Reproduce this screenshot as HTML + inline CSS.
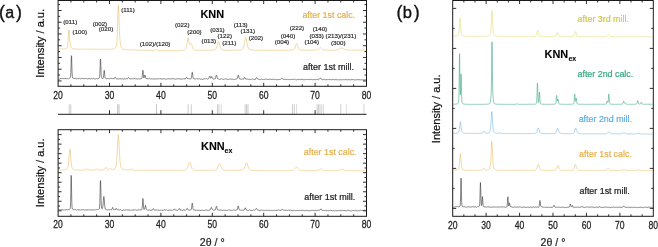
<!DOCTYPE html>
<html><head><meta charset="utf-8"><style>
html,body{margin:0;padding:0;background:#fff;}
body{width:658px;height:247px;overflow:hidden;font-family:"Liberation Sans",sans-serif;}
svg{display:block;will-change:transform;}
text{font-family:"Liberation Sans",sans-serif;}
</style></head><body>
<svg width="658" height="247" viewBox="0 0 658 247" font-family="Liberation Sans, sans-serif"><path d="M58.60,49.01 L58.95,49.03 L59.30,49.02 L59.65,49.04 L60.00,49.05 L60.35,48.98 L60.70,48.94 L61.05,49.02 L61.40,48.98 L61.75,48.95 L62.10,49.03 L62.45,49.00 L62.80,49.03 L63.15,48.98 L63.50,48.97 L63.85,48.89 L64.20,48.89 L64.55,48.90 L64.90,48.83 L65.25,48.79 L65.60,48.72 L65.95,48.53 L66.30,48.43 L66.65,48.22 L67.00,47.81 L67.35,46.97 L67.70,45.23 L68.05,41.44 L68.40,35.50 L68.75,29.94 L69.10,30.21 L69.45,35.41 L69.80,40.03 L70.15,42.85 L70.50,44.78 L70.85,46.38 L71.20,47.47 L71.55,48.02 L71.90,48.33 L72.25,48.51 L72.60,48.72 L72.95,48.78 L73.30,48.86 L73.65,48.88 L74.00,48.92 L74.35,48.94 L74.70,48.96 L75.05,49.01 L75.40,49.04 L75.75,49.10 L76.10,49.11 L76.45,49.16 L76.80,49.18 L77.15,49.21 L77.50,49.19 L77.85,49.11 L78.20,49.16 L78.55,49.21 L78.90,49.23 L79.25,49.20 L79.60,49.20 L79.95,49.14 L80.30,49.19 L80.65,49.18 L81.00,49.15 L81.35,49.10 L81.70,49.17 L82.05,49.24 L82.40,49.15 L82.75,49.20 L83.10,49.18 L83.45,49.14 L83.80,49.13 L84.15,49.19 L84.50,49.24 L84.85,49.16 L85.20,49.19 L85.55,49.13 L85.90,49.19 L86.25,49.17 L86.60,49.24 L86.95,49.28 L87.30,49.25 L87.65,49.29 L88.00,49.23 L88.35,49.17 L88.70,49.20 L89.05,49.15 L89.40,49.14 L89.75,49.16 L90.10,49.20 L90.45,49.17 L90.80,49.13 L91.15,49.22 L91.50,49.20 L91.85,49.27 L92.20,49.30 L92.55,49.25 L92.90,49.24 L93.25,49.24 L93.60,49.25 L93.95,49.26 L94.30,49.25 L94.65,49.26 L95.00,49.31 L95.35,49.28 L95.70,49.25 L96.05,49.27 L96.40,49.22 L96.75,49.21 L97.10,49.28 L97.45,49.27 L97.80,49.26 L98.15,49.19 L98.50,49.20 L98.85,49.23 L99.20,49.17 L99.55,49.22 L99.90,49.25 L100.25,49.19 L100.60,49.24 L100.95,49.25 L101.30,49.28 L101.65,49.26 L102.00,49.30 L102.35,49.33 L102.70,49.25 L103.05,49.22 L103.40,49.28 L103.75,49.35 L104.10,49.30 L104.45,49.31 L104.80,49.33 L105.15,49.30 L105.50,49.30 L105.85,49.29 L106.20,49.29 L106.55,49.32 L106.90,49.30 L107.25,49.30 L107.60,49.35 L107.95,49.28 L108.30,49.31 L108.65,49.35 L109.00,49.31 L109.35,49.28 L109.70,49.33 L110.05,49.28 L110.40,49.24 L110.75,49.24 L111.10,49.26 L111.45,49.19 L111.80,49.16 L112.15,49.13 L112.50,49.16 L112.85,49.09 L113.20,49.08 L113.55,48.94 L113.90,48.84 L114.25,48.75 L114.60,48.65 L114.95,48.42 L115.30,48.11 L115.65,47.70 L116.00,47.16 L116.35,46.13 L116.70,44.14 L117.05,39.91 L117.40,31.98 L117.75,20.34 L118.10,8.63 L118.45,5.26 L118.80,12.92 L119.15,23.42 L119.50,31.81 L119.85,37.81 L120.20,41.98 L120.55,44.64 L120.90,46.33 L121.25,47.38 L121.60,48.00 L121.95,48.39 L122.30,48.72 L122.65,48.86 L123.00,48.95 L123.35,49.16 L123.70,49.30 L124.05,49.42 L124.40,49.44 L124.75,49.54 L125.10,49.61 L125.45,49.57 L125.80,49.63 L126.15,49.69 L126.50,49.72 L126.85,49.72 L127.20,49.70 L127.55,49.71 L127.90,49.71 L128.25,49.70 L128.60,49.77 L128.95,49.77 L129.30,49.85 L129.65,49.80 L130.00,49.89 L130.35,49.92 L130.70,49.97 L131.05,50.00 L131.40,50.03 L131.75,50.00 L132.10,49.92 L132.45,49.97 L132.80,49.93 L133.15,49.93 L133.50,49.99 L133.85,50.00 L134.20,50.00 L134.55,50.07 L134.90,50.07 L135.25,50.04 L135.60,50.02 L135.95,50.09 L136.30,50.08 L136.65,50.12 L137.00,50.09 L137.35,50.05 L137.70,50.08 L138.05,50.14 L138.40,50.09 L138.75,50.15 L139.10,50.20 L139.45,50.22 L139.80,50.23 L140.15,50.14 L140.50,50.17 L140.85,50.22 L141.20,50.15 L141.55,50.14 L141.90,50.14 L142.25,50.18 L142.60,50.19 L142.95,50.20 L143.30,50.25 L143.65,50.18 L144.00,50.16 L144.35,50.15 L144.70,50.15 L145.05,50.15 L145.40,50.27 L145.75,50.32 L146.10,50.26 L146.45,50.28 L146.80,50.27 L147.15,50.26 L147.50,50.27 L147.85,50.31 L148.20,50.33 L148.55,50.32 L148.90,50.29 L149.25,50.30 L149.60,50.28 L149.95,50.32 L150.30,50.37 L150.65,50.36 L151.00,50.31 L151.35,50.30 L151.70,50.32 L152.05,50.37 L152.40,50.41 L152.75,50.39 L153.10,50.43 L153.45,50.42 L153.80,50.38 L154.15,50.33 L154.50,50.28 L154.85,50.20 L155.20,50.02 L155.55,49.83 L155.90,49.60 L156.25,49.46 L156.60,49.57 L156.95,49.81 L157.30,49.98 L157.65,50.17 L158.00,50.30 L158.35,50.43 L158.70,50.52 L159.05,50.50 L159.40,50.55 L159.75,50.58 L160.10,50.52 L160.45,50.52 L160.80,50.48 L161.15,50.55 L161.50,50.58 L161.85,50.62 L162.20,50.64 L162.55,50.63 L162.90,50.64 L163.25,50.62 L163.60,50.56 L163.95,50.59 L164.30,50.53 L164.65,50.52 L165.00,50.60 L165.35,50.55 L165.70,50.53 L166.05,50.52 L166.40,50.62 L166.75,50.59 L167.10,50.55 L167.45,50.64 L167.80,50.59 L168.15,50.67 L168.50,50.69 L168.85,50.72 L169.20,50.75 L169.55,50.73 L169.90,50.74 L170.25,50.65 L170.60,50.70 L170.95,50.70 L171.30,50.72 L171.65,50.66 L172.00,50.71 L172.35,50.76 L172.70,50.68 L173.05,50.67 L173.40,50.70 L173.75,50.75 L174.10,50.70 L174.45,50.66 L174.80,50.66 L175.15,50.70 L175.50,50.73 L175.85,50.69 L176.20,50.67 L176.55,50.65 L176.90,50.63 L177.25,50.62 L177.60,50.57 L177.95,50.59 L178.30,50.65 L178.65,50.61 L179.00,50.62 L179.35,50.55 L179.70,50.57 L180.05,50.57 L180.40,50.56 L180.75,50.52 L181.10,50.48 L181.45,50.47 L181.80,50.48 L182.15,50.37 L182.50,50.28 L182.85,50.29 L183.20,50.29 L183.55,50.21 L183.90,50.11 L184.25,50.04 L184.60,49.85 L184.95,49.66 L185.30,49.36 L185.65,48.96 L186.00,48.24 L186.35,47.11 L186.70,45.54 L187.05,43.48 L187.40,41.00 L187.75,38.83 L188.10,37.68 L188.45,38.23 L188.80,39.95 L189.15,41.92 L189.50,43.50 L189.85,44.36 L190.20,44.55 L190.55,44.18 L190.90,43.66 L191.25,43.60 L191.60,44.23 L191.95,45.41 L192.30,46.59 L192.65,47.74 L193.00,48.55 L193.35,49.12 L193.70,49.48 L194.05,49.75 L194.40,49.91 L194.75,49.98 L195.10,50.03 L195.45,50.10 L195.80,50.17 L196.15,50.15 L196.50,50.20 L196.85,50.26 L197.20,50.23 L197.55,50.19 L197.90,50.17 L198.25,50.23 L198.60,50.26 L198.95,50.31 L199.30,50.33 L199.65,50.26 L200.00,50.21 L200.35,50.20 L200.70,50.19 L201.05,50.25 L201.40,50.31 L201.75,50.34 L202.10,50.28 L202.45,50.33 L202.80,50.28 L203.15,50.27 L203.50,50.30 L203.85,50.24 L204.20,50.20 L204.55,50.28 L204.90,50.25 L205.25,50.24 L205.60,50.27 L205.95,50.29 L206.30,50.22 L206.65,50.22 L207.00,50.23 L207.35,50.24 L207.70,50.21 L208.05,50.24 L208.40,50.30 L208.75,50.26 L209.10,50.25 L209.45,50.19 L209.80,50.17 L210.15,50.21 L210.50,50.15 L210.85,50.21 L211.20,50.24 L211.55,50.15 L211.90,50.19 L212.25,50.13 L212.60,50.14 L212.95,50.12 L213.30,50.03 L213.65,50.01 L214.00,49.96 L214.35,49.91 L214.70,49.75 L215.05,49.63 L215.40,49.44 L215.75,49.08 L216.10,48.53 L216.45,47.73 L216.80,46.76 L217.15,45.53 L217.50,44.22 L217.85,42.94 L218.20,42.01 L218.55,41.74 L218.90,42.35 L219.25,43.51 L219.60,44.82 L219.95,46.18 L220.30,47.30 L220.65,48.10 L221.00,48.79 L221.35,49.16 L221.70,49.44 L222.05,49.67 L222.40,49.81 L222.75,49.90 L223.10,49.97 L223.45,50.00 L223.80,50.01 L224.15,50.01 L224.50,50.01 L224.85,50.09 L225.20,50.15 L225.55,50.17 L225.90,50.20 L226.25,50.18 L226.60,50.16 L226.95,50.16 L227.30,50.23 L227.65,50.16 L228.00,50.19 L228.35,50.17 L228.70,50.23 L229.05,50.21 L229.40,50.20 L229.75,50.20 L230.10,50.22 L230.45,50.26 L230.80,50.23 L231.15,50.27 L231.50,50.20 L231.85,50.18 L232.20,50.15 L232.55,50.13 L232.90,50.21 L233.25,50.24 L233.60,50.19 L233.95,50.16 L234.30,50.17 L234.65,50.21 L235.00,50.24 L235.35,50.25 L235.70,50.22 L236.05,50.15 L236.40,50.14 L236.75,50.10 L237.10,50.11 L237.45,50.12 L237.80,50.06 L238.15,50.03 L238.50,50.07 L238.85,49.98 L239.20,50.02 L239.55,50.03 L239.90,50.02 L240.25,49.92 L240.60,49.85 L240.95,49.78 L241.30,49.69 L241.65,49.62 L242.00,49.44 L242.35,49.13 L242.70,48.79 L243.05,48.18 L243.40,47.33 L243.75,46.14 L244.10,44.48 L244.45,42.61 L244.80,40.52 L245.15,38.55 L245.50,37.27 L245.85,37.13 L246.20,38.17 L246.55,40.06 L246.90,42.11 L247.25,44.12 L247.60,45.81 L247.95,47.08 L248.30,48.01 L248.65,48.70 L249.00,49.14 L249.35,49.33 L249.70,49.55 L250.05,49.68 L250.40,49.70 L250.75,49.77 L251.10,49.82 L251.45,49.84 L251.80,49.92 L252.15,50.03 L252.50,50.03 L252.85,50.10 L253.20,50.13 L253.55,50.08 L253.90,50.15 L254.25,50.16 L254.60,50.22 L254.95,50.23 L255.30,50.24 L255.65,50.20 L256.00,50.24 L256.35,50.28 L256.70,50.30 L257.05,50.25 L257.40,50.27 L257.75,50.25 L258.10,50.19 L258.45,50.15 L258.80,50.14 L259.15,50.14 L259.50,50.15 L259.85,50.19 L260.20,50.24 L260.55,50.25 L260.90,50.24 L261.25,50.27 L261.60,50.24 L261.95,50.24 L262.30,50.29 L262.65,50.26 L263.00,50.22 L263.35,50.29 L263.70,50.31 L264.05,50.27 L264.40,50.25 L264.75,50.27 L265.10,50.28 L265.45,50.24 L265.80,50.19 L266.15,50.19 L266.50,50.26 L266.85,50.22 L267.20,50.24 L267.55,50.22 L267.90,50.20 L268.25,50.19 L268.60,50.22 L268.95,50.20 L269.30,50.17 L269.65,50.17 L270.00,50.17 L270.35,50.22 L270.70,50.19 L271.05,50.16 L271.40,50.21 L271.75,50.23 L272.10,50.27 L272.45,50.22 L272.80,50.23 L273.15,50.24 L273.50,50.19 L273.85,50.29 L274.20,50.25 L274.55,50.21 L274.90,50.23 L275.25,50.21 L275.60,50.25 L275.95,50.24 L276.30,50.21 L276.65,50.18 L277.00,50.25 L277.35,50.23 L277.70,50.28 L278.05,50.27 L278.40,50.33 L278.75,50.27 L279.10,50.24 L279.45,50.22 L279.80,50.28 L280.15,50.29 L280.50,50.25 L280.85,50.20 L281.20,50.25 L281.55,50.31 L281.90,50.30 L282.25,50.21 L282.60,50.17 L282.95,50.15 L283.30,50.15 L283.65,50.13 L284.00,50.12 L284.35,50.20 L284.70,50.27 L285.05,50.21 L285.40,50.28 L285.75,50.25 L286.10,50.28 L286.45,50.31 L286.80,50.32 L287.15,50.21 L287.50,50.18 L287.85,50.20 L288.20,50.25 L288.55,50.17 L288.90,50.14 L289.25,50.20 L289.60,50.13 L289.95,50.12 L290.30,50.10 L290.65,50.12 L291.00,50.16 L291.35,50.07 L291.70,50.07 L292.05,50.06 L292.40,50.04 L292.75,49.96 L293.10,49.91 L293.45,49.74 L293.80,49.53 L294.15,49.20 L294.50,48.78 L294.85,48.09 L295.20,47.13 L295.55,45.98 L295.90,44.83 L296.25,43.87 L296.60,43.50 L296.95,43.88 L297.30,44.86 L297.65,46.01 L298.00,47.18 L298.35,48.04 L298.70,48.73 L299.05,49.24 L299.40,49.56 L299.75,49.67 L300.10,49.77 L300.45,49.92 L300.80,49.99 L301.15,50.07 L301.50,50.12 L301.85,50.10 L302.20,50.16 L302.55,50.17 L302.90,50.13 L303.25,50.12 L303.60,50.08 L303.95,50.10 L304.30,50.19 L304.65,50.13 L305.00,50.16 L305.35,50.12 L305.70,50.09 L306.05,50.16 L306.40,50.14 L306.75,50.10 L307.10,50.10 L307.45,50.16 L307.80,50.19 L308.15,50.13 L308.50,50.12 L308.85,50.22 L309.20,50.17 L309.55,50.19 L309.90,50.18 L310.25,50.22 L310.60,50.22 L310.95,50.24 L311.30,50.22 L311.65,50.17 L312.00,50.13 L312.35,50.10 L312.70,50.17 L313.05,50.12 L313.40,50.08 L313.75,50.17 L314.10,50.12 L314.45,50.18 L314.80,50.10 L315.15,50.09 L315.50,50.05 L315.85,50.10 L316.20,50.08 L316.55,50.04 L316.90,50.00 L317.25,49.94 L317.60,49.75 L317.95,49.56 L318.30,49.27 L318.65,48.88 L319.00,48.54 L319.35,48.12 L319.70,47.76 L320.05,47.46 L320.40,47.45 L320.75,47.68 L321.10,48.09 L321.45,48.45 L321.80,48.85 L322.15,49.21 L322.50,49.44 L322.85,49.67 L323.20,49.86 L323.55,49.93 L323.90,50.01 L324.25,50.06 L324.60,50.04 L324.95,50.05 L325.30,50.15 L325.65,50.12 L326.00,50.12 L326.35,50.08 L326.70,50.07 L327.05,50.06 L327.40,50.16 L327.75,50.19 L328.10,50.22 L328.45,50.26 L328.80,50.23 L329.15,50.26 L329.50,50.22 L329.85,50.18 L330.20,50.23 L330.55,50.25 L330.90,50.27 L331.25,50.22 L331.60,50.22 L331.95,50.18 L332.30,50.23 L332.65,50.24 L333.00,50.17 L333.35,50.21 L333.70,50.13 L334.05,50.07 L334.40,50.12 L334.75,50.08 L335.10,50.09 L335.45,50.10 L335.80,50.01 L336.15,50.05 L336.50,49.99 L336.85,49.96 L337.20,49.90 L337.55,49.89 L337.90,49.83 L338.25,49.69 L338.60,49.51 L338.95,49.35 L339.30,49.19 L339.65,48.94 L340.00,48.71 L340.35,48.55 L340.70,48.35 L341.05,48.20 L341.40,48.09 L341.75,48.02 L342.10,47.99 L342.45,48.04 L342.80,48.20 L343.15,48.43 L343.50,48.68 L343.85,48.92 L344.20,49.12 L344.55,49.37 L344.90,49.49 L345.25,49.63 L345.60,49.79 L345.95,49.90 L346.30,49.92 L346.65,49.93 L347.00,50.03 L347.35,49.98 L347.70,49.98 L348.05,50.04 L348.40,50.07 L348.75,50.05 L349.10,50.02 L349.45,50.03 L349.80,50.11 L350.15,50.12 L350.50,50.19 L350.85,50.21 L351.20,50.25 L351.55,50.15 L351.90,50.11 L352.25,50.07 L352.60,50.10 L352.95,50.11 L353.30,50.08 L353.65,50.13 L354.00,50.09 L354.35,50.11 L354.70,50.10 L355.05,50.18 L355.40,50.17 L355.75,50.14 L356.10,50.10 L356.45,50.13 L356.80,50.17 L357.15,50.20 L357.50,50.24 L357.85,50.26 L358.20,50.19 L358.55,50.14 L358.90,50.19 L359.25,50.23 L359.60,50.21 L359.95,50.24 L360.30,50.22 L360.65,50.18 L361.00,50.14 L361.35,50.10 L361.70,50.16 L362.05,50.22 L362.40,50.26 L362.75,50.22 L363.10,50.23 L363.45,50.26 L363.80,50.27 L364.15,50.24 L364.50,50.21 L364.85,50.20 L365.20,50.15 L365.55,50.13 L365.90,50.18" fill="none" stroke="#ebbd66" stroke-width="0.60" stroke-linejoin="round"/>
<path d="M58.60,79.77 L58.85,79.66 L59.10,79.54 L59.35,79.45 L59.60,79.21 L59.85,79.08 L60.10,78.57 L60.35,78.56 L60.60,78.79 L60.85,78.77 L61.10,78.89 L61.35,78.57 L61.60,78.56 L61.85,78.45 L62.10,78.54 L62.35,78.60 L62.60,78.36 L62.85,78.33 L63.10,78.34 L63.35,78.66 L63.60,78.76 L63.85,78.52 L64.10,78.69 L64.35,78.47 L64.60,78.58 L64.85,78.40 L65.10,78.24 L65.35,78.58 L65.60,78.44 L65.85,78.36 L66.10,78.69 L66.35,78.82 L66.60,78.60 L66.85,78.81 L67.10,78.71 L67.35,78.72 L67.60,78.49 L67.85,78.72 L68.10,78.72 L68.35,78.84 L68.60,78.86 L68.85,78.56 L69.10,78.41 L69.35,78.20 L69.60,78.03 L69.85,77.83 L70.10,77.73 L70.35,77.54 L70.60,76.18 L70.85,72.65 L71.10,64.56 L71.35,55.67 L71.60,56.45 L71.85,65.57 L72.10,73.16 L72.35,76.61 L72.60,77.78 L72.85,77.87 L73.10,78.35 L73.35,78.16 L73.60,78.42 L73.85,78.63 L74.10,78.34 L74.35,78.57 L74.60,78.50 L74.85,78.57 L75.10,78.34 L75.35,78.23 L75.60,78.24 L75.85,78.62 L76.10,78.47 L76.35,78.66 L76.60,78.85 L76.85,78.96 L77.10,78.74 L77.35,78.62 L77.60,78.64 L77.85,78.77 L78.10,78.52 L78.35,78.70 L78.60,78.82 L78.85,78.92 L79.10,78.57 L79.35,78.82 L79.60,78.55 L79.85,78.52 L80.10,78.63 L80.35,78.85 L80.60,78.69 L80.85,78.88 L81.10,78.80 L81.35,78.65 L81.60,78.57 L81.85,78.46 L82.10,78.35 L82.35,78.32 L82.60,78.57 L82.85,78.86 L83.10,78.61 L83.35,78.42 L83.60,78.77 L83.85,78.74 L84.10,78.67 L84.35,78.55 L84.60,78.65 L84.85,78.82 L85.10,78.74 L85.35,78.67 L85.60,78.46 L85.85,78.76 L86.10,78.50 L86.35,78.58 L86.60,78.79 L86.85,78.57 L87.10,78.73 L87.35,78.93 L87.60,78.89 L87.85,78.94 L88.10,78.64 L88.35,78.63 L88.60,78.49 L88.85,78.75 L89.10,78.62 L89.35,78.63 L89.60,78.90 L89.85,78.98 L90.10,79.08 L90.35,78.89 L90.60,78.79 L90.85,78.86 L91.10,78.78 L91.35,78.64 L91.60,78.62 L91.85,78.48 L92.10,78.52 L92.35,78.83 L92.60,78.99 L92.85,78.92 L93.10,78.82 L93.35,78.68 L93.60,78.49 L93.85,78.47 L94.10,78.70 L94.35,78.87 L94.60,78.72 L94.85,78.84 L95.10,78.90 L95.35,78.89 L95.60,78.87 L95.85,78.90 L96.10,78.72 L96.35,78.79 L96.60,78.61 L96.85,78.61 L97.10,78.74 L97.35,78.76 L97.60,78.57 L97.85,78.76 L98.10,78.71 L98.35,78.61 L98.60,78.24 L98.85,78.23 L99.10,77.98 L99.35,77.76 L99.60,76.61 L99.85,73.58 L100.10,67.28 L100.35,60.22 L100.60,58.96 L100.85,65.38 L101.10,72.36 L101.35,76.34 L101.60,77.62 L101.85,78.21 L102.10,78.47 L102.35,78.51 L102.60,78.66 L102.85,78.68 L103.10,78.34 L103.35,77.66 L103.60,75.80 L103.85,73.03 L104.10,70.32 L104.35,70.51 L104.60,73.63 L104.85,76.49 L105.10,77.98 L105.35,78.24 L105.60,78.57 L105.85,78.64 L106.10,78.72 L106.35,78.66 L106.60,78.73 L106.85,78.84 L107.10,78.84 L107.35,78.89 L107.60,78.58 L107.85,78.48 L108.10,78.56 L108.35,78.71 L108.60,78.59 L108.85,78.75 L109.10,78.81 L109.35,78.56 L109.60,78.63 L109.85,78.55 L110.10,78.43 L110.35,78.40 L110.60,78.47 L110.85,78.45 L111.10,78.44 L111.35,78.36 L111.60,78.52 L111.85,78.57 L112.10,78.71 L112.35,78.78 L112.60,78.64 L112.85,78.89 L113.10,78.58 L113.35,78.61 L113.60,78.55 L113.85,78.56 L114.10,78.35 L114.35,78.45 L114.60,78.07 L114.85,77.49 L115.10,77.42 L115.35,77.37 L115.60,77.86 L115.85,78.19 L116.10,78.53 L116.35,78.89 L116.60,79.01 L116.85,78.87 L117.10,78.98 L117.35,78.97 L117.60,78.82 L117.85,78.64 L118.10,78.76 L118.35,78.81 L118.60,79.03 L118.85,79.15 L119.10,79.05 L119.35,78.87 L119.60,79.03 L119.85,78.69 L120.10,78.56 L120.35,78.70 L120.60,78.81 L120.85,78.64 L121.10,78.78 L121.35,78.99 L121.60,78.85 L121.85,78.80 L122.10,78.68 L122.35,78.64 L122.60,78.95 L122.85,78.84 L123.10,79.06 L123.35,79.15 L123.60,79.05 L123.85,78.83 L124.10,79.06 L124.35,78.96 L124.60,78.86 L124.85,78.75 L125.10,79.02 L125.35,78.93 L125.60,78.78 L125.85,78.79 L126.10,78.62 L126.35,78.76 L126.60,78.75 L126.85,78.67 L127.10,78.84 L127.35,78.92 L127.60,78.47 L127.85,78.29 L128.10,77.84 L128.35,77.77 L128.60,77.78 L128.85,77.84 L129.10,78.11 L129.35,78.30 L129.60,78.81 L129.85,78.74 L130.10,78.84 L130.35,78.83 L130.60,78.90 L130.85,78.93 L131.10,79.01 L131.35,78.75 L131.60,78.92 L131.85,78.79 L132.10,78.84 L132.35,78.77 L132.60,78.71 L132.85,78.79 L133.10,78.80 L133.35,78.76 L133.60,78.93 L133.85,78.94 L134.10,78.68 L134.35,78.64 L134.60,78.72 L134.85,78.99 L135.10,79.12 L135.35,79.03 L135.60,78.72 L135.85,78.92 L136.10,78.86 L136.35,78.90 L136.60,78.98 L136.85,78.99 L137.10,78.93 L137.35,79.10 L137.60,78.94 L137.85,78.85 L138.10,79.02 L138.35,78.80 L138.60,78.72 L138.85,78.94 L139.10,78.69 L139.35,78.92 L139.60,78.97 L139.85,78.87 L140.10,78.74 L140.35,78.90 L140.60,79.04 L140.85,78.73 L141.10,78.70 L141.35,78.68 L141.60,78.59 L141.85,78.26 L142.10,77.40 L142.35,75.71 L142.60,72.87 L142.85,70.20 L143.10,71.09 L143.35,74.40 L143.60,76.93 L143.85,77.95 L144.10,77.62 L144.35,77.04 L144.60,76.04 L144.85,75.12 L145.10,75.12 L145.35,75.93 L145.60,77.40 L145.85,78.05 L146.10,78.56 L146.35,78.93 L146.60,78.99 L146.85,78.74 L147.10,78.69 L147.35,78.97 L147.60,78.75 L147.85,78.86 L148.10,78.82 L148.35,78.69 L148.60,78.84 L148.85,78.64 L149.10,78.56 L149.35,78.65 L149.60,78.56 L149.85,78.50 L150.10,78.72 L150.35,78.92 L150.60,79.10 L150.85,78.84 L151.10,78.84 L151.35,78.78 L151.60,78.89 L151.85,78.90 L152.10,79.12 L152.35,78.97 L152.60,78.73 L152.85,78.91 L153.10,78.75 L153.35,78.89 L153.60,78.91 L153.85,79.12 L154.10,79.06 L154.35,79.06 L154.60,78.89 L154.85,78.93 L155.10,78.81 L155.35,78.99 L155.60,78.97 L155.85,78.78 L156.10,78.72 L156.35,78.76 L156.60,78.95 L156.85,78.79 L157.10,78.96 L157.35,79.03 L157.60,78.79 L157.85,78.94 L158.10,78.74 L158.35,78.65 L158.60,78.83 L158.85,78.75 L159.10,79.02 L159.35,78.98 L159.60,78.88 L159.85,79.05 L160.10,78.78 L160.35,78.96 L160.60,78.74 L160.85,78.67 L161.10,79.01 L161.35,79.07 L161.60,78.89 L161.85,78.73 L162.10,79.06 L162.35,79.09 L162.60,79.19 L162.85,78.91 L163.10,78.99 L163.35,78.91 L163.60,78.80 L163.85,78.79 L164.10,78.92 L164.35,78.87 L164.60,78.85 L164.85,78.73 L165.10,78.99 L165.35,79.05 L165.60,79.16 L165.85,79.04 L166.10,79.18 L166.35,79.09 L166.60,79.08 L166.85,79.07 L167.10,79.14 L167.35,79.01 L167.60,78.80 L167.85,78.65 L168.10,78.65 L168.35,78.57 L168.60,78.94 L168.85,78.95 L169.10,79.09 L169.35,78.79 L169.60,78.86 L169.85,79.10 L170.10,79.10 L170.35,79.01 L170.60,78.98 L170.85,78.78 L171.10,78.70 L171.35,78.66 L171.60,78.74 L171.85,78.80 L172.10,79.06 L172.35,78.86 L172.60,78.79 L172.85,78.77 L173.10,78.70 L173.35,78.73 L173.60,78.71 L173.85,78.83 L174.10,78.67 L174.35,79.02 L174.60,78.94 L174.85,79.18 L175.10,79.18 L175.35,79.18 L175.60,79.08 L175.85,79.26 L176.10,78.95 L176.35,79.05 L176.60,78.92 L176.85,79.04 L177.10,79.13 L177.35,78.90 L177.60,78.80 L177.85,78.66 L178.10,78.68 L178.35,78.62 L178.60,78.74 L178.85,79.08 L179.10,78.98 L179.35,78.90 L179.60,78.93 L179.85,78.85 L180.10,79.03 L180.35,79.12 L180.60,78.90 L180.85,78.82 L181.10,78.98 L181.35,79.20 L181.60,79.18 L181.85,79.07 L182.10,79.27 L182.35,78.90 L182.60,78.73 L182.85,78.99 L183.10,78.95 L183.35,78.74 L183.60,78.88 L183.85,79.16 L184.10,79.09 L184.35,78.97 L184.60,78.77 L184.85,78.64 L185.10,78.96 L185.35,78.90 L185.60,78.99 L185.85,78.44 L186.10,77.97 L186.35,77.40 L186.60,77.28 L186.85,77.37 L187.10,77.84 L187.35,78.32 L187.60,78.56 L187.85,78.55 L188.10,78.52 L188.35,78.95 L188.60,78.80 L188.85,78.87 L189.10,78.86 L189.35,78.91 L189.60,78.71 L189.85,78.71 L190.10,78.59 L190.35,78.72 L190.60,78.95 L190.85,78.85 L191.10,78.73 L191.35,77.86 L191.60,76.30 L191.85,74.35 L192.10,72.41 L192.35,72.21 L192.60,73.88 L192.85,76.14 L193.10,77.77 L193.35,78.67 L193.60,78.76 L193.85,78.83 L194.10,79.04 L194.35,78.87 L194.60,78.73 L194.85,78.75 L195.10,78.66 L195.35,78.94 L195.60,79.12 L195.85,78.98 L196.10,78.81 L196.35,78.70 L196.60,78.72 L196.85,78.65 L197.10,78.79 L197.35,78.93 L197.60,78.85 L197.85,78.72 L198.10,78.96 L198.35,78.77 L198.60,78.75 L198.85,78.77 L199.10,78.83 L199.35,78.73 L199.60,78.83 L199.85,78.84 L200.10,79.05 L200.35,79.08 L200.60,79.25 L200.85,79.24 L201.10,79.28 L201.35,79.21 L201.60,79.11 L201.85,79.24 L202.10,79.23 L202.35,79.37 L202.60,79.33 L202.85,79.30 L203.10,79.08 L203.35,79.22 L203.60,79.08 L203.85,78.89 L204.10,78.75 L204.35,78.72 L204.60,78.75 L204.85,78.97 L205.10,78.90 L205.35,78.75 L205.60,79.01 L205.85,79.05 L206.10,78.81 L206.35,78.69 L206.60,78.66 L206.85,78.75 L207.10,79.04 L207.35,79.24 L207.60,79.17 L207.85,78.94 L208.10,78.88 L208.35,78.76 L208.60,78.54 L208.85,77.98 L209.10,77.51 L209.35,76.89 L209.60,76.29 L209.85,76.00 L210.10,76.69 L210.35,77.34 L210.60,78.08 L210.85,78.22 L211.10,78.18 L211.35,77.64 L211.60,76.73 L211.85,76.51 L212.10,77.25 L212.35,77.88 L212.60,78.40 L212.85,78.70 L213.10,78.99 L213.35,79.21 L213.60,79.12 L213.85,79.28 L214.10,79.18 L214.35,78.88 L214.60,79.04 L214.85,78.90 L215.10,78.54 L215.35,78.55 L215.60,77.64 L215.85,76.76 L216.10,75.62 L216.35,75.09 L216.60,75.23 L216.85,76.12 L217.10,77.20 L217.35,77.95 L217.60,78.55 L217.85,78.73 L218.10,79.00 L218.35,78.90 L218.60,78.89 L218.85,78.85 L219.10,79.18 L219.35,79.30 L219.60,79.37 L219.85,79.30 L220.10,79.16 L220.35,78.96 L220.60,79.18 L220.85,79.14 L221.10,78.90 L221.35,78.84 L221.60,78.77 L221.85,79.03 L222.10,79.26 L222.35,79.05 L222.60,79.23 L222.85,79.10 L223.10,79.20 L223.35,79.35 L223.60,79.31 L223.85,79.38 L224.10,79.21 L224.35,78.94 L224.60,79.03 L224.85,79.12 L225.10,78.98 L225.35,79.00 L225.60,78.98 L225.85,78.82 L226.10,78.88 L226.35,78.94 L226.60,79.03 L226.85,79.18 L227.10,79.12 L227.35,79.37 L227.60,79.43 L227.85,79.51 L228.10,79.45 L228.35,79.40 L228.60,79.31 L228.85,79.39 L229.10,79.22 L229.35,79.24 L229.60,79.30 L229.85,79.25 L230.10,79.11 L230.35,78.93 L230.60,78.84 L230.85,78.92 L231.10,79.07 L231.35,79.24 L231.60,79.32 L231.85,79.16 L232.10,79.37 L232.35,79.17 L232.60,79.28 L232.85,79.02 L233.10,79.21 L233.35,79.28 L233.60,79.45 L233.85,79.52 L234.10,79.45 L234.35,79.49 L234.60,79.46 L234.85,79.37 L235.10,79.13 L235.35,79.14 L235.60,79.33 L235.85,79.10 L236.10,79.33 L236.35,79.22 L236.60,79.06 L236.85,78.71 L237.10,78.51 L237.35,77.90 L237.60,77.16 L237.85,76.16 L238.10,75.23 L238.35,75.01 L238.60,75.75 L238.85,76.78 L239.10,77.97 L239.35,78.62 L239.60,79.02 L239.85,79.03 L240.10,79.28 L240.35,79.08 L240.60,79.02 L240.85,78.98 L241.10,79.13 L241.35,79.34 L241.60,79.11 L241.85,79.21 L242.10,79.32 L242.35,79.12 L242.60,78.93 L242.85,79.06 L243.10,79.24 L243.35,79.32 L243.60,79.19 L243.85,78.75 L244.10,78.21 L244.35,77.67 L244.60,77.48 L244.85,77.38 L245.10,77.75 L245.35,78.39 L245.60,79.02 L245.85,79.00 L246.10,78.89 L246.35,78.86 L246.60,79.06 L246.85,79.19 L247.10,79.06 L247.35,78.99 L247.60,79.15 L247.85,79.27 L248.10,79.35 L248.35,79.42 L248.60,79.14 L248.85,79.19 L249.10,79.38 L249.35,79.55 L249.60,79.34 L249.85,79.48 L250.10,79.46 L250.35,79.58 L250.60,79.31 L250.85,79.39 L251.10,79.51 L251.35,79.39 L251.60,79.15 L251.85,79.06 L252.10,78.99 L252.35,78.92 L252.60,78.92 L252.85,79.14 L253.10,79.01 L253.35,79.25 L253.60,79.38 L253.85,79.48 L254.10,79.53 L254.35,79.51 L254.60,79.59 L254.85,79.64 L255.10,79.46 L255.35,79.44 L255.60,78.87 L255.85,78.35 L256.10,77.85 L256.35,77.56 L256.60,77.61 L256.85,77.94 L257.10,78.46 L257.35,78.91 L257.60,78.90 L257.85,79.05 L258.10,79.19 L258.35,79.18 L258.60,79.05 L258.85,79.21 L259.10,79.20 L259.35,79.34 L259.60,79.33 L259.85,79.55 L260.10,79.67 L260.35,79.31 L260.60,79.44 L260.85,79.50 L261.10,79.33 L261.35,79.15 L261.60,79.22 L261.85,79.21 L262.10,79.38 L262.35,79.57 L262.60,79.41 L262.85,79.28 L263.10,79.31 L263.35,79.43 L263.60,79.53 L263.85,79.49 L264.10,79.33 L264.35,79.26 L264.60,79.48 L264.85,79.43 L265.10,79.18 L265.35,79.23 L265.60,79.16 L265.85,79.34 L266.10,79.14 L266.35,79.13 L266.60,79.05 L266.85,79.18 L267.10,79.50 L267.35,79.47 L267.60,79.37 L267.85,79.59 L268.10,79.30 L268.35,79.26 L268.60,79.47 L268.85,79.19 L269.10,79.41 L269.35,79.33 L269.60,79.12 L269.85,79.12 L270.10,79.22 L270.35,79.24 L270.60,79.32 L270.85,79.14 L271.10,79.12 L271.35,79.47 L271.60,79.41 L271.85,79.39 L272.10,79.20 L272.35,79.18 L272.60,79.50 L272.85,79.55 L273.10,79.49 L273.35,79.24 L273.60,79.26 L273.85,79.46 L274.10,79.41 L274.35,79.46 L274.60,79.63 L274.85,79.61 L275.10,79.59 L275.35,79.28 L275.60,79.11 L275.85,79.38 L276.10,79.36 L276.35,79.57 L276.60,79.66 L276.85,79.75 L277.10,79.55 L277.35,79.73 L277.60,79.72 L277.85,79.78 L278.10,79.45 L278.35,79.57 L278.60,79.47 L278.85,79.68 L279.10,79.80 L279.35,79.49 L279.60,79.42 L279.85,79.30 L280.10,79.33 L280.35,79.24 L280.60,79.35 L280.85,79.10 L281.10,78.89 L281.35,78.79 L281.60,78.40 L281.85,78.22 L282.10,78.35 L282.35,78.52 L282.60,78.46 L282.85,78.51 L283.10,79.03 L283.35,79.43 L283.60,79.49 L283.85,79.30 L284.10,79.24 L284.35,79.54 L284.60,79.71 L284.85,79.37 L285.10,79.25 L285.35,79.31 L285.60,79.27 L285.85,79.48 L286.10,79.41 L286.35,79.57 L286.60,79.36 L286.85,79.42 L287.10,79.68 L287.35,79.69 L287.60,79.40 L287.85,79.25 L288.10,79.42 L288.35,79.39 L288.60,79.37 L288.85,79.41 L289.10,79.49 L289.35,79.72 L289.60,79.49 L289.85,79.53 L290.10,79.40 L290.35,79.47 L290.60,79.59 L290.85,79.37 L291.10,79.42 L291.35,79.56 L291.60,79.30 L291.85,79.52 L292.10,79.48 L292.35,79.49 L292.60,79.55 L292.85,79.68 L293.10,79.39 L293.35,79.44 L293.60,79.25 L293.85,79.31 L294.10,79.33 L294.35,79.18 L294.60,79.23 L294.85,79.34 L295.10,79.49 L295.35,79.71 L295.60,79.56 L295.85,79.56 L296.10,79.65 L296.35,79.80 L296.60,79.90 L296.85,79.97 L297.10,79.67 L297.35,79.45 L297.60,79.69 L297.85,79.41 L298.10,79.44 L298.35,79.60 L298.60,79.58 L298.85,79.51 L299.10,79.73 L299.35,79.54 L299.60,79.57 L299.85,79.71 L300.10,79.46 L300.35,79.42 L300.60,79.47 L300.85,79.54 L301.10,79.40 L301.35,79.44 L301.60,79.27 L301.85,79.20 L302.10,79.28 L302.35,79.23 L302.60,79.60 L302.85,79.46 L303.10,79.39 L303.35,79.60 L303.60,79.70 L303.85,79.52 L304.10,79.69 L304.35,79.69 L304.60,79.58 L304.85,79.63 L305.10,79.48 L305.35,79.40 L305.60,79.65 L305.85,79.58 L306.10,79.77 L306.35,79.52 L306.60,79.36 L306.85,79.24 L307.10,79.50 L307.35,79.56 L307.60,79.33 L307.85,79.21 L308.10,79.53 L308.35,79.55 L308.60,79.74 L308.85,79.44 L309.10,79.54 L309.35,79.37 L309.60,79.57 L309.85,79.63 L310.10,79.66 L310.35,79.49 L310.60,79.75 L310.85,79.48 L311.10,79.31 L311.35,79.52 L311.60,79.35 L311.85,79.25 L312.10,79.38 L312.35,79.54 L312.60,79.75 L312.85,79.78 L313.10,79.49 L313.35,79.60 L313.60,79.76 L313.85,79.50 L314.10,79.66 L314.35,79.51 L314.60,79.45 L314.85,79.27 L315.10,79.54 L315.35,79.57 L315.60,79.77 L315.85,79.67 L316.10,79.47 L316.35,79.38 L316.60,79.36 L316.85,79.68 L317.10,79.49 L317.35,79.33 L317.60,79.37 L317.85,79.25 L318.10,79.35 L318.35,79.50 L318.60,79.58 L318.85,79.36 L319.10,79.16 L319.35,79.11 L319.60,79.02 L319.85,78.65 L320.10,78.35 L320.35,78.28 L320.60,77.99 L320.85,78.12 L321.10,78.53 L321.35,78.93 L321.60,79.40 L321.85,79.52 L322.10,79.64 L322.35,79.59 L322.60,79.73 L322.85,79.84 L323.10,79.63 L323.35,79.43 L323.60,79.40 L323.85,79.43 L324.10,79.70 L324.35,79.55 L324.60,79.65 L324.85,79.71 L325.10,79.89 L325.35,79.59 L325.60,79.74 L325.85,79.61 L326.10,79.43 L326.35,79.59 L326.60,79.78 L326.85,79.76 L327.10,79.49 L327.35,79.79 L327.60,79.67 L327.85,79.72 L328.10,79.80 L328.35,79.61 L328.60,79.59 L328.85,79.53 L329.10,79.39 L329.35,79.30 L329.60,79.56 L329.85,79.56 L330.10,79.78 L330.35,79.51 L330.60,79.48 L330.85,79.41 L331.10,79.74 L331.35,79.84 L331.60,79.96 L331.85,79.83 L332.10,79.56 L332.35,79.57 L332.60,79.48 L332.85,79.33 L333.10,79.52 L333.35,79.48 L333.60,79.38 L333.85,79.52 L334.10,79.80 L334.35,79.96 L334.60,79.81 L334.85,79.56 L335.10,79.74 L335.35,79.53 L335.60,79.61 L335.85,79.44 L336.10,79.79 L336.35,79.76 L336.60,79.70 L336.85,79.58 L337.10,79.65 L337.35,79.90 L337.60,79.77 L337.85,79.59 L338.10,79.64 L338.35,79.87 L338.60,79.73 L338.85,79.78 L339.10,79.94 L339.35,79.75 L339.60,79.88 L339.85,79.81 L340.10,79.58 L340.35,79.42 L340.60,79.76 L340.85,79.72 L341.10,79.68 L341.35,79.89 L341.60,79.84 L341.85,79.78 L342.10,79.64 L342.35,79.79 L342.60,79.63 L342.85,79.65 L343.10,79.80 L343.35,79.81 L343.60,79.59 L343.85,79.50 L344.10,79.69 L344.35,79.81 L344.60,79.58 L344.85,79.88 L345.10,79.63 L345.35,79.51 L345.60,79.40 L345.85,79.52 L346.10,79.67 L346.35,79.87 L346.60,79.64 L346.85,79.77 L347.10,79.56 L347.35,79.67 L347.60,79.58 L347.85,79.58 L348.10,79.43 L348.35,79.67 L348.60,79.52 L348.85,79.74 L349.10,79.66 L349.35,79.74 L349.60,79.80 L349.85,79.77 L350.10,79.94 L350.35,80.05 L350.60,79.81 L350.85,79.70 L351.10,79.90 L351.35,79.65 L351.60,79.65 L351.85,79.65 L352.10,79.93 L352.35,79.66 L352.60,79.78 L352.85,79.89 L353.10,79.94 L353.35,79.61 L353.60,79.89 L353.85,79.74 L354.10,79.92 L354.35,79.92 L354.60,79.81 L354.85,79.95 L355.10,79.95 L355.35,79.79 L355.60,79.89 L355.85,79.83 L356.10,79.90 L356.35,79.90 L356.60,79.98 L356.85,79.72 L357.10,79.74 L357.35,79.51 L357.60,79.77 L357.85,79.90 L358.10,80.00 L358.35,79.68 L358.60,79.74 L358.85,79.74 L359.10,79.57 L359.35,79.52 L359.60,79.86 L359.85,80.00 L360.10,79.77 L360.35,79.93 L360.60,79.94 L360.85,79.81 L361.10,79.87 L361.35,79.70 L361.60,79.63 L361.85,79.46 L362.10,79.68 L362.35,79.77 L362.60,79.90 L362.85,79.85 L363.10,79.79 L363.35,79.70 L363.60,79.85 L363.85,79.76 L364.10,79.82 L364.35,79.94 L364.60,79.85 L364.85,79.91 L365.10,79.65 L365.35,79.60 L365.60,79.85 L365.85,79.66" fill="none" stroke="#333333" stroke-width="0.60" stroke-linejoin="round"/>
<rect x="58.10" y="0.50" width="308.40" height="85.80" fill="none" stroke="#1a1a1a" stroke-width="1"/>
<line x1="109.50" y1="86.30" x2="109.50" y2="82.80" stroke="#1a1a1a" stroke-width="0.90"/>
<line x1="109.50" y1="0.50" x2="109.50" y2="4.00" stroke="#1a1a1a" stroke-width="0.90"/>
<line x1="160.90" y1="86.30" x2="160.90" y2="82.80" stroke="#1a1a1a" stroke-width="0.90"/>
<line x1="160.90" y1="0.50" x2="160.90" y2="4.00" stroke="#1a1a1a" stroke-width="0.90"/>
<line x1="212.30" y1="86.30" x2="212.30" y2="82.80" stroke="#1a1a1a" stroke-width="0.90"/>
<line x1="212.30" y1="0.50" x2="212.30" y2="4.00" stroke="#1a1a1a" stroke-width="0.90"/>
<line x1="263.70" y1="86.30" x2="263.70" y2="82.80" stroke="#1a1a1a" stroke-width="0.90"/>
<line x1="263.70" y1="0.50" x2="263.70" y2="4.00" stroke="#1a1a1a" stroke-width="0.90"/>
<line x1="315.10" y1="86.30" x2="315.10" y2="82.80" stroke="#1a1a1a" stroke-width="0.90"/>
<line x1="315.10" y1="0.50" x2="315.10" y2="4.00" stroke="#1a1a1a" stroke-width="0.90"/>
<line x1="70.95" y1="86.30" x2="70.95" y2="84.30" stroke="#1a1a1a" stroke-width="0.90"/>
<line x1="70.95" y1="0.50" x2="70.95" y2="2.50" stroke="#1a1a1a" stroke-width="0.90"/>
<line x1="83.80" y1="86.30" x2="83.80" y2="84.30" stroke="#1a1a1a" stroke-width="0.90"/>
<line x1="83.80" y1="0.50" x2="83.80" y2="2.50" stroke="#1a1a1a" stroke-width="0.90"/>
<line x1="96.65" y1="86.30" x2="96.65" y2="84.30" stroke="#1a1a1a" stroke-width="0.90"/>
<line x1="96.65" y1="0.50" x2="96.65" y2="2.50" stroke="#1a1a1a" stroke-width="0.90"/>
<line x1="122.35" y1="86.30" x2="122.35" y2="84.30" stroke="#1a1a1a" stroke-width="0.90"/>
<line x1="122.35" y1="0.50" x2="122.35" y2="2.50" stroke="#1a1a1a" stroke-width="0.90"/>
<line x1="135.20" y1="86.30" x2="135.20" y2="84.30" stroke="#1a1a1a" stroke-width="0.90"/>
<line x1="135.20" y1="0.50" x2="135.20" y2="2.50" stroke="#1a1a1a" stroke-width="0.90"/>
<line x1="148.05" y1="86.30" x2="148.05" y2="84.30" stroke="#1a1a1a" stroke-width="0.90"/>
<line x1="148.05" y1="0.50" x2="148.05" y2="2.50" stroke="#1a1a1a" stroke-width="0.90"/>
<line x1="173.75" y1="86.30" x2="173.75" y2="84.30" stroke="#1a1a1a" stroke-width="0.90"/>
<line x1="173.75" y1="0.50" x2="173.75" y2="2.50" stroke="#1a1a1a" stroke-width="0.90"/>
<line x1="186.60" y1="86.30" x2="186.60" y2="84.30" stroke="#1a1a1a" stroke-width="0.90"/>
<line x1="186.60" y1="0.50" x2="186.60" y2="2.50" stroke="#1a1a1a" stroke-width="0.90"/>
<line x1="199.45" y1="86.30" x2="199.45" y2="84.30" stroke="#1a1a1a" stroke-width="0.90"/>
<line x1="199.45" y1="0.50" x2="199.45" y2="2.50" stroke="#1a1a1a" stroke-width="0.90"/>
<line x1="225.15" y1="86.30" x2="225.15" y2="84.30" stroke="#1a1a1a" stroke-width="0.90"/>
<line x1="225.15" y1="0.50" x2="225.15" y2="2.50" stroke="#1a1a1a" stroke-width="0.90"/>
<line x1="238.00" y1="86.30" x2="238.00" y2="84.30" stroke="#1a1a1a" stroke-width="0.90"/>
<line x1="238.00" y1="0.50" x2="238.00" y2="2.50" stroke="#1a1a1a" stroke-width="0.90"/>
<line x1="250.85" y1="86.30" x2="250.85" y2="84.30" stroke="#1a1a1a" stroke-width="0.90"/>
<line x1="250.85" y1="0.50" x2="250.85" y2="2.50" stroke="#1a1a1a" stroke-width="0.90"/>
<line x1="276.55" y1="86.30" x2="276.55" y2="84.30" stroke="#1a1a1a" stroke-width="0.90"/>
<line x1="276.55" y1="0.50" x2="276.55" y2="2.50" stroke="#1a1a1a" stroke-width="0.90"/>
<line x1="289.40" y1="86.30" x2="289.40" y2="84.30" stroke="#1a1a1a" stroke-width="0.90"/>
<line x1="289.40" y1="0.50" x2="289.40" y2="2.50" stroke="#1a1a1a" stroke-width="0.90"/>
<line x1="302.25" y1="86.30" x2="302.25" y2="84.30" stroke="#1a1a1a" stroke-width="0.90"/>
<line x1="302.25" y1="0.50" x2="302.25" y2="2.50" stroke="#1a1a1a" stroke-width="0.90"/>
<line x1="327.95" y1="86.30" x2="327.95" y2="84.30" stroke="#1a1a1a" stroke-width="0.90"/>
<line x1="327.95" y1="0.50" x2="327.95" y2="2.50" stroke="#1a1a1a" stroke-width="0.90"/>
<line x1="340.80" y1="86.30" x2="340.80" y2="84.30" stroke="#1a1a1a" stroke-width="0.90"/>
<line x1="340.80" y1="0.50" x2="340.80" y2="2.50" stroke="#1a1a1a" stroke-width="0.90"/>
<line x1="353.65" y1="86.30" x2="353.65" y2="84.30" stroke="#1a1a1a" stroke-width="0.90"/>
<line x1="353.65" y1="0.50" x2="353.65" y2="2.50" stroke="#1a1a1a" stroke-width="0.90"/>
<line x1="58.10" y1="10.50" x2="61.60" y2="10.50" stroke="#1a1a1a" stroke-width="0.90"/>
<line x1="366.50" y1="10.50" x2="363.00" y2="10.50" stroke="#1a1a1a" stroke-width="0.90"/>
<line x1="58.10" y1="22.24" x2="61.60" y2="22.24" stroke="#1a1a1a" stroke-width="0.90"/>
<line x1="366.50" y1="22.24" x2="363.00" y2="22.24" stroke="#1a1a1a" stroke-width="0.90"/>
<line x1="58.10" y1="33.98" x2="61.60" y2="33.98" stroke="#1a1a1a" stroke-width="0.90"/>
<line x1="366.50" y1="33.98" x2="363.00" y2="33.98" stroke="#1a1a1a" stroke-width="0.90"/>
<line x1="58.10" y1="45.72" x2="61.60" y2="45.72" stroke="#1a1a1a" stroke-width="0.90"/>
<line x1="366.50" y1="45.72" x2="363.00" y2="45.72" stroke="#1a1a1a" stroke-width="0.90"/>
<line x1="58.10" y1="57.46" x2="61.60" y2="57.46" stroke="#1a1a1a" stroke-width="0.90"/>
<line x1="366.50" y1="57.46" x2="363.00" y2="57.46" stroke="#1a1a1a" stroke-width="0.90"/>
<line x1="58.10" y1="69.20" x2="61.60" y2="69.20" stroke="#1a1a1a" stroke-width="0.90"/>
<line x1="366.50" y1="69.20" x2="363.00" y2="69.20" stroke="#1a1a1a" stroke-width="0.90"/>
<line x1="58.10" y1="80.94" x2="61.60" y2="80.94" stroke="#1a1a1a" stroke-width="0.90"/>
<line x1="366.50" y1="80.94" x2="363.00" y2="80.94" stroke="#1a1a1a" stroke-width="0.90"/>
<line x1="58.10" y1="4.60" x2="60.10" y2="4.60" stroke="#1a1a1a" stroke-width="0.90"/>
<line x1="366.50" y1="4.60" x2="364.50" y2="4.60" stroke="#1a1a1a" stroke-width="0.90"/>
<line x1="58.10" y1="16.34" x2="60.10" y2="16.34" stroke="#1a1a1a" stroke-width="0.90"/>
<line x1="366.50" y1="16.34" x2="364.50" y2="16.34" stroke="#1a1a1a" stroke-width="0.90"/>
<line x1="58.10" y1="28.08" x2="60.10" y2="28.08" stroke="#1a1a1a" stroke-width="0.90"/>
<line x1="366.50" y1="28.08" x2="364.50" y2="28.08" stroke="#1a1a1a" stroke-width="0.90"/>
<line x1="58.10" y1="39.82" x2="60.10" y2="39.82" stroke="#1a1a1a" stroke-width="0.90"/>
<line x1="366.50" y1="39.82" x2="364.50" y2="39.82" stroke="#1a1a1a" stroke-width="0.90"/>
<line x1="58.10" y1="51.56" x2="60.10" y2="51.56" stroke="#1a1a1a" stroke-width="0.90"/>
<line x1="366.50" y1="51.56" x2="364.50" y2="51.56" stroke="#1a1a1a" stroke-width="0.90"/>
<line x1="58.10" y1="63.30" x2="60.10" y2="63.30" stroke="#1a1a1a" stroke-width="0.90"/>
<line x1="366.50" y1="63.30" x2="364.50" y2="63.30" stroke="#1a1a1a" stroke-width="0.90"/>
<line x1="58.10" y1="75.04" x2="60.10" y2="75.04" stroke="#1a1a1a" stroke-width="0.90"/>
<line x1="366.50" y1="75.04" x2="364.50" y2="75.04" stroke="#1a1a1a" stroke-width="0.90"/>
<text x="63.30" y="23.50" font-size="6.20" fill="#333" stroke="#333" stroke-width="0.22" text-anchor="start" font-weight="normal" >(011)</text>
<text x="72.60" y="33.50" font-size="6.20" fill="#333" stroke="#333" stroke-width="0.22" text-anchor="start" font-weight="normal" >(100)</text>
<text x="92.70" y="26.00" font-size="6.20" fill="#333" stroke="#333" stroke-width="0.22" text-anchor="start" font-weight="normal" >(002)</text>
<text x="98.80" y="31.20" font-size="6.20" fill="#333" stroke="#333" stroke-width="0.22" text-anchor="start" font-weight="normal" >(020)</text>
<text x="121.20" y="11.60" font-size="6.20" fill="#333" stroke="#333" stroke-width="0.22" text-anchor="start" font-weight="normal" >(111)</text>
<text x="139.80" y="45.80" font-size="6.20" fill="#333" stroke="#333" stroke-width="0.22" text-anchor="start" font-weight="normal" >(102)/(120)</text>
<text x="175.00" y="26.70" font-size="6.20" fill="#333" stroke="#333" stroke-width="0.22" text-anchor="start" font-weight="normal" >(022)</text>
<text x="187.20" y="33.60" font-size="6.20" fill="#333" stroke="#333" stroke-width="0.22" text-anchor="start" font-weight="normal" >(200)</text>
<text x="201.60" y="43.30" font-size="6.20" fill="#333" stroke="#333" stroke-width="0.22" text-anchor="start" font-weight="normal" >(013)</text>
<text x="210.20" y="32.00" font-size="6.20" fill="#333" stroke="#333" stroke-width="0.22" text-anchor="start" font-weight="normal" >(031)</text>
<text x="217.50" y="38.10" font-size="6.20" fill="#333" stroke="#333" stroke-width="0.22" text-anchor="start" font-weight="normal" >(122)</text>
<text x="222.30" y="45.10" font-size="6.20" fill="#333" stroke="#333" stroke-width="0.22" text-anchor="start" font-weight="normal" >(211)</text>
<text x="233.70" y="26.50" font-size="6.20" fill="#333" stroke="#333" stroke-width="0.22" text-anchor="start" font-weight="normal" >(113)</text>
<text x="240.60" y="33.00" font-size="6.20" fill="#333" stroke="#333" stroke-width="0.22" text-anchor="start" font-weight="normal" >(131)</text>
<text x="248.70" y="40.00" font-size="6.20" fill="#333" stroke="#333" stroke-width="0.22" text-anchor="start" font-weight="normal" >(202)</text>
<text x="274.70" y="44.00" font-size="6.20" fill="#333" stroke="#333" stroke-width="0.22" text-anchor="start" font-weight="normal" >(004)</text>
<text x="280.80" y="37.80" font-size="6.20" fill="#333" stroke="#333" stroke-width="0.22" text-anchor="start" font-weight="normal" >(040)</text>
<text x="289.70" y="30.40" font-size="6.20" fill="#333" stroke="#333" stroke-width="0.22" text-anchor="start" font-weight="normal" >(222)</text>
<text x="304.60" y="44.00" font-size="6.20" fill="#333" stroke="#333" stroke-width="0.22" text-anchor="start" font-weight="normal" >(104)</text>
<text x="309.40" y="38.10" font-size="6.20" fill="#333" stroke="#333" stroke-width="0.22" text-anchor="start" font-weight="normal" >(033)</text>
<text x="312.70" y="31.30" font-size="6.20" fill="#333" stroke="#333" stroke-width="0.22" text-anchor="start" font-weight="normal" >(140)</text>
<text x="325.60" y="38.10" font-size="6.20" fill="#333" stroke="#333" stroke-width="0.22" text-anchor="start" font-weight="normal" >(213)/(231)</text>
<text x="331.00" y="45.40" font-size="6.20" fill="#333" stroke="#333" stroke-width="0.22" text-anchor="start" font-weight="normal" >(300)</text>
<text x="200.50" y="17.60" font-size="10.90" fill="#000" stroke="#000" stroke-width="0.10" text-anchor="start" font-weight="bold" >KNN</text>
<text x="302.40" y="17.80" font-size="8.90" fill="#e5b04c" stroke="#e5b04c" stroke-width="0.22" text-anchor="start" font-weight="normal" >after 1st calc.</text>
<text x="303.00" y="69.70" font-size="9.00" fill="#222" stroke="#222" stroke-width="0.22" text-anchor="start" font-weight="normal" >after 1st mill.</text>
<text x="0.00" y="0.00" font-size="8.60" fill="#222" stroke="#222" stroke-width="0.22" text-anchor="middle" font-weight="normal" transform="translate(58.10,98.5) scale(1,1.17)">20</text>
<text x="0.00" y="0.00" font-size="8.60" fill="#222" stroke="#222" stroke-width="0.22" text-anchor="middle" font-weight="normal" transform="translate(109.50,98.5) scale(1,1.17)">30</text>
<text x="0.00" y="0.00" font-size="8.60" fill="#222" stroke="#222" stroke-width="0.22" text-anchor="middle" font-weight="normal" transform="translate(160.90,98.5) scale(1,1.17)">40</text>
<text x="0.00" y="0.00" font-size="8.60" fill="#222" stroke="#222" stroke-width="0.22" text-anchor="middle" font-weight="normal" transform="translate(212.30,98.5) scale(1,1.17)">50</text>
<text x="0.00" y="0.00" font-size="8.60" fill="#222" stroke="#222" stroke-width="0.22" text-anchor="middle" font-weight="normal" transform="translate(263.70,98.5) scale(1,1.17)">60</text>
<text x="0.00" y="0.00" font-size="8.60" fill="#222" stroke="#222" stroke-width="0.22" text-anchor="middle" font-weight="normal" transform="translate(315.10,98.5) scale(1,1.17)">70</text>
<text x="0.00" y="0.00" font-size="8.60" fill="#222" stroke="#222" stroke-width="0.22" text-anchor="middle" font-weight="normal" transform="translate(366.50,98.5) scale(1,1.17)">80</text>
<line x1="69.31" y1="104.20" x2="69.31" y2="114.30" stroke="#c8c8c8" stroke-width="0.90"/>
<line x1="70.80" y1="104.20" x2="70.80" y2="114.30" stroke="#c8c8c8" stroke-width="0.90"/>
<line x1="117.62" y1="104.20" x2="117.62" y2="114.30" stroke="#bbbbbb" stroke-width="0.90"/>
<line x1="119.01" y1="104.20" x2="119.01" y2="114.30" stroke="#bbbbbb" stroke-width="0.90"/>
<line x1="156.48" y1="104.20" x2="156.48" y2="114.30" stroke="#bdbdbd" stroke-width="0.90"/>
<line x1="188.09" y1="104.20" x2="188.09" y2="114.30" stroke="#c8c8c8" stroke-width="0.90"/>
<line x1="191.28" y1="104.20" x2="191.28" y2="114.30" stroke="#c8c8c8" stroke-width="0.90"/>
<line x1="217.44" y1="104.20" x2="217.44" y2="114.30" stroke="#c8c8c8" stroke-width="0.90"/>
<line x1="218.98" y1="104.20" x2="218.98" y2="114.30" stroke="#c8c8c8" stroke-width="0.90"/>
<line x1="221.29" y1="104.20" x2="221.29" y2="114.30" stroke="#d8d8d8" stroke-width="0.90"/>
<line x1="245.20" y1="104.20" x2="245.20" y2="114.30" stroke="#c8c8c8" stroke-width="0.90"/>
<line x1="246.74" y1="104.20" x2="246.74" y2="114.30" stroke="#bbbbbb" stroke-width="0.90"/>
<line x1="248.02" y1="104.20" x2="248.02" y2="114.30" stroke="#c8c8c8" stroke-width="0.90"/>
<line x1="292.48" y1="104.20" x2="292.48" y2="114.30" stroke="#c8c8c8" stroke-width="0.90"/>
<line x1="294.28" y1="104.20" x2="294.28" y2="114.30" stroke="#c8c8c8" stroke-width="0.90"/>
<line x1="296.60" y1="104.20" x2="296.60" y2="114.30" stroke="#d8d8d8" stroke-width="0.90"/>
<line x1="317.16" y1="104.20" x2="317.16" y2="114.30" stroke="#c8c8c8" stroke-width="0.90"/>
<line x1="318.44" y1="104.20" x2="318.44" y2="114.30" stroke="#c8c8c8" stroke-width="0.90"/>
<line x1="319.98" y1="104.20" x2="319.98" y2="114.30" stroke="#c8c8c8" stroke-width="0.90"/>
<line x1="321.78" y1="104.20" x2="321.78" y2="114.30" stroke="#d0d0d0" stroke-width="0.90"/>
<line x1="323.58" y1="104.20" x2="323.58" y2="114.30" stroke="#d8d8d8" stroke-width="0.90"/>
<line x1="340.80" y1="104.20" x2="340.80" y2="114.30" stroke="#c8c8c8" stroke-width="0.90"/>
<line x1="346.45" y1="104.20" x2="346.45" y2="114.30" stroke="#dddddd" stroke-width="0.90"/>
<line x1="363.93" y1="104.20" x2="363.93" y2="114.30" stroke="#d0d0d0" stroke-width="0.90"/>
<line x1="58.10" y1="114.30" x2="366.50" y2="114.30" stroke="#1a1a1a" stroke-width="1.00"/>
<line x1="109.50" y1="114.30" x2="109.50" y2="110.20" stroke="#1a1a1a" stroke-width="0.90"/>
<line x1="160.90" y1="114.30" x2="160.90" y2="110.20" stroke="#1a1a1a" stroke-width="0.90"/>
<line x1="212.30" y1="114.30" x2="212.30" y2="110.20" stroke="#1a1a1a" stroke-width="0.90"/>
<line x1="263.70" y1="114.30" x2="263.70" y2="110.20" stroke="#1a1a1a" stroke-width="0.90"/>
<line x1="315.10" y1="114.30" x2="315.10" y2="110.20" stroke="#1a1a1a" stroke-width="0.90"/>
<path d="M58.60,170.08 L58.95,170.04 L59.30,170.08 L59.65,170.03 L60.00,170.05 L60.35,170.04 L60.70,169.99 L61.05,170.02 L61.40,169.97 L61.75,169.98 L62.10,169.94 L62.45,169.91 L62.80,169.92 L63.15,169.97 L63.50,169.90 L63.85,169.85 L64.20,169.86 L64.55,169.89 L64.90,169.83 L65.25,169.74 L65.60,169.72 L65.95,169.54 L66.30,169.47 L66.65,169.27 L67.00,169.00 L67.35,168.60 L67.70,167.97 L68.05,166.87 L68.40,164.77 L68.75,161.52 L69.10,157.07 L69.45,152.19 L69.80,148.97 L70.15,149.56 L70.50,153.53 L70.85,158.43 L71.20,162.64 L71.55,165.53 L71.90,167.27 L72.25,168.27 L72.60,168.81 L72.95,169.10 L73.30,169.36 L73.65,169.52 L74.00,169.59 L74.35,169.69 L74.70,169.76 L75.05,169.87 L75.40,169.92 L75.75,169.91 L76.10,170.00 L76.45,169.95 L76.80,169.97 L77.15,170.03 L77.50,169.99 L77.85,170.02 L78.20,169.98 L78.55,170.05 L78.90,170.10 L79.25,170.11 L79.60,170.15 L79.95,170.11 L80.30,170.14 L80.65,170.14 L81.00,170.14 L81.35,170.13 L81.70,170.17 L82.05,170.20 L82.40,170.16 L82.75,170.16 L83.10,170.08 L83.45,170.11 L83.80,170.11 L84.15,170.14 L84.50,170.11 L84.85,169.96 L85.20,169.80 L85.55,169.60 L85.90,169.25 L86.25,168.99 L86.60,168.82 L86.95,168.91 L87.30,169.16 L87.65,169.53 L88.00,169.72 L88.35,169.87 L88.70,169.98 L89.05,170.10 L89.40,170.06 L89.75,170.09 L90.10,170.12 L90.45,170.18 L90.80,170.21 L91.15,170.23 L91.50,170.17 L91.85,170.15 L92.20,170.13 L92.55,170.19 L92.90,170.22 L93.25,170.13 L93.60,170.08 L93.95,170.05 L94.30,170.01 L94.65,169.98 L95.00,169.91 L95.35,169.71 L95.70,169.41 L96.05,169.15 L96.40,168.90 L96.75,168.88 L97.10,169.13 L97.45,169.42 L97.80,169.67 L98.15,169.87 L98.50,170.01 L98.85,170.00 L99.20,170.10 L99.55,170.14 L99.90,170.18 L100.25,170.18 L100.60,170.13 L100.95,170.10 L101.30,170.04 L101.65,170.07 L102.00,170.01 L102.35,169.96 L102.70,169.94 L103.05,169.90 L103.40,169.87 L103.75,169.74 L104.10,169.55 L104.45,169.25 L104.80,168.78 L105.15,168.20 L105.50,167.55 L105.85,167.30 L106.20,167.50 L106.55,168.01 L106.90,168.61 L107.25,169.11 L107.60,169.43 L107.95,169.58 L108.30,169.72 L108.65,169.76 L109.00,169.64 L109.35,169.44 L109.70,169.13 L110.05,168.82 L110.40,168.64 L110.75,168.64 L111.10,168.91 L111.45,169.10 L111.80,169.25 L112.15,169.46 L112.50,169.49 L112.85,169.42 L113.20,169.39 L113.55,169.24 L113.90,169.15 L114.25,169.07 L114.60,168.88 L114.95,168.58 L115.30,168.10 L115.65,167.40 L116.00,166.20 L116.35,164.24 L116.70,160.90 L117.05,155.89 L117.40,149.16 L117.75,141.70 L118.10,135.91 L118.45,134.85 L118.80,139.27 L119.15,146.46 L119.50,153.61 L119.85,159.31 L120.20,163.19 L120.55,165.65 L120.90,167.07 L121.25,167.85 L121.60,168.33 L121.95,168.68 L122.30,168.93 L122.65,169.18 L123.00,169.40 L123.35,169.49 L123.70,169.64 L124.05,169.76 L124.40,169.84 L124.75,169.83 L125.10,169.82 L125.45,169.83 L125.80,169.85 L126.15,169.87 L126.50,169.94 L126.85,170.03 L127.20,170.07 L127.55,170.05 L127.90,170.07 L128.25,170.09 L128.60,170.00 L128.95,170.00 L129.30,169.98 L129.65,169.86 L130.00,169.65 L130.35,169.35 L130.70,169.01 L131.05,168.92 L131.40,169.00 L131.75,169.31 L132.10,169.66 L132.45,169.85 L132.80,169.98 L133.15,170.14 L133.50,170.20 L133.85,170.16 L134.20,170.14 L134.55,170.13 L134.90,170.23 L135.25,170.27 L135.60,170.22 L135.95,170.27 L136.30,170.33 L136.65,170.32 L137.00,170.28 L137.35,170.28 L137.70,170.23 L138.05,170.19 L138.40,170.29 L138.75,170.31 L139.10,170.30 L139.45,170.35 L139.80,170.32 L140.15,170.36 L140.50,170.37 L140.85,170.30 L141.20,170.27 L141.55,170.26 L141.90,170.25 L142.25,170.29 L142.60,170.27 L142.95,170.28 L143.30,170.25 L143.65,170.33 L144.00,170.31 L144.35,170.31 L144.70,170.33 L145.05,170.38 L145.40,170.34 L145.75,170.39 L146.10,170.36 L146.45,170.35 L146.80,170.35 L147.15,170.28 L147.50,170.30 L147.85,170.27 L148.20,170.24 L148.55,170.32 L148.90,170.29 L149.25,170.31 L149.60,170.35 L149.95,170.36 L150.30,170.33 L150.65,170.34 L151.00,170.35 L151.35,170.38 L151.70,170.32 L152.05,170.34 L152.40,170.31 L152.75,170.30 L153.10,170.36 L153.45,170.36 L153.80,170.36 L154.15,170.39 L154.50,170.43 L154.85,170.39 L155.20,170.39 L155.55,170.38 L155.90,170.37 L156.25,170.39 L156.60,170.37 L156.95,170.37 L157.30,170.36 L157.65,170.42 L158.00,170.42 L158.35,170.44 L158.70,170.47 L159.05,170.39 L159.40,170.39 L159.75,170.43 L160.10,170.45 L160.45,170.36 L160.80,170.32 L161.15,170.33 L161.50,170.29 L161.85,170.29 L162.20,170.27 L162.55,170.34 L162.90,170.39 L163.25,170.43 L163.60,170.36 L163.95,170.39 L164.30,170.41 L164.65,170.34 L165.00,170.41 L165.35,170.45 L165.70,170.38 L166.05,170.44 L166.40,170.40 L166.75,170.38 L167.10,170.44 L167.45,170.46 L167.80,170.38 L168.15,170.37 L168.50,170.37 L168.85,170.35 L169.20,170.32 L169.55,170.32 L169.90,170.37 L170.25,170.31 L170.60,170.35 L170.95,170.35 L171.30,170.30 L171.65,170.31 L172.00,170.35 L172.35,170.36 L172.70,170.31 L173.05,170.40 L173.40,170.42 L173.75,170.46 L174.10,170.36 L174.45,170.33 L174.80,170.29 L175.15,170.36 L175.50,170.33 L175.85,170.29 L176.20,170.31 L176.55,170.38 L176.90,170.41 L177.25,170.35 L177.60,170.30 L177.95,170.37 L178.30,170.36 L178.65,170.37 L179.00,170.30 L179.35,170.25 L179.70,170.30 L180.05,170.29 L180.40,170.24 L180.75,170.31 L181.10,170.31 L181.45,170.33 L181.80,170.24 L182.15,170.28 L182.50,170.19 L182.85,170.24 L183.20,170.20 L183.55,170.15 L183.90,170.13 L184.25,170.15 L184.60,170.05 L184.95,169.95 L185.30,169.90 L185.65,169.77 L186.00,169.59 L186.35,169.36 L186.70,169.03 L187.05,168.58 L187.40,167.98 L187.75,167.17 L188.10,166.23 L188.45,165.06 L188.80,163.88 L189.15,162.81 L189.50,162.18 L189.85,162.12 L190.20,162.74 L190.55,163.73 L190.90,165.00 L191.25,166.17 L191.60,167.15 L191.95,168.00 L192.30,168.70 L192.65,169.09 L193.00,169.47 L193.35,169.67 L193.70,169.82 L194.05,169.97 L194.40,170.01 L194.75,170.07 L195.10,170.14 L195.45,170.22 L195.80,170.20 L196.15,170.26 L196.50,170.28 L196.85,170.29 L197.20,170.28 L197.55,170.27 L197.90,170.23 L198.25,170.22 L198.60,170.21 L198.95,170.30 L199.30,170.29 L199.65,170.27 L200.00,170.25 L200.35,170.34 L200.70,170.40 L201.05,170.41 L201.40,170.36 L201.75,170.33 L202.10,170.33 L202.45,170.35 L202.80,170.32 L203.15,170.34 L203.50,170.33 L203.85,170.42 L204.20,170.46 L204.55,170.44 L204.90,170.38 L205.25,170.45 L205.60,170.40 L205.95,170.37 L206.30,170.32 L206.65,170.33 L207.00,170.35 L207.35,170.37 L207.70,170.34 L208.05,170.36 L208.40,170.30 L208.75,170.30 L209.10,170.28 L209.45,170.30 L209.80,170.27 L210.15,170.24 L210.50,170.26 L210.85,170.26 L211.20,170.30 L211.55,170.31 L211.90,170.34 L212.25,170.34 L212.60,170.33 L212.95,170.35 L213.30,170.28 L213.65,170.22 L214.00,170.26 L214.35,170.15 L214.70,170.14 L215.05,170.09 L215.40,169.93 L215.75,169.88 L216.10,169.75 L216.45,169.49 L216.80,169.14 L217.15,168.65 L217.50,167.91 L217.85,167.10 L218.20,166.15 L218.55,165.19 L218.90,164.29 L219.25,163.70 L219.60,163.56 L219.95,164.02 L220.30,164.82 L220.65,165.81 L221.00,166.73 L221.35,167.55 L221.70,168.26 L222.05,168.84 L222.40,169.23 L222.75,169.60 L223.10,169.81 L223.45,169.97 L223.80,170.07 L224.15,170.15 L224.50,170.18 L224.85,170.15 L225.20,170.24 L225.55,170.30 L225.90,170.31 L226.25,170.32 L226.60,170.35 L226.95,170.30 L227.30,170.36 L227.65,170.33 L228.00,170.30 L228.35,170.31 L228.70,170.38 L229.05,170.35 L229.40,170.41 L229.75,170.47 L230.10,170.44 L230.45,170.42 L230.80,170.42 L231.15,170.44 L231.50,170.47 L231.85,170.46 L232.20,170.47 L232.55,170.39 L232.90,170.36 L233.25,170.36 L233.60,170.42 L233.95,170.40 L234.30,170.42 L234.65,170.36 L235.00,170.33 L235.35,170.34 L235.70,170.39 L236.05,170.43 L236.40,170.44 L236.75,170.39 L237.10,170.39 L237.45,170.38 L237.80,170.37 L238.15,170.32 L238.50,170.38 L238.85,170.32 L239.20,170.38 L239.55,170.40 L239.90,170.28 L240.25,170.26 L240.60,170.28 L240.95,170.30 L241.30,170.22 L241.65,170.12 L242.00,170.02 L242.35,170.01 L242.70,169.82 L243.05,169.66 L243.40,169.33 L243.75,168.96 L244.10,168.48 L244.45,167.68 L244.80,166.81 L245.15,165.72 L245.50,164.61 L245.85,163.55 L246.20,162.75 L246.55,162.61 L246.90,163.02 L247.25,163.84 L247.60,164.92 L247.95,166.10 L248.30,167.14 L248.65,167.98 L249.00,168.61 L249.35,169.12 L249.70,169.46 L250.05,169.77 L250.40,169.87 L250.75,170.04 L251.10,170.16 L251.45,170.15 L251.80,170.27 L252.15,170.32 L252.50,170.38 L252.85,170.34 L253.20,170.34 L253.55,170.35 L253.90,170.44 L254.25,170.45 L254.60,170.42 L254.95,170.42 L255.30,170.41 L255.65,170.37 L256.00,170.37 L256.35,170.46 L256.70,170.44 L257.05,170.52 L257.40,170.48 L257.75,170.46 L258.10,170.48 L258.45,170.45 L258.80,170.47 L259.15,170.55 L259.50,170.59 L259.85,170.60 L260.20,170.59 L260.55,170.62 L260.90,170.64 L261.25,170.60 L261.60,170.60 L261.95,170.52 L262.30,170.56 L262.65,170.55 L263.00,170.58 L263.35,170.59 L263.70,170.54 L264.05,170.49 L264.40,170.58 L264.75,170.52 L265.10,170.54 L265.45,170.53 L265.80,170.52 L266.15,170.57 L266.50,170.63 L266.85,170.57 L267.20,170.59 L267.55,170.56 L267.90,170.57 L268.25,170.56 L268.60,170.52 L268.95,170.50 L269.30,170.50 L269.65,170.59 L270.00,170.58 L270.35,170.55 L270.70,170.61 L271.05,170.66 L271.40,170.62 L271.75,170.56 L272.10,170.53 L272.45,170.50 L272.80,170.52 L273.15,170.50 L273.50,170.50 L273.85,170.51 L274.20,170.56 L274.55,170.62 L274.90,170.64 L275.25,170.61 L275.60,170.59 L275.95,170.59 L276.30,170.58 L276.65,170.56 L277.00,170.52 L277.35,170.53 L277.70,170.62 L278.05,170.56 L278.40,170.58 L278.75,170.60 L279.10,170.65 L279.45,170.59 L279.80,170.56 L280.15,170.54 L280.50,170.56 L280.85,170.57 L281.20,170.64 L281.55,170.66 L281.90,170.68 L282.25,170.58 L282.60,170.53 L282.95,170.58 L283.30,170.64 L283.65,170.61 L284.00,170.62 L284.35,170.54 L284.70,170.55 L285.05,170.62 L285.40,170.65 L285.75,170.66 L286.10,170.69 L286.45,170.61 L286.80,170.54 L287.15,170.51 L287.50,170.54 L287.85,170.57 L288.20,170.62 L288.55,170.62 L288.90,170.60 L289.25,170.61 L289.60,170.56 L289.95,170.55 L290.30,170.47 L290.65,170.51 L291.00,170.45 L291.35,170.50 L291.70,170.48 L292.05,170.40 L292.40,170.31 L292.75,170.23 L293.10,170.18 L293.45,170.07 L293.80,169.82 L294.15,169.53 L294.50,169.23 L294.85,168.85 L295.20,168.36 L295.55,167.84 L295.90,167.41 L296.25,167.01 L296.60,166.89 L296.95,167.04 L297.30,167.47 L297.65,167.94 L298.00,168.47 L298.35,168.91 L298.70,169.27 L299.05,169.58 L299.40,169.92 L299.75,170.12 L300.10,170.21 L300.45,170.24 L300.80,170.34 L301.15,170.42 L301.50,170.45 L301.85,170.45 L302.20,170.50 L302.55,170.58 L302.90,170.53 L303.25,170.48 L303.60,170.50 L303.95,170.53 L304.30,170.58 L304.65,170.54 L305.00,170.61 L305.35,170.64 L305.70,170.62 L306.05,170.58 L306.40,170.66 L306.75,170.61 L307.10,170.66 L307.45,170.61 L307.80,170.58 L308.15,170.63 L308.50,170.60 L308.85,170.67 L309.20,170.65 L309.55,170.60 L309.90,170.58 L310.25,170.59 L310.60,170.63 L310.95,170.69 L311.30,170.62 L311.65,170.61 L312.00,170.58 L312.35,170.66 L312.70,170.60 L313.05,170.55 L313.40,170.53 L313.75,170.55 L314.10,170.63 L314.45,170.67 L314.80,170.67 L315.15,170.70 L315.50,170.70 L315.85,170.62 L316.20,170.54 L316.55,170.59 L316.90,170.57 L317.25,170.43 L317.60,170.40 L317.95,170.29 L318.30,170.16 L318.65,169.99 L319.00,169.76 L319.35,169.49 L319.70,169.27 L320.05,169.06 L320.40,168.98 L320.75,168.86 L321.10,168.99 L321.45,169.11 L321.80,169.32 L322.15,169.62 L322.50,169.88 L322.85,170.05 L323.20,170.14 L323.55,170.29 L323.90,170.38 L324.25,170.51 L324.60,170.51 L324.95,170.53 L325.30,170.62 L325.65,170.56 L326.00,170.58 L326.35,170.65 L326.70,170.68 L327.05,170.61 L327.40,170.57 L327.75,170.55 L328.10,170.66 L328.45,170.63 L328.80,170.68 L329.15,170.73 L329.50,170.68 L329.85,170.65 L330.20,170.72 L330.55,170.71 L330.90,170.67 L331.25,170.70 L331.60,170.67 L331.95,170.64 L332.30,170.59 L332.65,170.66 L333.00,170.72 L333.35,170.72 L333.70,170.76 L334.05,170.66 L334.40,170.63 L334.75,170.64 L335.10,170.71 L335.45,170.74 L335.80,170.69 L336.15,170.63 L336.50,170.62 L336.85,170.62 L337.20,170.66 L337.55,170.58 L337.90,170.60 L338.25,170.58 L338.60,170.55 L338.95,170.49 L339.30,170.39 L339.65,170.23 L340.00,170.07 L340.35,169.91 L340.70,169.78 L341.05,169.53 L341.40,169.34 L341.75,169.25 L342.10,169.13 L342.45,169.07 L342.80,169.11 L343.15,169.29 L343.50,169.46 L343.85,169.73 L344.20,169.95 L344.55,170.15 L344.90,170.21 L345.25,170.27 L345.60,170.33 L345.95,170.44 L346.30,170.54 L346.65,170.58 L347.00,170.57 L347.35,170.60 L347.70,170.65 L348.05,170.69 L348.40,170.72 L348.75,170.76 L349.10,170.75 L349.45,170.68 L349.80,170.74 L350.15,170.71 L350.50,170.72 L350.85,170.71 L351.20,170.75 L351.55,170.70 L351.90,170.68 L352.25,170.68 L352.60,170.66 L352.95,170.75 L353.30,170.76 L353.65,170.73 L354.00,170.73 L354.35,170.80 L354.70,170.78 L355.05,170.73 L355.40,170.78 L355.75,170.79 L356.10,170.84 L356.45,170.75 L356.80,170.75 L357.15,170.80 L357.50,170.83 L357.85,170.85 L358.20,170.76 L358.55,170.74 L358.90,170.70 L359.25,170.69 L359.60,170.79 L359.95,170.79 L360.30,170.84 L360.65,170.80 L361.00,170.83 L361.35,170.80 L361.70,170.76 L362.05,170.81 L362.40,170.85 L362.75,170.77 L363.10,170.79 L363.45,170.80 L363.80,170.76 L364.15,170.75 L364.50,170.72 L364.85,170.71 L365.20,170.72 L365.55,170.76 L365.90,170.79" fill="none" stroke="#ebbd66" stroke-width="0.60" stroke-linejoin="round"/>
<path d="M58.60,209.87 L58.85,209.82 L59.10,209.67 L59.35,209.95 L59.60,209.68 L59.85,209.78 L60.10,210.02 L60.35,209.76 L60.60,209.84 L60.85,209.92 L61.10,209.68 L61.35,209.72 L61.60,209.89 L61.85,209.87 L62.10,209.98 L62.35,209.77 L62.60,209.70 L62.85,209.59 L63.10,209.73 L63.35,210.00 L63.60,209.99 L63.85,210.07 L64.10,209.93 L64.35,210.02 L64.60,209.76 L64.85,209.71 L65.10,209.87 L65.35,209.97 L65.60,209.88 L65.85,209.67 L66.10,209.64 L66.35,209.59 L66.60,209.59 L66.85,209.85 L67.10,209.69 L67.35,209.93 L67.60,210.05 L67.85,209.70 L68.10,209.66 L68.35,209.67 L68.60,209.43 L68.85,209.47 L69.10,209.68 L69.35,209.36 L69.60,209.33 L69.85,208.94 L70.10,208.67 L70.35,207.64 L70.60,202.70 L70.85,190.33 L71.10,175.39 L71.35,177.18 L71.60,192.49 L71.85,203.45 L72.10,207.58 L72.35,208.91 L72.60,209.20 L72.85,209.34 L73.10,209.56 L73.35,209.43 L73.60,209.61 L73.85,209.52 L74.10,209.70 L74.35,209.97 L74.60,209.69 L74.85,209.78 L75.10,209.86 L75.35,209.69 L75.60,209.66 L75.85,209.99 L76.10,210.18 L76.35,209.87 L76.60,209.98 L76.85,210.16 L77.10,209.91 L77.35,209.96 L77.60,209.71 L77.85,209.73 L78.10,209.90 L78.35,209.95 L78.60,210.07 L78.85,209.80 L79.10,209.78 L79.35,210.02 L79.60,210.01 L79.85,209.95 L80.10,209.89 L80.35,210.14 L80.60,210.08 L80.85,209.78 L81.10,209.99 L81.35,209.88 L81.60,209.87 L81.85,209.76 L82.10,209.81 L82.35,209.78 L82.60,209.65 L82.85,209.84 L83.10,209.69 L83.35,209.94 L83.60,209.71 L83.85,209.95 L84.10,210.09 L84.35,210.02 L84.60,210.09 L84.85,209.90 L85.10,210.03 L85.35,209.95 L85.60,209.82 L85.85,210.10 L86.10,209.98 L86.35,209.90 L86.60,210.09 L86.85,209.96 L87.10,210.03 L87.35,209.83 L87.60,210.05 L87.85,209.88 L88.10,209.69 L88.35,210.03 L88.60,209.83 L88.85,210.10 L89.10,210.26 L89.35,210.17 L89.60,209.83 L89.85,209.67 L90.10,209.65 L90.35,209.72 L90.60,209.87 L90.85,210.13 L91.10,209.97 L91.35,209.78 L91.60,209.88 L91.85,209.73 L92.10,209.62 L92.35,209.78 L92.60,209.94 L92.85,209.72 L93.10,209.79 L93.35,209.95 L93.60,210.06 L93.85,209.94 L94.10,210.11 L94.35,209.86 L94.60,209.98 L94.85,210.07 L95.10,210.17 L95.35,210.04 L95.60,209.77 L95.85,209.59 L96.10,209.72 L96.35,209.61 L96.60,209.76 L96.85,209.57 L97.10,209.79 L97.35,209.63 L97.60,209.41 L97.85,209.35 L98.10,209.42 L98.35,209.46 L98.60,209.34 L98.85,209.07 L99.10,208.90 L99.35,208.61 L99.60,206.87 L99.85,202.27 L100.10,192.49 L100.35,182.11 L100.60,180.56 L100.85,189.95 L101.10,200.16 L101.35,205.91 L101.60,208.22 L101.85,208.51 L102.10,208.73 L102.35,208.52 L102.60,207.72 L102.85,206.40 L103.10,204.04 L103.35,200.60 L103.60,197.74 L103.85,196.43 L104.10,197.82 L104.35,200.98 L104.60,203.97 L104.85,206.57 L105.10,208.06 L105.35,209.08 L105.60,209.27 L105.85,209.63 L106.10,209.79 L106.35,209.83 L106.60,209.99 L106.85,209.68 L107.10,209.80 L107.35,209.87 L107.60,209.95 L107.85,209.87 L108.10,209.67 L108.35,209.62 L108.60,209.80 L108.85,209.69 L109.10,209.58 L109.35,209.66 L109.60,209.76 L109.85,209.85 L110.10,209.64 L110.35,209.90 L110.60,209.81 L110.85,209.98 L111.10,209.68 L111.35,209.92 L111.60,209.74 L111.85,209.53 L112.10,208.94 L112.35,208.11 L112.60,207.39 L112.85,207.77 L113.10,208.48 L113.35,209.35 L113.60,209.55 L113.85,209.62 L114.10,209.57 L114.35,209.54 L114.60,209.91 L114.85,210.12 L115.10,209.87 L115.35,209.76 L115.60,209.27 L115.85,208.70 L116.10,208.19 L116.35,208.38 L116.60,208.75 L116.85,209.21 L117.10,209.63 L117.35,209.68 L117.60,209.80 L117.85,210.10 L118.10,209.82 L118.35,209.70 L118.60,209.98 L118.85,209.78 L119.10,209.76 L119.35,210.04 L119.60,210.08 L119.85,209.91 L120.10,209.74 L120.35,209.76 L120.60,209.78 L120.85,210.03 L121.10,210.26 L121.35,210.29 L121.60,210.37 L121.85,210.42 L122.10,210.43 L122.35,210.45 L122.60,210.49 L122.85,210.09 L123.10,209.97 L123.35,209.88 L123.60,210.00 L123.85,210.01 L124.10,209.95 L124.35,210.15 L124.60,210.05 L124.85,209.90 L125.10,209.85 L125.35,209.92 L125.60,210.03 L125.85,210.07 L126.10,210.03 L126.35,209.88 L126.60,209.91 L126.85,209.88 L127.10,209.79 L127.35,209.93 L127.60,209.83 L127.85,210.03 L128.10,210.11 L128.35,209.91 L128.60,210.03 L128.85,209.96 L129.10,209.97 L129.35,210.06 L129.60,210.18 L129.85,210.31 L130.10,210.31 L130.35,210.05 L130.60,210.07 L130.85,209.98 L131.10,209.78 L131.35,209.93 L131.60,209.97 L131.85,210.19 L132.10,210.04 L132.35,210.21 L132.60,210.15 L132.85,209.91 L133.10,210.08 L133.35,209.96 L133.60,210.02 L133.85,209.83 L134.10,209.69 L134.35,210.06 L134.60,209.83 L134.85,209.76 L135.10,209.73 L135.35,209.68 L135.60,210.00 L135.85,210.27 L136.10,210.24 L136.35,210.11 L136.60,210.27 L136.85,210.17 L137.10,209.94 L137.35,210.08 L137.60,209.99 L137.85,209.90 L138.10,209.88 L138.35,209.89 L138.60,209.80 L138.85,209.95 L139.10,210.16 L139.35,210.13 L139.60,209.83 L139.85,209.99 L140.10,209.74 L140.35,209.82 L140.60,210.04 L140.85,210.05 L141.10,210.14 L141.35,210.07 L141.60,209.71 L141.85,209.20 L142.10,208.27 L142.35,205.94 L142.60,201.73 L142.85,198.46 L143.10,199.94 L143.35,204.00 L143.60,207.39 L143.85,208.96 L144.10,209.65 L144.35,209.37 L144.60,208.99 L144.85,208.40 L145.10,207.07 L145.35,205.48 L145.60,205.35 L145.85,206.69 L146.10,208.31 L146.35,209.47 L146.60,209.67 L146.85,209.70 L147.10,209.93 L147.35,209.93 L147.60,210.14 L147.85,210.33 L148.10,210.41 L148.35,210.35 L148.60,210.21 L148.85,209.93 L149.10,210.13 L149.35,210.05 L149.60,210.04 L149.85,210.11 L150.10,210.31 L150.35,210.23 L150.60,210.35 L150.85,210.44 L151.10,210.06 L151.35,209.98 L151.60,210.18 L151.85,210.19 L152.10,210.21 L152.35,209.68 L152.60,209.32 L152.85,209.07 L153.10,208.67 L153.35,208.75 L153.60,209.28 L153.85,209.42 L154.10,209.53 L154.35,209.98 L154.60,210.08 L154.85,209.94 L155.10,210.17 L155.35,210.03 L155.60,209.88 L155.85,209.88 L156.10,209.75 L156.35,209.86 L156.60,210.11 L156.85,210.08 L157.10,210.32 L157.35,210.00 L157.60,209.89 L157.85,209.82 L158.10,209.99 L158.35,209.90 L158.60,210.08 L158.85,210.11 L159.10,210.15 L159.35,210.30 L159.60,210.36 L159.85,210.46 L160.10,210.14 L160.35,210.07 L160.60,210.32 L160.85,210.18 L161.10,210.05 L161.35,210.08 L161.60,209.94 L161.85,210.19 L162.10,210.23 L162.35,209.99 L162.60,210.28 L162.85,210.22 L163.10,210.06 L163.35,210.15 L163.60,210.36 L163.85,210.18 L164.10,209.92 L164.35,209.87 L164.60,209.77 L164.85,209.95 L165.10,209.94 L165.35,210.20 L165.60,210.03 L165.85,209.84 L166.10,209.96 L166.35,209.85 L166.60,209.89 L166.85,209.87 L167.10,209.83 L167.35,210.04 L167.60,210.29 L167.85,210.16 L168.10,210.22 L168.35,210.10 L168.60,210.32 L168.85,210.26 L169.10,209.98 L169.35,210.17 L169.60,210.01 L169.85,209.85 L170.10,209.75 L170.35,210.09 L170.60,210.21 L170.85,210.11 L171.10,210.15 L171.35,210.24 L171.60,209.98 L171.85,210.15 L172.10,210.24 L172.35,210.39 L172.60,210.04 L172.85,210.08 L173.10,210.02 L173.35,210.04 L173.60,209.66 L173.85,209.40 L174.10,209.26 L174.35,209.03 L174.60,209.24 L174.85,209.75 L175.10,209.70 L175.35,210.15 L175.60,210.06 L175.85,210.08 L176.10,210.00 L176.35,210.20 L176.60,210.18 L176.85,210.27 L177.10,210.01 L177.35,210.24 L177.60,210.33 L177.85,210.29 L178.10,210.01 L178.35,209.78 L178.60,209.57 L178.85,209.02 L179.10,208.92 L179.35,208.57 L179.60,208.91 L179.85,209.05 L180.10,209.57 L180.35,210.00 L180.60,210.16 L180.85,210.13 L181.10,209.90 L181.35,209.98 L181.60,210.00 L181.85,210.28 L182.10,210.45 L182.35,210.53 L182.60,210.59 L182.85,210.23 L183.10,209.97 L183.35,209.95 L183.60,209.80 L183.85,209.77 L184.10,209.97 L184.35,209.90 L184.60,210.06 L184.85,210.03 L185.10,209.95 L185.35,210.24 L185.60,209.99 L185.85,210.14 L186.10,209.91 L186.35,209.61 L186.60,208.88 L186.85,208.50 L187.10,208.39 L187.35,208.36 L187.60,208.88 L187.85,209.48 L188.10,209.80 L188.35,210.10 L188.60,210.19 L188.85,210.06 L189.10,210.16 L189.35,210.26 L189.60,210.16 L189.85,210.15 L190.10,210.16 L190.35,210.07 L190.60,209.80 L190.85,209.74 L191.10,209.69 L191.35,209.12 L191.60,207.46 L191.85,205.34 L192.10,203.36 L192.35,203.09 L192.60,204.72 L192.85,207.13 L193.10,208.83 L193.35,209.60 L193.60,210.10 L193.85,210.15 L194.10,209.89 L194.35,209.89 L194.60,210.09 L194.85,209.91 L195.10,210.24 L195.35,210.30 L195.60,210.37 L195.85,210.12 L196.10,209.90 L196.35,210.21 L196.60,210.20 L196.85,210.17 L197.10,210.18 L197.35,210.32 L197.60,210.20 L197.85,210.33 L198.10,210.10 L198.35,210.38 L198.60,210.39 L198.85,210.22 L199.10,210.20 L199.35,210.39 L199.60,210.22 L199.85,210.31 L200.10,210.46 L200.35,210.57 L200.60,210.29 L200.85,210.40 L201.10,210.36 L201.35,210.45 L201.60,210.13 L201.85,210.12 L202.10,210.14 L202.35,210.33 L202.60,210.25 L202.85,210.01 L203.10,209.96 L203.35,210.24 L203.60,210.41 L203.85,210.36 L204.10,210.09 L204.35,210.28 L204.60,210.43 L204.85,210.23 L205.10,210.21 L205.35,210.11 L205.60,209.94 L205.85,210.18 L206.10,210.03 L206.35,209.91 L206.60,210.24 L206.85,210.03 L207.10,210.24 L207.35,210.37 L207.60,210.18 L207.85,210.12 L208.10,210.02 L208.35,210.19 L208.60,210.42 L208.85,210.42 L209.10,210.29 L209.35,210.23 L209.60,210.12 L209.85,210.15 L210.10,209.82 L210.35,209.36 L210.60,208.88 L210.85,207.88 L211.10,207.40 L211.35,207.28 L211.60,207.63 L211.85,208.29 L212.10,209.20 L212.35,209.53 L212.60,209.85 L212.85,210.05 L213.10,210.25 L213.35,210.15 L213.60,210.17 L213.85,210.31 L214.10,210.05 L214.35,210.00 L214.60,210.18 L214.85,210.02 L215.10,210.12 L215.35,209.53 L215.60,208.77 L215.85,207.87 L216.10,206.84 L216.35,206.14 L216.60,206.32 L216.85,207.39 L217.10,208.72 L217.35,209.66 L217.60,210.03 L217.85,210.02 L218.10,210.15 L218.35,210.00 L218.60,209.88 L218.85,210.17 L219.10,210.08 L219.35,209.98 L219.60,210.24 L219.85,210.05 L220.10,210.01 L220.35,209.94 L220.60,210.27 L220.85,210.35 L221.10,210.15 L221.35,209.98 L221.60,210.30 L221.85,210.10 L222.10,210.27 L222.35,210.36 L222.60,210.36 L222.85,210.30 L223.10,210.24 L223.35,210.14 L223.60,210.27 L223.85,210.10 L224.10,210.16 L224.35,210.09 L224.60,210.11 L224.85,210.37 L225.10,210.36 L225.35,210.39 L225.60,210.41 L225.85,210.10 L226.10,210.32 L226.35,210.48 L226.60,210.50 L226.85,210.41 L227.10,210.52 L227.35,210.62 L227.60,210.36 L227.85,210.16 L228.10,210.13 L228.35,209.96 L228.60,209.97 L228.85,209.91 L229.10,209.83 L229.35,209.98 L229.60,209.88 L229.85,210.05 L230.10,210.32 L230.35,210.40 L230.60,210.13 L230.85,210.31 L231.10,210.14 L231.35,210.35 L231.60,210.39 L231.85,210.36 L232.10,210.29 L232.35,210.52 L232.60,210.27 L232.85,210.46 L233.10,210.23 L233.35,210.05 L233.60,210.01 L233.85,209.90 L234.10,210.22 L234.35,210.08 L234.60,210.19 L234.85,210.11 L235.10,210.09 L235.35,210.29 L235.60,210.28 L235.85,210.12 L236.10,210.26 L236.35,210.02 L236.60,209.78 L236.85,209.85 L237.10,209.69 L237.35,209.02 L237.60,207.87 L237.85,206.67 L238.10,205.92 L238.35,206.12 L238.60,207.06 L238.85,208.39 L239.10,209.27 L239.35,209.89 L239.60,210.00 L239.85,209.91 L240.10,209.90 L240.35,209.88 L240.60,210.15 L240.85,210.29 L241.10,210.29 L241.35,210.18 L241.60,210.33 L241.85,210.27 L242.10,210.26 L242.35,210.11 L242.60,210.41 L242.85,210.31 L243.10,210.26 L243.35,210.09 L243.60,210.10 L243.85,210.06 L244.10,209.88 L244.35,209.69 L244.60,209.01 L244.85,208.40 L245.10,207.96 L245.35,207.82 L245.60,208.61 L245.85,209.04 L246.10,209.52 L246.35,210.07 L246.60,210.00 L246.85,210.03 L247.10,210.10 L247.35,210.40 L247.60,210.58 L247.85,210.31 L248.10,210.37 L248.35,210.50 L248.60,210.42 L248.85,210.28 L249.10,210.12 L249.35,210.00 L249.60,209.92 L249.85,209.88 L250.10,210.18 L250.35,210.29 L250.60,210.09 L250.85,210.41 L251.10,210.60 L251.35,210.43 L251.60,210.31 L251.85,210.50 L252.10,210.50 L252.35,210.54 L252.60,210.28 L252.85,210.41 L253.10,210.34 L253.35,210.11 L253.60,209.97 L253.85,210.00 L254.10,210.00 L254.35,210.00 L254.60,210.30 L254.85,210.16 L255.10,209.90 L255.35,209.53 L255.60,209.08 L255.85,208.78 L256.10,208.53 L256.35,208.37 L256.60,208.80 L256.85,209.22 L257.10,209.43 L257.35,209.83 L257.60,209.90 L257.85,209.94 L258.10,210.24 L258.35,210.24 L258.60,210.21 L258.85,210.29 L259.10,210.42 L259.35,210.45 L259.60,210.62 L259.85,210.60 L260.10,210.41 L260.35,210.60 L260.60,210.25 L260.85,210.14 L261.10,210.05 L261.35,210.13 L261.60,210.16 L261.85,210.19 L262.10,210.33 L262.35,210.27 L262.60,210.30 L262.85,210.41 L263.10,210.60 L263.35,210.71 L263.60,210.49 L263.85,210.38 L264.10,210.61 L264.35,210.66 L264.60,210.71 L264.85,210.37 L265.10,210.26 L265.35,210.27 L265.60,210.22 L265.85,210.27 L266.10,210.53 L266.35,210.40 L266.60,210.39 L266.85,210.30 L267.10,210.37 L267.35,210.39 L267.60,210.23 L267.85,210.08 L268.10,210.33 L268.35,210.51 L268.60,210.37 L268.85,210.23 L269.10,210.10 L269.35,210.28 L269.60,210.36 L269.85,210.58 L270.10,210.58 L270.35,210.52 L270.60,210.50 L270.85,210.65 L271.10,210.73 L271.35,210.41 L271.60,210.21 L271.85,210.11 L272.10,210.00 L272.35,210.34 L272.60,210.58 L272.85,210.49 L273.10,210.57 L273.35,210.57 L273.60,210.56 L273.85,210.43 L274.10,210.63 L274.35,210.43 L274.60,210.22 L274.85,210.08 L275.10,210.36 L275.35,210.51 L275.60,210.62 L275.85,210.66 L276.10,210.41 L276.35,210.33 L276.60,210.25 L276.85,210.49 L277.10,210.20 L277.35,210.19 L277.60,210.35 L277.85,210.44 L278.10,210.17 L278.35,210.08 L278.60,210.05 L278.85,210.06 L279.10,210.21 L279.35,210.06 L279.60,210.36 L279.85,210.34 L280.10,210.42 L280.35,210.31 L280.60,210.45 L280.85,210.12 L281.10,210.22 L281.35,209.85 L281.60,209.63 L281.85,209.41 L282.10,209.32 L282.35,209.31 L282.60,209.58 L282.85,209.56 L283.10,209.89 L283.35,210.10 L283.60,210.29 L283.85,210.15 L284.10,210.36 L284.35,210.17 L284.60,210.05 L284.85,209.99 L285.10,210.40 L285.35,210.24 L285.60,210.40 L285.85,210.19 L286.10,210.34 L286.35,210.23 L286.60,210.36 L286.85,210.50 L287.10,210.55 L287.35,210.51 L287.60,210.57 L287.85,210.26 L288.10,210.11 L288.35,210.12 L288.60,210.23 L288.85,210.44 L289.10,210.20 L289.35,210.16 L289.60,210.29 L289.85,210.26 L290.10,210.13 L290.35,210.16 L290.60,210.05 L290.85,209.98 L291.10,210.35 L291.35,210.29 L291.60,210.46 L291.85,210.32 L292.10,210.49 L292.35,210.65 L292.60,210.32 L292.85,210.42 L293.10,210.62 L293.35,210.67 L293.60,210.38 L293.85,210.52 L294.10,210.60 L294.35,210.36 L294.60,210.47 L294.85,210.52 L295.10,210.33 L295.35,210.54 L295.60,210.67 L295.85,210.36 L296.10,210.38 L296.35,210.45 L296.60,210.21 L296.85,210.32 L297.10,210.59 L297.35,210.44 L297.60,210.44 L297.85,210.65 L298.10,210.74 L298.35,210.83 L298.60,210.46 L298.85,210.69 L299.10,210.50 L299.35,210.41 L299.60,210.27 L299.85,210.50 L300.10,210.52 L300.35,210.47 L300.60,210.46 L300.85,210.46 L301.10,210.50 L301.35,210.31 L301.60,210.48 L301.85,210.35 L302.10,210.16 L302.35,210.52 L302.60,210.29 L302.85,210.51 L303.10,210.62 L303.35,210.51 L303.60,210.54 L303.85,210.38 L304.10,210.27 L304.35,210.54 L304.60,210.63 L304.85,210.68 L305.10,210.56 L305.35,210.29 L305.60,210.50 L305.85,210.71 L306.10,210.51 L306.35,210.55 L306.60,210.34 L306.85,210.62 L307.10,210.65 L307.35,210.36 L307.60,210.50 L307.85,210.57 L308.10,210.49 L308.35,210.52 L308.60,210.71 L308.85,210.69 L309.10,210.58 L309.35,210.76 L309.60,210.69 L309.85,210.73 L310.10,210.64 L310.35,210.69 L310.60,210.72 L310.85,210.61 L311.10,210.53 L311.35,210.36 L311.60,210.48 L311.85,210.59 L312.10,210.49 L312.35,210.27 L312.60,210.46 L312.85,210.54 L313.10,210.58 L313.35,210.36 L313.60,210.60 L313.85,210.66 L314.10,210.72 L314.35,210.44 L314.60,210.34 L314.85,210.42 L315.10,210.20 L315.35,210.56 L315.60,210.36 L315.85,210.24 L316.10,210.49 L316.35,210.35 L316.60,210.44 L316.85,210.53 L317.10,210.35 L317.35,210.18 L317.60,210.41 L317.85,210.61 L318.10,210.69 L318.35,210.38 L318.60,210.32 L318.85,210.32 L319.10,210.09 L319.35,210.31 L319.60,210.29 L319.85,210.18 L320.10,209.88 L320.35,209.50 L320.60,208.96 L320.85,208.95 L321.10,209.30 L321.35,209.32 L321.60,209.52 L321.85,210.16 L322.10,210.10 L322.35,210.47 L322.60,210.42 L322.85,210.32 L323.10,210.33 L323.35,210.58 L323.60,210.61 L323.85,210.37 L324.10,210.58 L324.35,210.46 L324.60,210.63 L324.85,210.57 L325.10,210.71 L325.35,210.64 L325.60,210.50 L325.85,210.74 L326.10,210.87 L326.35,210.73 L326.60,210.64 L326.85,210.63 L327.10,210.66 L327.35,210.48 L327.60,210.70 L327.85,210.58 L328.10,210.79 L328.35,210.70 L328.60,210.82 L328.85,210.88 L329.10,210.61 L329.35,210.34 L329.60,210.46 L329.85,210.52 L330.10,210.44 L330.35,210.40 L330.60,210.34 L330.85,210.22 L331.10,210.34 L331.35,210.43 L331.60,210.44 L331.85,210.64 L332.10,210.56 L332.35,210.66 L332.60,210.72 L332.85,210.64 L333.10,210.57 L333.35,210.42 L333.60,210.56 L333.85,210.72 L334.10,210.86 L334.35,210.86 L334.60,210.94 L334.85,210.79 L335.10,210.65 L335.35,210.83 L335.60,210.78 L335.85,210.46 L336.10,210.66 L336.35,210.65 L336.60,210.77 L336.85,210.62 L337.10,210.64 L337.35,210.64 L337.60,210.65 L337.85,210.78 L338.10,210.62 L338.35,210.67 L338.60,210.82 L338.85,210.49 L339.10,210.69 L339.35,210.71 L339.60,210.61 L339.85,210.35 L340.10,210.43 L340.35,210.32 L340.60,210.27 L340.85,210.40 L341.10,210.52 L341.35,210.74 L341.60,210.72 L341.85,210.77 L342.10,210.69 L342.35,210.39 L342.60,210.38 L342.85,210.27 L343.10,210.45 L343.35,210.40 L343.60,210.52 L343.85,210.45 L344.10,210.28 L344.35,210.27 L344.60,210.61 L344.85,210.56 L345.10,210.63 L345.35,210.62 L345.60,210.57 L345.85,210.65 L346.10,210.81 L346.35,210.76 L346.60,210.81 L346.85,210.62 L347.10,210.48 L347.35,210.28 L347.60,210.42 L347.85,210.27 L348.10,210.29 L348.35,210.39 L348.60,210.41 L348.85,210.33 L349.10,210.40 L349.35,210.67 L349.60,210.65 L349.85,210.69 L350.10,210.88 L350.35,210.80 L350.60,210.92 L350.85,210.85 L351.10,210.87 L351.35,210.79 L351.60,210.93 L351.85,210.79 L352.10,210.61 L352.35,210.67 L352.60,210.43 L352.85,210.45 L353.10,210.72 L353.35,210.48 L353.60,210.48 L353.85,210.42 L354.10,210.55 L354.35,210.73 L354.60,210.57 L354.85,210.61 L355.10,210.37 L355.35,210.33 L355.60,210.40 L355.85,210.55 L356.10,210.75 L356.35,210.86 L356.60,210.74 L356.85,210.55 L357.10,210.72 L357.35,210.83 L357.60,210.86 L357.85,210.81 L358.10,210.77 L358.35,210.64 L358.60,210.65 L358.85,210.55 L359.10,210.67 L359.35,210.81 L359.60,210.62 L359.85,210.72 L360.10,210.46 L360.35,210.32 L360.60,210.29 L360.85,210.32 L361.10,210.41 L361.35,210.44 L361.60,210.70 L361.85,210.44 L362.10,210.68 L362.35,210.52 L362.60,210.45 L362.85,210.50 L363.10,210.52 L363.35,210.59 L363.60,210.36 L363.85,210.51 L364.10,210.33 L364.35,210.28 L364.60,210.32 L364.85,210.45 L365.10,210.63 L365.35,210.39 L365.60,210.25 L365.85,210.37" fill="none" stroke="#333333" stroke-width="0.60" stroke-linejoin="round"/>
<rect x="58.10" y="129.70" width="308.40" height="86.60" fill="none" stroke="#1a1a1a" stroke-width="1"/>
<line x1="109.50" y1="216.30" x2="109.50" y2="212.80" stroke="#1a1a1a" stroke-width="0.90"/>
<line x1="109.50" y1="129.70" x2="109.50" y2="133.20" stroke="#1a1a1a" stroke-width="0.90"/>
<line x1="160.90" y1="216.30" x2="160.90" y2="212.80" stroke="#1a1a1a" stroke-width="0.90"/>
<line x1="160.90" y1="129.70" x2="160.90" y2="133.20" stroke="#1a1a1a" stroke-width="0.90"/>
<line x1="212.30" y1="216.30" x2="212.30" y2="212.80" stroke="#1a1a1a" stroke-width="0.90"/>
<line x1="212.30" y1="129.70" x2="212.30" y2="133.20" stroke="#1a1a1a" stroke-width="0.90"/>
<line x1="263.70" y1="216.30" x2="263.70" y2="212.80" stroke="#1a1a1a" stroke-width="0.90"/>
<line x1="263.70" y1="129.70" x2="263.70" y2="133.20" stroke="#1a1a1a" stroke-width="0.90"/>
<line x1="315.10" y1="216.30" x2="315.10" y2="212.80" stroke="#1a1a1a" stroke-width="0.90"/>
<line x1="315.10" y1="129.70" x2="315.10" y2="133.20" stroke="#1a1a1a" stroke-width="0.90"/>
<line x1="70.95" y1="216.30" x2="70.95" y2="214.30" stroke="#1a1a1a" stroke-width="0.90"/>
<line x1="70.95" y1="129.70" x2="70.95" y2="131.70" stroke="#1a1a1a" stroke-width="0.90"/>
<line x1="83.80" y1="216.30" x2="83.80" y2="214.30" stroke="#1a1a1a" stroke-width="0.90"/>
<line x1="83.80" y1="129.70" x2="83.80" y2="131.70" stroke="#1a1a1a" stroke-width="0.90"/>
<line x1="96.65" y1="216.30" x2="96.65" y2="214.30" stroke="#1a1a1a" stroke-width="0.90"/>
<line x1="96.65" y1="129.70" x2="96.65" y2="131.70" stroke="#1a1a1a" stroke-width="0.90"/>
<line x1="122.35" y1="216.30" x2="122.35" y2="214.30" stroke="#1a1a1a" stroke-width="0.90"/>
<line x1="122.35" y1="129.70" x2="122.35" y2="131.70" stroke="#1a1a1a" stroke-width="0.90"/>
<line x1="135.20" y1="216.30" x2="135.20" y2="214.30" stroke="#1a1a1a" stroke-width="0.90"/>
<line x1="135.20" y1="129.70" x2="135.20" y2="131.70" stroke="#1a1a1a" stroke-width="0.90"/>
<line x1="148.05" y1="216.30" x2="148.05" y2="214.30" stroke="#1a1a1a" stroke-width="0.90"/>
<line x1="148.05" y1="129.70" x2="148.05" y2="131.70" stroke="#1a1a1a" stroke-width="0.90"/>
<line x1="173.75" y1="216.30" x2="173.75" y2="214.30" stroke="#1a1a1a" stroke-width="0.90"/>
<line x1="173.75" y1="129.70" x2="173.75" y2="131.70" stroke="#1a1a1a" stroke-width="0.90"/>
<line x1="186.60" y1="216.30" x2="186.60" y2="214.30" stroke="#1a1a1a" stroke-width="0.90"/>
<line x1="186.60" y1="129.70" x2="186.60" y2="131.70" stroke="#1a1a1a" stroke-width="0.90"/>
<line x1="199.45" y1="216.30" x2="199.45" y2="214.30" stroke="#1a1a1a" stroke-width="0.90"/>
<line x1="199.45" y1="129.70" x2="199.45" y2="131.70" stroke="#1a1a1a" stroke-width="0.90"/>
<line x1="225.15" y1="216.30" x2="225.15" y2="214.30" stroke="#1a1a1a" stroke-width="0.90"/>
<line x1="225.15" y1="129.70" x2="225.15" y2="131.70" stroke="#1a1a1a" stroke-width="0.90"/>
<line x1="238.00" y1="216.30" x2="238.00" y2="214.30" stroke="#1a1a1a" stroke-width="0.90"/>
<line x1="238.00" y1="129.70" x2="238.00" y2="131.70" stroke="#1a1a1a" stroke-width="0.90"/>
<line x1="250.85" y1="216.30" x2="250.85" y2="214.30" stroke="#1a1a1a" stroke-width="0.90"/>
<line x1="250.85" y1="129.70" x2="250.85" y2="131.70" stroke="#1a1a1a" stroke-width="0.90"/>
<line x1="276.55" y1="216.30" x2="276.55" y2="214.30" stroke="#1a1a1a" stroke-width="0.90"/>
<line x1="276.55" y1="129.70" x2="276.55" y2="131.70" stroke="#1a1a1a" stroke-width="0.90"/>
<line x1="289.40" y1="216.30" x2="289.40" y2="214.30" stroke="#1a1a1a" stroke-width="0.90"/>
<line x1="289.40" y1="129.70" x2="289.40" y2="131.70" stroke="#1a1a1a" stroke-width="0.90"/>
<line x1="302.25" y1="216.30" x2="302.25" y2="214.30" stroke="#1a1a1a" stroke-width="0.90"/>
<line x1="302.25" y1="129.70" x2="302.25" y2="131.70" stroke="#1a1a1a" stroke-width="0.90"/>
<line x1="327.95" y1="216.30" x2="327.95" y2="214.30" stroke="#1a1a1a" stroke-width="0.90"/>
<line x1="327.95" y1="129.70" x2="327.95" y2="131.70" stroke="#1a1a1a" stroke-width="0.90"/>
<line x1="340.80" y1="216.30" x2="340.80" y2="214.30" stroke="#1a1a1a" stroke-width="0.90"/>
<line x1="340.80" y1="129.70" x2="340.80" y2="131.70" stroke="#1a1a1a" stroke-width="0.90"/>
<line x1="353.65" y1="216.30" x2="353.65" y2="214.30" stroke="#1a1a1a" stroke-width="0.90"/>
<line x1="353.65" y1="129.70" x2="353.65" y2="131.70" stroke="#1a1a1a" stroke-width="0.90"/>
<line x1="58.10" y1="134.60" x2="61.60" y2="134.60" stroke="#1a1a1a" stroke-width="0.90"/>
<line x1="366.50" y1="134.60" x2="363.00" y2="134.60" stroke="#1a1a1a" stroke-width="0.90"/>
<line x1="58.10" y1="144.12" x2="61.60" y2="144.12" stroke="#1a1a1a" stroke-width="0.90"/>
<line x1="366.50" y1="144.12" x2="363.00" y2="144.12" stroke="#1a1a1a" stroke-width="0.90"/>
<line x1="58.10" y1="153.65" x2="61.60" y2="153.65" stroke="#1a1a1a" stroke-width="0.90"/>
<line x1="366.50" y1="153.65" x2="363.00" y2="153.65" stroke="#1a1a1a" stroke-width="0.90"/>
<line x1="58.10" y1="163.18" x2="61.60" y2="163.18" stroke="#1a1a1a" stroke-width="0.90"/>
<line x1="366.50" y1="163.18" x2="363.00" y2="163.18" stroke="#1a1a1a" stroke-width="0.90"/>
<line x1="58.10" y1="172.70" x2="61.60" y2="172.70" stroke="#1a1a1a" stroke-width="0.90"/>
<line x1="366.50" y1="172.70" x2="363.00" y2="172.70" stroke="#1a1a1a" stroke-width="0.90"/>
<line x1="58.10" y1="182.22" x2="61.60" y2="182.22" stroke="#1a1a1a" stroke-width="0.90"/>
<line x1="366.50" y1="182.22" x2="363.00" y2="182.22" stroke="#1a1a1a" stroke-width="0.90"/>
<line x1="58.10" y1="191.75" x2="61.60" y2="191.75" stroke="#1a1a1a" stroke-width="0.90"/>
<line x1="366.50" y1="191.75" x2="363.00" y2="191.75" stroke="#1a1a1a" stroke-width="0.90"/>
<line x1="58.10" y1="201.27" x2="61.60" y2="201.27" stroke="#1a1a1a" stroke-width="0.90"/>
<line x1="366.50" y1="201.27" x2="363.00" y2="201.27" stroke="#1a1a1a" stroke-width="0.90"/>
<line x1="58.10" y1="210.80" x2="61.60" y2="210.80" stroke="#1a1a1a" stroke-width="0.90"/>
<line x1="366.50" y1="210.80" x2="363.00" y2="210.80" stroke="#1a1a1a" stroke-width="0.90"/>
<line x1="58.10" y1="139.40" x2="60.10" y2="139.40" stroke="#1a1a1a" stroke-width="0.90"/>
<line x1="366.50" y1="139.40" x2="364.50" y2="139.40" stroke="#1a1a1a" stroke-width="0.90"/>
<line x1="58.10" y1="148.93" x2="60.10" y2="148.93" stroke="#1a1a1a" stroke-width="0.90"/>
<line x1="366.50" y1="148.93" x2="364.50" y2="148.93" stroke="#1a1a1a" stroke-width="0.90"/>
<line x1="58.10" y1="158.45" x2="60.10" y2="158.45" stroke="#1a1a1a" stroke-width="0.90"/>
<line x1="366.50" y1="158.45" x2="364.50" y2="158.45" stroke="#1a1a1a" stroke-width="0.90"/>
<line x1="58.10" y1="167.98" x2="60.10" y2="167.98" stroke="#1a1a1a" stroke-width="0.90"/>
<line x1="366.50" y1="167.98" x2="364.50" y2="167.98" stroke="#1a1a1a" stroke-width="0.90"/>
<line x1="58.10" y1="177.50" x2="60.10" y2="177.50" stroke="#1a1a1a" stroke-width="0.90"/>
<line x1="366.50" y1="177.50" x2="364.50" y2="177.50" stroke="#1a1a1a" stroke-width="0.90"/>
<line x1="58.10" y1="187.03" x2="60.10" y2="187.03" stroke="#1a1a1a" stroke-width="0.90"/>
<line x1="366.50" y1="187.03" x2="364.50" y2="187.03" stroke="#1a1a1a" stroke-width="0.90"/>
<line x1="58.10" y1="196.55" x2="60.10" y2="196.55" stroke="#1a1a1a" stroke-width="0.90"/>
<line x1="366.50" y1="196.55" x2="364.50" y2="196.55" stroke="#1a1a1a" stroke-width="0.90"/>
<line x1="58.10" y1="206.07" x2="60.10" y2="206.07" stroke="#1a1a1a" stroke-width="0.90"/>
<line x1="366.50" y1="206.07" x2="364.50" y2="206.07" stroke="#1a1a1a" stroke-width="0.90"/>
<text x="0.00" y="0.00" font-size="8.60" fill="#222" stroke="#222" stroke-width="0.22" text-anchor="middle" font-weight="normal" transform="translate(58.10,227.9) scale(1,1.17)">20</text>
<text x="0.00" y="0.00" font-size="8.60" fill="#222" stroke="#222" stroke-width="0.22" text-anchor="middle" font-weight="normal" transform="translate(109.50,227.9) scale(1,1.17)">30</text>
<text x="0.00" y="0.00" font-size="8.60" fill="#222" stroke="#222" stroke-width="0.22" text-anchor="middle" font-weight="normal" transform="translate(160.90,227.9) scale(1,1.17)">40</text>
<text x="0.00" y="0.00" font-size="8.60" fill="#222" stroke="#222" stroke-width="0.22" text-anchor="middle" font-weight="normal" transform="translate(212.30,227.9) scale(1,1.17)">50</text>
<text x="0.00" y="0.00" font-size="8.60" fill="#222" stroke="#222" stroke-width="0.22" text-anchor="middle" font-weight="normal" transform="translate(263.70,227.9) scale(1,1.17)">60</text>
<text x="0.00" y="0.00" font-size="8.60" fill="#222" stroke="#222" stroke-width="0.22" text-anchor="middle" font-weight="normal" transform="translate(315.10,227.9) scale(1,1.17)">70</text>
<text x="0.00" y="0.00" font-size="8.60" fill="#222" stroke="#222" stroke-width="0.22" text-anchor="middle" font-weight="normal" transform="translate(366.50,227.9) scale(1,1.17)">80</text>
<text x="201.10" y="149.70" font-size="10.90" fill="#000" stroke="#000" stroke-width="0.10" text-anchor="start" font-weight="bold" >KNN</text>
<text x="224.60" y="153.40" font-size="7.00" fill="#000" stroke="#000" stroke-width="0.10" text-anchor="start" font-weight="bold" >ex</text>
<text x="303.80" y="154.60" font-size="8.90" fill="#e5b04c" stroke="#e5b04c" stroke-width="0.22" text-anchor="start" font-weight="normal" >after 1st calc.</text>
<text x="304.30" y="199.60" font-size="9.00" fill="#222" stroke="#222" stroke-width="0.22" text-anchor="start" font-weight="normal" >after 1st mill.</text>
<text x="212.30" y="246.00" font-size="10.60" fill="#222" stroke="#222" stroke-width="0.22" text-anchor="middle" font-weight="normal" >2θ / °</text>
<text x="0.00" y="0.00" font-size="11.05" fill="#111" stroke="#111" stroke-width="0.22" text-anchor="middle" font-weight="normal" transform="translate(44.2,43.3) rotate(-90)">Intensity / a.u.</text>
<text x="0.00" y="0.00" font-size="11.05" fill="#111" stroke="#111" stroke-width="0.22" text-anchor="middle" font-weight="normal" transform="translate(44.4,172.8) rotate(-90)">Intensity / a.u.</text>
<text y="18.1" fill="#111" stroke="#111" stroke-width="0.35"><tspan x="-1.0" font-size="17.8">(</tspan><tspan x="5.35" font-size="16">a</tspan><tspan x="15.95" font-size="17.8">)</tspan></text>
<path d="M453.20,36.20 L453.55,36.21 L453.90,36.26 L454.25,36.21 L454.60,36.19 L454.95,36.17 L455.30,36.09 L455.65,36.08 L456.00,36.07 L456.35,36.07 L456.70,35.92 L457.05,35.83 L457.40,35.67 L457.75,35.60 L458.10,35.37 L458.45,34.76 L458.80,33.61 L459.15,30.65 L459.50,25.06 L459.85,18.69 L460.20,17.87 L460.55,23.72 L460.90,29.73 L461.25,33.11 L461.60,34.58 L461.95,35.19 L462.30,35.45 L462.65,35.68 L463.00,35.83 L463.35,35.99 L463.70,36.05 L464.05,36.11 L464.40,36.14 L464.75,36.19 L465.10,36.19 L465.45,36.17 L465.80,36.28 L466.15,36.34 L466.50,36.36 L466.85,36.35 L467.20,36.28 L467.55,36.24 L467.90,36.22 L468.25,36.18 L468.60,36.28 L468.95,36.27 L469.30,36.34 L469.65,36.31 L470.00,36.38 L470.35,36.41 L470.70,36.28 L471.05,36.25 L471.40,36.35 L471.75,36.33 L472.10,36.41 L472.45,36.35 L472.80,36.27 L473.15,36.32 L473.50,36.37 L473.85,36.32 L474.20,36.26 L474.55,36.26 L474.90,36.37 L475.25,36.40 L475.60,36.31 L475.95,36.28 L476.30,36.24 L476.65,36.22 L477.00,36.32 L477.35,36.28 L477.70,36.32 L478.05,36.32 L478.40,36.28 L478.75,36.34 L479.10,36.28 L479.45,36.33 L479.80,36.27 L480.15,36.29 L480.50,36.26 L480.85,36.26 L481.20,36.37 L481.55,36.40 L481.90,36.33 L482.25,36.39 L482.60,36.31 L482.95,36.29 L483.30,36.36 L483.65,36.35 L484.00,36.26 L484.35,36.35 L484.70,36.27 L485.05,36.23 L485.40,36.28 L485.75,36.23 L486.10,36.18 L486.45,36.11 L486.80,36.06 L487.15,36.09 L487.50,36.03 L487.85,36.03 L488.20,35.95 L488.55,35.87 L488.90,35.84 L489.25,35.65 L489.60,35.41 L489.95,35.08 L490.30,34.26 L490.65,32.51 L491.00,28.79 L491.35,22.00 L491.70,13.67 L492.05,10.57 L492.40,16.65 L492.75,24.92 L493.10,30.52 L493.45,33.47 L493.80,34.73 L494.15,35.26 L494.50,35.53 L494.85,35.66 L495.20,35.75 L495.55,35.98 L495.90,36.01 L496.25,36.12 L496.60,36.12 L496.95,36.23 L497.30,36.26 L497.65,36.24 L498.00,36.22 L498.35,36.30 L498.70,36.25 L499.05,36.25 L499.40,36.31 L499.75,36.39 L500.10,36.40 L500.45,36.36 L500.80,36.44 L501.15,36.37 L501.50,36.31 L501.85,36.31 L502.20,36.35 L502.55,36.31 L502.90,36.31 L503.25,36.34 L503.60,36.39 L503.95,36.35 L504.30,36.37 L504.65,36.46 L505.00,36.53 L505.35,36.52 L505.70,36.52 L506.05,36.50 L506.40,36.42 L506.75,36.36 L507.10,36.33 L507.45,36.45 L507.80,36.49 L508.15,36.55 L508.50,36.44 L508.85,36.47 L509.20,36.47 L509.55,36.51 L509.90,36.46 L510.25,36.55 L510.60,36.45 L510.95,36.47 L511.30,36.51 L511.65,36.57 L512.00,36.57 L512.35,36.56 L512.70,36.58 L513.05,36.61 L513.40,36.53 L513.75,36.54 L514.10,36.59 L514.45,36.61 L514.80,36.54 L515.15,36.57 L515.50,36.60 L515.85,36.57 L516.20,36.56 L516.55,36.51 L516.90,36.52 L517.25,36.53 L517.60,36.45 L517.95,36.50 L518.30,36.59 L518.65,36.61 L519.00,36.61 L519.35,36.55 L519.70,36.57 L520.05,36.56 L520.40,36.53 L520.75,36.58 L521.10,36.48 L521.45,36.54 L521.80,36.46 L522.15,36.50 L522.50,36.51 L522.85,36.47 L523.20,36.53 L523.55,36.53 L523.90,36.54 L524.25,36.60 L524.60,36.53 L524.95,36.45 L525.30,36.45 L525.65,36.51 L526.00,36.47 L526.35,36.44 L526.70,36.55 L527.05,36.56 L527.40,36.54 L527.75,36.60 L528.10,36.54 L528.45,36.56 L528.80,36.49 L529.15,36.49 L529.50,36.55 L529.85,36.60 L530.20,36.62 L530.55,36.55 L530.90,36.54 L531.25,36.49 L531.60,36.43 L531.95,36.45 L532.30,36.51 L532.65,36.54 L533.00,36.53 L533.35,36.55 L533.70,36.44 L534.05,36.34 L534.40,36.31 L534.75,36.23 L535.10,36.13 L535.45,36.00 L535.80,35.75 L536.15,35.20 L536.50,34.20 L536.85,32.85 L537.20,31.31 L537.55,30.26 L537.90,30.63 L538.25,32.06 L538.60,33.72 L538.95,34.81 L539.30,35.58 L539.65,35.98 L540.00,36.14 L540.35,36.31 L540.70,36.28 L541.05,36.30 L541.40,36.37 L541.75,36.34 L542.10,36.47 L542.45,36.45 L542.80,36.42 L543.15,36.40 L543.50,36.48 L543.85,36.50 L544.20,36.55 L544.55,36.58 L544.90,36.62 L545.25,36.67 L545.60,36.65 L545.95,36.57 L546.30,36.57 L546.65,36.52 L547.00,36.47 L547.35,36.51 L547.70,36.58 L548.05,36.53 L548.40,36.52 L548.75,36.52 L549.10,36.58 L549.45,36.59 L549.80,36.60 L550.15,36.63 L550.50,36.59 L550.85,36.63 L551.20,36.67 L551.55,36.56 L551.90,36.63 L552.25,36.63 L552.60,36.53 L552.95,36.52 L553.30,36.53 L553.65,36.58 L554.00,36.50 L554.35,36.47 L554.70,36.46 L555.05,36.39 L555.40,36.24 L555.75,35.86 L556.10,35.29 L556.45,34.39 L556.80,33.43 L557.15,32.66 L557.50,32.60 L557.85,33.35 L558.20,34.28 L558.55,35.22 L558.90,35.86 L559.25,36.24 L559.60,36.38 L559.95,36.49 L560.30,36.48 L560.65,36.58 L561.00,36.63 L561.35,36.58 L561.70,36.51 L562.05,36.54 L562.40,36.58 L562.75,36.64 L563.10,36.63 L563.45,36.55 L563.80,36.63 L564.15,36.56 L564.50,36.64 L564.85,36.59 L565.20,36.58 L565.55,36.65 L565.90,36.59 L566.25,36.56 L566.60,36.60 L566.95,36.65 L567.30,36.70 L567.65,36.70 L568.00,36.75 L568.35,36.69 L568.70,36.74 L569.05,36.62 L569.40,36.58 L569.75,36.60 L570.10,36.57 L570.45,36.61 L570.80,36.62 L571.15,36.59 L571.50,36.62 L571.85,36.57 L572.20,36.49 L572.55,36.42 L572.90,36.40 L573.25,36.30 L573.60,35.93 L573.95,35.47 L574.30,34.68 L574.65,33.49 L575.00,32.26 L575.35,31.51 L575.70,31.92 L576.05,33.07 L576.40,34.30 L576.75,35.15 L577.10,35.86 L577.45,36.19 L577.80,36.34 L578.15,36.49 L578.50,36.54 L578.85,36.57 L579.20,36.62 L579.55,36.56 L579.90,36.60 L580.25,36.62 L580.60,36.71 L580.95,36.77 L581.30,36.69 L581.65,36.69 L582.00,36.63 L582.35,36.66 L582.70,36.73 L583.05,36.79 L583.40,36.75 L583.75,36.71 L584.10,36.67 L584.45,36.71 L584.80,36.79 L585.15,36.71 L585.50,36.76 L585.85,36.68 L586.20,36.66 L586.55,36.65 L586.90,36.72 L587.25,36.71 L587.60,36.70 L587.95,36.74 L588.30,36.68 L588.65,36.75 L589.00,36.69 L589.35,36.73 L589.70,36.70 L590.05,36.68 L590.40,36.72 L590.75,36.73 L591.10,36.73 L591.45,36.73 L591.80,36.75 L592.15,36.71 L592.50,36.69 L592.85,36.75 L593.20,36.78 L593.55,36.78 L593.90,36.84 L594.25,36.83 L594.60,36.87 L594.95,36.78 L595.30,36.82 L595.65,36.85 L596.00,36.89 L596.35,36.81 L596.70,36.77 L597.05,36.85 L597.40,36.77 L597.75,36.86 L598.10,36.89 L598.45,36.79 L598.80,36.74 L599.15,36.80 L599.50,36.76 L599.85,36.71 L600.20,36.80 L600.55,36.78 L600.90,36.83 L601.25,36.75 L601.60,36.75 L601.95,36.79 L602.30,36.71 L602.65,36.69 L603.00,36.76 L603.35,36.83 L603.70,36.87 L604.05,36.75 L604.40,36.75 L604.75,36.78 L605.10,36.74 L605.45,36.74 L605.80,36.63 L606.15,36.50 L606.50,36.35 L606.85,36.13 L607.20,35.89 L607.55,35.51 L607.90,35.08 L608.25,34.67 L608.60,34.57 L608.95,34.82 L609.30,35.36 L609.65,35.88 L610.00,36.27 L610.35,36.40 L610.70,36.48 L611.05,36.68 L611.40,36.71 L611.75,36.78 L612.10,36.75 L612.45,36.76 L612.80,36.78 L613.15,36.78 L613.50,36.81 L613.85,36.73 L614.20,36.81 L614.55,36.87 L614.90,36.80 L615.25,36.81 L615.60,36.86 L615.95,36.83 L616.30,36.78 L616.65,36.75 L617.00,36.79 L617.35,36.74 L617.70,36.85 L618.05,36.89 L618.40,36.90 L618.75,36.93 L619.10,36.91 L619.45,36.86 L619.80,36.86 L620.15,36.84 L620.50,36.90 L620.85,36.90 L621.20,36.79 L621.55,36.81 L621.90,36.75 L622.25,36.65 L622.60,36.52 L622.95,36.28 L623.30,36.14 L623.65,36.03 L624.00,35.99 L624.35,36.10 L624.70,36.28 L625.05,36.41 L625.40,36.59 L625.75,36.62 L626.10,36.69 L626.45,36.76 L626.80,36.72 L627.15,36.76 L627.50,36.83 L627.85,36.87 L628.20,36.83 L628.55,36.92 L628.90,36.93 L629.25,36.88 L629.60,36.91 L629.95,36.91 L630.30,36.91 L630.65,36.89 L631.00,36.97 L631.35,36.96 L631.70,36.97 L632.05,36.98 L632.40,37.02 L632.75,36.89 L633.10,36.91 L633.45,36.94 L633.80,36.88 L634.15,36.87 L634.50,36.81 L634.85,36.79 L635.20,36.81 L635.55,36.77 L635.90,36.77 L636.25,36.85 L636.60,36.83 L636.95,36.77 L637.30,36.78 L637.65,36.67 L638.00,36.63 L638.35,36.50 L638.70,36.41 L639.05,36.24 L639.40,36.26 L639.75,36.35 L640.10,36.35 L640.45,36.55 L640.80,36.58 L641.15,36.68 L641.50,36.71 L641.85,36.79 L642.20,36.86 L642.55,36.81 L642.90,36.94 L643.25,36.92 L643.60,36.93 L643.95,36.95 L644.30,36.93 L644.65,36.90 L645.00,36.95 L645.35,36.96 L645.70,36.92 L646.05,36.98 L646.40,36.94 L646.75,36.87 L647.10,36.87 L647.45,36.84 L647.80,36.84 L648.15,36.94 L648.50,36.94 L648.85,37.02 L649.20,37.04 L649.55,36.94 L649.90,37.04 L650.25,37.09 L650.60,36.97 L650.95,37.04 L651.30,37.01 L651.65,37.00 L652.00,37.07 L652.35,36.99 L652.70,37.00" fill="none" stroke="#e4dc70" stroke-width="0.60" stroke-linejoin="round"/>
<path d="M453.20,104.29 L453.40,104.31 L453.60,104.31 L453.80,104.33 L454.00,104.28 L454.20,104.25 L454.40,104.22 L454.60,104.21 L454.80,104.24 L455.00,104.20 L455.20,104.20 L455.40,104.17 L455.60,104.15 L455.80,104.14 L456.00,104.15 L456.20,104.12 L456.40,104.04 L456.60,104.00 L456.80,103.93 L457.00,103.92 L457.20,103.87 L457.40,103.79 L457.60,103.68 L457.80,103.51 L458.00,103.31 L458.20,102.99 L458.40,102.44 L458.60,101.42 L458.80,98.59 L459.00,91.25 L459.20,76.89 L459.40,59.48 L459.60,53.75 L459.80,66.70 L460.00,83.28 L460.20,93.03 L460.40,94.72 L460.60,89.87 L460.80,80.95 L461.00,73.83 L461.20,76.34 L461.40,85.90 L461.60,94.63 L461.80,99.75 L462.00,101.96 L462.20,102.80 L462.40,103.18 L462.60,103.44 L462.80,103.60 L463.00,103.73 L463.20,103.85 L463.40,103.92 L463.60,103.95 L463.80,104.01 L464.00,104.04 L464.20,104.07 L464.40,104.09 L464.60,104.12 L464.80,104.12 L465.00,104.18 L465.20,104.24 L465.40,104.23 L465.60,104.26 L465.80,104.30 L466.00,104.25 L466.20,104.23 L466.40,104.28 L466.60,104.31 L466.80,104.32 L467.00,104.28 L467.20,104.28 L467.40,104.33 L467.60,104.35 L467.80,104.36 L468.00,104.32 L468.20,104.35 L468.40,104.33 L468.60,104.34 L468.80,104.31 L469.00,104.36 L469.20,104.36 L469.40,104.36 L469.60,104.33 L469.80,104.34 L470.00,104.35 L470.20,104.35 L470.40,104.34 L470.60,104.36 L470.80,104.34 L471.00,104.33 L471.20,104.31 L471.40,104.34 L471.60,104.31 L471.80,104.31 L472.00,104.29 L472.20,104.33 L472.40,104.34 L472.60,104.35 L472.80,104.31 L473.00,104.33 L473.20,104.33 L473.40,104.30 L473.60,104.29 L473.80,104.36 L474.00,104.32 L474.20,104.32 L474.40,104.32 L474.60,104.34 L474.80,104.31 L475.00,104.33 L475.20,104.33 L475.40,104.37 L475.60,104.32 L475.80,104.32 L476.00,104.34 L476.20,104.38 L476.40,104.37 L476.60,104.36 L476.80,104.37 L477.00,104.35 L477.20,104.31 L477.40,104.33 L477.60,104.37 L477.80,104.38 L478.00,104.35 L478.20,104.36 L478.40,104.39 L478.60,104.35 L478.80,104.36 L479.00,104.34 L479.20,104.32 L479.40,104.32 L479.60,104.31 L479.80,104.31 L480.00,104.29 L480.20,104.30 L480.40,104.29 L480.60,104.33 L480.80,104.34 L481.00,104.30 L481.20,104.34 L481.40,104.31 L481.60,104.32 L481.80,104.33 L482.00,104.32 L482.20,104.31 L482.40,104.31 L482.60,104.29 L482.80,104.33 L483.00,104.30 L483.20,104.33 L483.40,104.30 L483.60,104.29 L483.80,104.29 L484.00,104.26 L484.20,104.25 L484.40,104.26 L484.60,104.27 L484.80,104.31 L485.00,104.34 L485.20,104.27 L485.40,104.27 L485.60,104.24 L485.80,104.27 L486.00,104.25 L486.20,104.27 L486.40,104.26 L486.60,104.21 L486.80,104.16 L487.00,104.15 L487.20,104.19 L487.40,104.14 L487.60,104.13 L487.80,104.11 L488.00,104.08 L488.20,104.08 L488.40,104.02 L488.60,104.00 L488.80,103.96 L489.00,103.92 L489.20,103.83 L489.40,103.75 L489.60,103.59 L489.80,103.38 L490.00,103.03 L490.20,102.43 L490.40,101.45 L490.60,99.99 L490.80,98.33 L491.00,96.59 L491.20,93.58 L491.40,85.86 L491.60,70.52 L491.80,51.15 L492.00,41.86 L492.20,52.99 L492.40,71.53 L492.60,85.01 L492.80,91.91 L493.00,95.51 L493.20,98.21 L493.40,100.33 L493.60,101.81 L493.80,102.69 L494.00,103.15 L494.20,103.43 L494.40,103.62 L494.60,103.75 L494.80,103.81 L495.00,103.90 L495.20,103.92 L495.40,103.97 L495.60,104.06 L495.80,104.08 L496.00,104.09 L496.20,104.14 L496.40,104.15 L496.60,104.13 L496.80,104.13 L497.00,104.15 L497.20,104.17 L497.40,104.24 L497.60,104.22 L497.80,104.26 L498.00,104.29 L498.20,104.28 L498.40,104.32 L498.60,104.32 L498.80,104.30 L499.00,104.28 L499.20,104.28 L499.40,104.32 L499.60,104.32 L499.80,104.29 L500.00,104.29 L500.20,104.30 L500.40,104.28 L500.60,104.30 L500.80,104.27 L501.00,104.32 L501.20,104.30 L501.40,104.28 L501.60,104.31 L501.80,104.30 L502.00,104.34 L502.20,104.34 L502.40,104.34 L502.60,104.36 L502.80,104.33 L503.00,104.35 L503.20,104.36 L503.40,104.34 L503.60,104.38 L503.80,104.32 L504.00,104.36 L504.20,104.32 L504.40,104.36 L504.60,104.32 L504.80,104.30 L505.00,104.32 L505.20,104.36 L505.40,104.34 L505.60,104.34 L505.80,104.35 L506.00,104.33 L506.20,104.34 L506.40,104.30 L506.60,104.32 L506.80,104.35 L507.00,104.34 L507.20,104.32 L507.40,104.30 L507.60,104.34 L507.80,104.34 L508.00,104.38 L508.20,104.38 L508.40,104.34 L508.60,104.38 L508.80,104.40 L509.00,104.40 L509.20,104.41 L509.40,104.40 L509.60,104.39 L509.80,104.39 L510.00,104.38 L510.20,104.35 L510.40,104.32 L510.60,104.35 L510.80,104.36 L511.00,104.32 L511.20,104.35 L511.40,104.36 L511.60,104.36 L511.80,104.38 L512.00,104.39 L512.20,104.37 L512.40,104.38 L512.60,104.37 L512.80,104.37 L513.00,104.35 L513.20,104.38 L513.40,104.36 L513.60,104.39 L513.80,104.36 L514.00,104.36 L514.20,104.39 L514.40,104.38 L514.60,104.35 L514.80,104.30 L515.00,104.31 L515.20,104.29 L515.40,104.30 L515.60,104.26 L515.80,104.20 L516.00,104.05 L516.20,103.90 L516.40,103.80 L516.60,103.78 L516.80,103.81 L517.00,103.92 L517.20,104.03 L517.40,104.14 L517.60,104.22 L517.80,104.31 L518.00,104.30 L518.20,104.35 L518.40,104.33 L518.60,104.31 L518.80,104.36 L519.00,104.32 L519.20,104.30 L519.40,104.29 L519.60,104.28 L519.80,104.30 L520.00,104.30 L520.20,104.29 L520.40,104.28 L520.60,104.33 L520.80,104.30 L521.00,104.30 L521.20,104.33 L521.40,104.37 L521.60,104.37 L521.80,104.38 L522.00,104.38 L522.20,104.39 L522.40,104.40 L522.60,104.35 L522.80,104.31 L523.00,104.34 L523.20,104.34 L523.40,104.35 L523.60,104.37 L523.80,104.33 L524.00,104.36 L524.20,104.35 L524.40,104.34 L524.60,104.32 L524.80,104.31 L525.00,104.33 L525.20,104.34 L525.40,104.38 L525.60,104.34 L525.80,104.36 L526.00,104.32 L526.20,104.34 L526.40,104.31 L526.60,104.36 L526.80,104.39 L527.00,104.35 L527.20,104.37 L527.40,104.33 L527.60,104.32 L527.80,104.29 L528.00,104.31 L528.20,104.29 L528.40,104.33 L528.60,104.34 L528.80,104.33 L529.00,104.35 L529.20,104.32 L529.40,104.31 L529.60,104.31 L529.80,104.27 L530.00,104.33 L530.20,104.29 L530.40,104.27 L530.60,104.32 L530.80,104.34 L531.00,104.33 L531.20,104.31 L531.40,104.28 L531.60,104.25 L531.80,104.28 L532.00,104.27 L532.20,104.25 L532.40,104.30 L532.60,104.25 L532.80,104.25 L533.00,104.28 L533.20,104.29 L533.40,104.24 L533.60,104.26 L533.80,104.25 L534.00,104.25 L534.20,104.26 L534.40,104.25 L534.60,104.22 L534.80,104.20 L535.00,104.15 L535.20,104.10 L535.40,104.07 L535.60,104.00 L535.80,103.90 L536.00,103.73 L536.20,103.59 L536.40,103.22 L536.60,102.33 L536.80,100.02 L537.00,95.29 L537.20,88.41 L537.40,83.22 L537.60,84.99 L537.80,91.64 L538.00,97.69 L538.20,101.06 L538.40,102.35 L538.60,102.44 L538.80,101.42 L539.00,98.90 L539.20,95.10 L539.40,92.09 L539.60,93.04 L539.80,96.85 L540.00,100.39 L540.20,102.47 L540.40,103.38 L540.60,103.76 L540.80,103.87 L541.00,103.96 L541.20,104.06 L541.40,104.10 L541.60,104.16 L541.80,104.15 L542.00,104.20 L542.20,104.21 L542.40,104.23 L542.60,104.20 L542.80,104.22 L543.00,104.26 L543.20,104.29 L543.40,104.29 L543.60,104.28 L543.80,104.24 L544.00,104.28 L544.20,104.28 L544.40,104.31 L544.60,104.31 L544.80,104.30 L545.00,104.33 L545.20,104.29 L545.40,104.33 L545.60,104.29 L545.80,104.34 L546.00,104.33 L546.20,104.32 L546.40,104.35 L546.60,104.34 L546.80,104.33 L547.00,104.29 L547.20,104.32 L547.40,104.33 L547.60,104.30 L547.80,104.28 L548.00,104.29 L548.20,104.34 L548.40,104.36 L548.60,104.34 L548.80,104.29 L549.00,104.33 L549.20,104.30 L549.40,104.32 L549.60,104.32 L549.80,104.35 L550.00,104.31 L550.20,104.33 L550.40,104.34 L550.60,104.29 L550.80,104.30 L551.00,104.29 L551.20,104.31 L551.40,104.34 L551.60,104.34 L551.80,104.32 L552.00,104.32 L552.20,104.28 L552.40,104.28 L552.60,104.25 L552.80,104.28 L553.00,104.24 L553.20,104.25 L553.40,104.23 L553.60,104.24 L553.80,104.20 L554.00,104.17 L554.20,104.19 L554.40,104.20 L554.60,104.20 L554.80,104.17 L555.00,104.15 L555.20,104.03 L555.40,103.93 L555.60,103.72 L555.80,103.18 L556.00,102.04 L556.20,100.03 L556.40,97.42 L556.60,95.40 L556.80,95.64 L557.00,97.79 L557.20,99.93 L557.40,100.98 L557.60,100.67 L557.80,99.60 L558.00,99.00 L558.20,99.67 L558.40,101.14 L558.60,102.50 L558.80,103.38 L559.00,103.78 L559.20,103.97 L559.40,104.05 L559.60,104.13 L559.80,104.19 L560.00,104.19 L560.20,104.23 L560.40,104.23 L560.60,104.22 L560.80,104.22 L561.00,104.25 L561.20,104.29 L561.40,104.29 L561.60,104.25 L561.80,104.29 L562.00,104.30 L562.20,104.29 L562.40,104.27 L562.60,104.28 L562.80,104.31 L563.00,104.29 L563.20,104.27 L563.40,104.32 L563.60,104.31 L563.80,104.27 L564.00,104.32 L564.20,104.29 L564.40,104.29 L564.60,104.31 L564.80,104.32 L565.00,104.35 L565.20,104.31 L565.40,104.32 L565.60,104.34 L565.80,104.33 L566.00,104.34 L566.20,104.32 L566.40,104.34 L566.60,104.36 L566.80,104.33 L567.00,104.34 L567.20,104.31 L567.40,104.34 L567.60,104.35 L567.80,104.36 L568.00,104.37 L568.20,104.35 L568.40,104.36 L568.60,104.31 L568.80,104.31 L569.00,104.27 L569.20,104.29 L569.40,104.31 L569.60,104.28 L569.80,104.31 L570.00,104.29 L570.20,104.26 L570.40,104.24 L570.60,104.26 L570.80,104.25 L571.00,104.22 L571.20,104.22 L571.40,104.27 L571.60,104.25 L571.80,104.25 L572.00,104.22 L572.20,104.16 L572.40,104.17 L572.60,104.12 L572.80,104.07 L573.00,104.05 L573.20,104.00 L573.40,103.86 L573.60,103.71 L573.80,103.21 L574.00,102.15 L574.20,100.15 L574.40,97.29 L574.60,94.58 L574.80,94.06 L575.00,96.19 L575.20,99.05 L575.40,100.92 L575.60,101.42 L575.80,100.52 L576.00,99.00 L576.20,98.05 L576.40,98.70 L576.60,100.41 L576.80,102.03 L577.00,103.15 L577.20,103.69 L577.40,103.91 L577.60,103.99 L577.80,104.11 L578.00,104.11 L578.20,104.13 L578.40,104.16 L578.60,104.22 L578.80,104.26 L579.00,104.28 L579.20,104.28 L579.40,104.24 L579.60,104.27 L579.80,104.25 L580.00,104.30 L580.20,104.33 L580.40,104.28 L580.60,104.30 L580.80,104.28 L581.00,104.25 L581.20,104.30 L581.40,104.30 L581.60,104.28 L581.80,104.30 L582.00,104.27 L582.20,104.28 L582.40,104.30 L582.60,104.34 L582.80,104.29 L583.00,104.33 L583.20,104.29 L583.40,104.28 L583.60,104.28 L583.80,104.27 L584.00,104.26 L584.20,104.30 L584.40,104.30 L584.60,104.28 L584.80,104.30 L585.00,104.28 L585.20,104.31 L585.40,104.35 L585.60,104.33 L585.80,104.32 L586.00,104.31 L586.20,104.30 L586.40,104.30 L586.60,104.28 L586.80,104.28 L587.00,104.32 L587.20,104.32 L587.40,104.28 L587.60,104.27 L587.80,104.32 L588.00,104.31 L588.20,104.34 L588.40,104.34 L588.60,104.34 L588.80,104.32 L589.00,104.33 L589.20,104.32 L589.40,104.32 L589.60,104.36 L589.80,104.31 L590.00,104.29 L590.20,104.34 L590.40,104.36 L590.60,104.37 L590.80,104.38 L591.00,104.32 L591.20,104.34 L591.40,104.30 L591.60,104.34 L591.80,104.32 L592.00,104.32 L592.20,104.32 L592.40,104.30 L592.60,104.31 L592.80,104.34 L593.00,104.33 L593.20,104.32 L593.40,104.31 L593.60,104.29 L593.80,104.28 L594.00,104.33 L594.20,104.36 L594.40,104.33 L594.60,104.31 L594.80,104.30 L595.00,104.34 L595.20,104.31 L595.40,104.29 L595.60,104.29 L595.80,104.27 L596.00,104.26 L596.20,104.26 L596.40,104.30 L596.60,104.34 L596.80,104.31 L597.00,104.30 L597.20,104.31 L597.40,104.27 L597.60,104.26 L597.80,104.29 L598.00,104.30 L598.20,104.29 L598.40,104.29 L598.60,104.26 L598.80,104.26 L599.00,104.26 L599.20,104.26 L599.40,104.25 L599.60,104.30 L599.80,104.26 L600.00,104.28 L600.20,104.26 L600.40,104.26 L600.60,104.30 L600.80,104.34 L601.00,104.36 L601.20,104.32 L601.40,104.31 L601.60,104.30 L601.80,104.26 L602.00,104.27 L602.20,104.29 L602.40,104.28 L602.60,104.31 L602.80,104.29 L603.00,104.27 L603.20,104.31 L603.40,104.30 L603.60,104.26 L603.80,104.30 L604.00,104.28 L604.20,104.27 L604.40,104.26 L604.60,104.27 L604.80,104.27 L605.00,104.23 L605.20,104.20 L605.40,104.20 L605.60,104.19 L605.80,104.14 L606.00,104.07 L606.20,103.87 L606.40,103.50 L606.60,102.89 L606.80,102.08 L607.00,101.31 L607.20,101.09 L607.40,101.48 L607.60,102.10 L607.80,102.51 L608.00,102.32 L608.20,101.16 L608.40,98.84 L608.60,95.93 L608.80,94.08 L609.00,95.07 L609.20,97.96 L609.40,100.68 L609.60,102.49 L609.80,103.35 L610.00,103.74 L610.20,103.92 L610.40,104.05 L610.60,104.13 L610.80,104.17 L611.00,104.16 L611.20,104.21 L611.40,104.25 L611.60,104.21 L611.80,104.21 L612.00,104.23 L612.20,104.23 L612.40,104.22 L612.60,104.26 L612.80,104.24 L613.00,104.26 L613.20,104.23 L613.40,104.25 L613.60,104.30 L613.80,104.25 L614.00,104.23 L614.20,104.29 L614.40,104.32 L614.60,104.31 L614.80,104.28 L615.00,104.27 L615.20,104.30 L615.40,104.30 L615.60,104.29 L615.80,104.31 L616.00,104.27 L616.20,104.27 L616.40,104.31 L616.60,104.34 L616.80,104.32 L617.00,104.33 L617.20,104.34 L617.40,104.32 L617.60,104.28 L617.80,104.25 L618.00,104.28 L618.20,104.27 L618.40,104.28 L618.60,104.25 L618.80,104.30 L619.00,104.28 L619.20,104.29 L619.40,104.30 L619.60,104.28 L619.80,104.26 L620.00,104.27 L620.20,104.26 L620.40,104.23 L620.60,104.22 L620.80,104.20 L621.00,104.25 L621.20,104.22 L621.40,104.26 L621.60,104.25 L621.80,104.26 L622.00,104.21 L622.20,104.14 L622.40,104.02 L622.60,103.86 L622.80,103.52 L623.00,102.91 L623.20,102.12 L623.40,101.34 L623.60,101.16 L623.80,101.66 L624.00,102.39 L624.20,102.85 L624.40,103.02 L624.60,102.82 L624.80,102.66 L625.00,102.74 L625.20,103.10 L625.40,103.49 L625.60,103.81 L625.80,104.01 L626.00,104.13 L626.20,104.18 L626.40,104.19 L626.60,104.19 L626.80,104.22 L627.00,104.28 L627.20,104.30 L627.40,104.26 L627.60,104.28 L627.80,104.25 L628.00,104.25 L628.20,104.30 L628.40,104.28 L628.60,104.25 L628.80,104.27 L629.00,104.29 L629.20,104.29 L629.40,104.32 L629.60,104.31 L629.80,104.29 L630.00,104.27 L630.20,104.28 L630.40,104.31 L630.60,104.30 L630.80,104.29 L631.00,104.27 L631.20,104.30 L631.40,104.34 L631.60,104.32 L631.80,104.32 L632.00,104.29 L632.20,104.26 L632.40,104.24 L632.60,104.27 L632.80,104.31 L633.00,104.31 L633.20,104.31 L633.40,104.32 L633.60,104.29 L633.80,104.28 L634.00,104.25 L634.20,104.28 L634.40,104.29 L634.60,104.27 L634.80,104.28 L635.00,104.30 L635.20,104.23 L635.40,104.20 L635.60,104.20 L635.80,104.21 L636.00,104.16 L636.20,104.12 L636.40,104.07 L636.60,103.92 L636.80,103.66 L637.00,103.12 L637.20,102.38 L637.40,101.49 L637.60,100.74 L637.80,100.52 L638.00,101.05 L638.20,101.94 L638.40,102.80 L638.60,103.41 L638.80,103.77 L639.00,103.94 L639.20,104.08 L639.40,104.13 L639.60,104.15 L639.80,104.15 L640.00,104.08 L640.20,103.96 L640.40,103.78 L640.60,103.45 L640.80,103.01 L641.00,102.54 L641.20,102.20 L641.40,102.27 L641.60,102.70 L641.80,103.23 L642.00,103.65 L642.20,103.93 L642.40,104.12 L642.60,104.21 L642.80,104.19 L643.00,104.25 L643.20,104.22 L643.40,104.24 L643.60,104.25 L643.80,104.30 L644.00,104.26 L644.20,104.23 L644.40,104.29 L644.60,104.28 L644.80,104.28 L645.00,104.27 L645.20,104.26 L645.40,104.23 L645.60,104.26 L645.80,104.25 L646.00,104.27 L646.20,104.32 L646.40,104.34 L646.60,104.30 L646.80,104.28 L647.00,104.26 L647.20,104.28 L647.40,104.26 L647.60,104.24 L647.80,104.30 L648.00,104.30 L648.20,104.33 L648.40,104.29 L648.60,104.26 L648.80,104.28 L649.00,104.30 L649.20,104.27 L649.40,104.28 L649.60,104.29 L649.80,104.29 L650.00,104.28 L650.20,104.28 L650.40,104.26 L650.60,104.24 L650.80,104.23 L651.00,104.29 L651.20,104.27 L651.40,104.29 L651.60,104.26 L651.80,104.31 L652.00,104.26 L652.20,104.30 L652.40,104.30 L652.60,104.33 L652.80,104.35" fill="none" stroke="#3aa884" stroke-width="0.60" stroke-linejoin="round"/>
<path d="M453.20,133.41 L453.55,133.27 L453.90,133.33 L454.25,133.24 L454.60,133.35 L454.95,133.21 L455.30,133.30 L455.65,133.29 L456.00,133.31 L456.35,133.33 L456.70,133.17 L457.05,133.06 L457.40,133.04 L457.75,132.87 L458.10,132.67 L458.45,132.34 L458.80,131.82 L459.15,130.57 L459.50,128.25 L459.85,124.85 L460.20,121.95 L460.55,121.76 L460.90,124.53 L461.25,127.88 L461.60,130.31 L461.95,131.63 L462.30,132.36 L462.65,132.67 L463.00,132.89 L463.35,133.09 L463.70,133.16 L464.05,133.17 L464.40,133.28 L464.75,133.37 L465.10,133.33 L465.45,133.41 L465.80,133.28 L466.15,133.23 L466.50,133.22 L466.85,133.37 L467.20,133.40 L467.55,133.43 L467.90,133.36 L468.25,133.37 L468.60,133.45 L468.95,133.35 L469.30,133.29 L469.65,133.25 L470.00,133.31 L470.35,133.42 L470.70,133.43 L471.05,133.40 L471.40,133.41 L471.75,133.35 L472.10,133.46 L472.45,133.41 L472.80,133.37 L473.15,133.35 L473.50,133.45 L473.85,133.40 L474.20,133.49 L474.55,133.43 L474.90,133.41 L475.25,133.34 L475.60,133.45 L475.95,133.50 L476.30,133.46 L476.65,133.37 L477.00,133.39 L477.35,133.38 L477.70,133.46 L478.05,133.52 L478.40,133.52 L478.75,133.42 L479.10,133.32 L479.45,133.43 L479.80,133.49 L480.15,133.37 L480.50,133.36 L480.85,133.35 L481.20,133.42 L481.55,133.26 L481.90,133.13 L482.25,133.13 L482.60,132.88 L482.95,132.38 L483.30,131.73 L483.65,131.11 L484.00,131.19 L484.35,131.77 L484.70,132.35 L485.05,132.72 L485.40,132.96 L485.75,133.12 L486.10,133.14 L486.45,133.12 L486.80,133.16 L487.15,133.17 L487.50,133.13 L487.85,133.02 L488.20,133.02 L488.55,132.95 L488.90,132.84 L489.25,132.65 L489.60,132.15 L489.95,131.55 L490.30,130.16 L490.65,127.39 L491.00,122.68 L491.35,116.39 L491.70,111.62 L492.05,112.86 L492.40,118.58 L492.75,124.57 L493.10,128.62 L493.45,130.76 L493.80,131.78 L494.15,132.33 L494.50,132.66 L494.85,132.80 L495.20,132.85 L495.55,132.93 L495.90,133.13 L496.25,133.23 L496.60,133.18 L496.95,133.30 L497.30,133.33 L497.65,133.30 L498.00,133.40 L498.35,133.31 L498.70,133.24 L499.05,133.22 L499.40,133.22 L499.75,133.06 L500.10,132.82 L500.45,132.75 L500.80,132.79 L501.15,133.07 L501.50,133.16 L501.85,133.38 L502.20,133.37 L502.55,133.45 L502.90,133.54 L503.25,133.55 L503.60,133.55 L503.95,133.54 L504.30,133.58 L504.65,133.53 L505.00,133.48 L505.35,133.51 L505.70,133.53 L506.05,133.46 L506.40,133.50 L506.75,133.52 L507.10,133.46 L507.45,133.54 L507.80,133.60 L508.15,133.55 L508.50,133.63 L508.85,133.69 L509.20,133.67 L509.55,133.60 L509.90,133.54 L510.25,133.48 L510.60,133.48 L510.95,133.62 L511.30,133.51 L511.65,133.62 L512.00,133.64 L512.35,133.67 L512.70,133.55 L513.05,133.60 L513.40,133.53 L513.75,133.59 L514.10,133.65 L514.45,133.67 L514.80,133.64 L515.15,133.69 L515.50,133.60 L515.85,133.53 L516.20,133.63 L516.55,133.53 L516.90,133.55 L517.25,133.56 L517.60,133.65 L517.95,133.60 L518.30,133.62 L518.65,133.61 L519.00,133.61 L519.35,133.60 L519.70,133.60 L520.05,133.62 L520.40,133.60 L520.75,133.59 L521.10,133.68 L521.45,133.75 L521.80,133.64 L522.15,133.71 L522.50,133.58 L522.85,133.56 L523.20,133.66 L523.55,133.58 L523.90,133.63 L524.25,133.72 L524.60,133.70 L524.95,133.65 L525.30,133.55 L525.65,133.57 L526.00,133.59 L526.35,133.66 L526.70,133.62 L527.05,133.68 L527.40,133.63 L527.75,133.65 L528.10,133.69 L528.45,133.59 L528.80,133.69 L529.15,133.64 L529.50,133.62 L529.85,133.71 L530.20,133.67 L530.55,133.64 L530.90,133.56 L531.25,133.52 L531.60,133.60 L531.95,133.59 L532.30,133.60 L532.65,133.62 L533.00,133.61 L533.35,133.53 L533.70,133.58 L534.05,133.52 L534.40,133.41 L534.75,133.46 L535.10,133.46 L535.45,133.25 L535.80,133.18 L536.15,132.93 L536.50,132.41 L536.85,131.74 L537.20,130.83 L537.55,129.54 L537.90,128.47 L538.25,127.85 L538.60,128.16 L538.95,129.33 L539.30,130.61 L539.65,131.63 L540.00,132.40 L540.35,132.83 L540.70,133.09 L541.05,133.28 L541.40,133.43 L541.75,133.50 L542.10,133.51 L542.45,133.55 L542.80,133.54 L543.15,133.61 L543.50,133.68 L543.85,133.70 L544.20,133.62 L544.55,133.60 L544.90,133.70 L545.25,133.65 L545.60,133.68 L545.95,133.58 L546.30,133.54 L546.65,133.53 L547.00,133.62 L547.35,133.58 L547.70,133.64 L548.05,133.57 L548.40,133.64 L548.75,133.69 L549.10,133.62 L549.45,133.59 L549.80,133.57 L550.15,133.60 L550.50,133.56 L550.85,133.54 L551.20,133.64 L551.55,133.72 L551.90,133.60 L552.25,133.61 L552.60,133.63 L552.95,133.68 L553.30,133.63 L553.65,133.58 L554.00,133.58 L554.35,133.55 L554.70,133.48 L555.05,133.35 L555.40,133.18 L555.75,132.70 L556.10,132.22 L556.45,131.33 L556.80,130.25 L557.15,129.12 L557.50,128.34 L557.85,128.36 L558.20,129.16 L558.55,130.24 L558.90,131.30 L559.25,132.18 L559.60,132.82 L559.95,133.11 L560.30,133.20 L560.65,133.43 L561.00,133.56 L561.35,133.64 L561.70,133.65 L562.05,133.62 L562.40,133.55 L562.75,133.68 L563.10,133.66 L563.45,133.59 L563.80,133.66 L564.15,133.58 L564.50,133.61 L564.85,133.67 L565.20,133.74 L565.55,133.70 L565.90,133.64 L566.25,133.64 L566.60,133.73 L566.95,133.64 L567.30,133.60 L567.65,133.62 L568.00,133.75 L568.35,133.80 L568.70,133.85 L569.05,133.69 L569.40,133.69 L569.75,133.61 L570.10,133.65 L570.45,133.71 L570.80,133.67 L571.15,133.68 L571.50,133.67 L571.85,133.61 L572.20,133.53 L572.55,133.43 L572.90,133.40 L573.25,133.34 L573.60,133.13 L573.95,132.70 L574.30,132.00 L574.65,130.98 L575.00,129.74 L575.35,128.52 L575.70,128.05 L576.05,128.35 L576.40,129.50 L576.75,130.75 L577.10,131.70 L577.45,132.53 L577.80,133.03 L578.15,133.34 L578.50,133.38 L578.85,133.44 L579.20,133.46 L579.55,133.64 L579.90,133.61 L580.25,133.64 L580.60,133.73 L580.95,133.71 L581.30,133.75 L581.65,133.78 L582.00,133.75 L582.35,133.84 L582.70,133.85 L583.05,133.87 L583.40,133.88 L583.75,133.87 L584.10,133.78 L584.45,133.87 L584.80,133.93 L585.15,133.80 L585.50,133.79 L585.85,133.74 L586.20,133.71 L586.55,133.78 L586.90,133.79 L587.25,133.74 L587.60,133.78 L587.95,133.85 L588.30,133.77 L588.65,133.83 L589.00,133.87 L589.35,133.93 L589.70,133.99 L590.05,134.00 L590.40,133.91 L590.75,133.81 L591.10,133.80 L591.45,133.76 L591.80,133.88 L592.15,133.84 L592.50,133.87 L592.85,133.91 L593.20,133.88 L593.55,133.97 L593.90,133.96 L594.25,133.94 L594.60,133.84 L594.95,133.81 L595.30,133.87 L595.65,133.86 L596.00,133.89 L596.35,133.96 L596.70,133.96 L597.05,133.99 L597.40,133.91 L597.75,133.81 L598.10,133.80 L598.45,133.92 L598.80,133.85 L599.15,133.79 L599.50,133.75 L599.85,133.91 L600.20,133.84 L600.55,133.77 L600.90,133.79 L601.25,133.74 L601.60,133.85 L601.95,133.90 L602.30,133.87 L602.65,133.91 L603.00,133.80 L603.35,133.88 L603.70,133.89 L604.05,133.92 L604.40,133.81 L604.75,133.90 L605.10,133.95 L605.45,133.86 L605.80,133.76 L606.15,133.70 L606.50,133.65 L606.85,133.46 L607.20,133.22 L607.55,132.97 L607.90,132.55 L608.25,132.06 L608.60,131.80 L608.95,131.76 L609.30,131.87 L609.65,132.30 L610.00,132.70 L610.35,133.05 L610.70,133.33 L611.05,133.60 L611.40,133.72 L611.75,133.73 L612.10,133.70 L612.45,133.70 L612.80,133.75 L613.15,133.82 L613.50,133.85 L613.85,133.86 L614.20,133.88 L614.55,133.85 L614.90,133.97 L615.25,133.89 L615.60,133.87 L615.95,133.92 L616.30,133.99 L616.65,133.94 L617.00,133.96 L617.35,133.89 L617.70,133.81 L618.05,133.95 L618.40,133.85 L618.75,133.93 L619.10,133.82 L619.45,133.82 L619.80,133.85 L620.15,133.94 L620.50,133.95 L620.85,133.85 L621.20,133.70 L621.55,133.71 L621.90,133.65 L622.25,133.54 L622.60,133.20 L622.95,132.98 L623.30,132.74 L623.65,132.62 L624.00,132.61 L624.35,132.76 L624.70,133.01 L625.05,133.14 L625.40,133.47 L625.75,133.64 L626.10,133.82 L626.45,133.79 L626.80,133.85 L627.15,133.96 L627.50,134.04 L627.85,134.02 L628.20,134.06 L628.55,133.92 L628.90,133.86 L629.25,133.86 L629.60,133.98 L629.95,134.02 L630.30,133.99 L630.65,134.06 L631.00,134.03 L631.35,133.94 L631.70,134.04 L632.05,134.06 L632.40,134.12 L632.75,134.11 L633.10,134.05 L633.45,134.09 L633.80,133.97 L634.15,133.87 L634.50,133.86 L634.85,133.98 L635.20,133.86 L635.55,133.91 L635.90,133.86 L636.25,133.71 L636.60,133.59 L636.95,133.56 L637.30,133.42 L637.65,133.39 L638.00,133.20 L638.35,133.23 L638.70,133.36 L639.05,133.38 L639.40,133.47 L639.75,133.63 L640.10,133.68 L640.45,133.82 L640.80,133.97 L641.15,133.94 L641.50,133.91 L641.85,134.03 L642.20,133.94 L642.55,134.05 L642.90,134.02 L643.25,134.09 L643.60,134.04 L643.95,134.13 L644.30,134.12 L644.65,134.11 L645.00,134.00 L645.35,134.04 L645.70,134.00 L646.05,134.07 L646.40,134.03 L646.75,133.99 L647.10,133.96 L647.45,133.96 L647.80,133.94 L648.15,133.95 L648.50,134.02 L648.85,134.11 L649.20,134.15 L649.55,134.09 L649.90,134.17 L650.25,134.10 L650.60,134.08 L650.95,134.09 L651.30,134.11 L651.65,134.10 L652.00,134.13 L652.35,134.05 L652.70,134.01" fill="none" stroke="#78b8e0" stroke-width="0.60" stroke-linejoin="round"/>
<path d="M453.20,170.20 L453.55,170.25 L453.90,170.30 L454.25,170.19 L454.60,170.22 L454.95,170.21 L455.30,170.18 L455.65,170.05 L456.00,169.94 L456.35,169.92 L456.70,169.95 L457.05,169.83 L457.40,169.75 L457.75,169.59 L458.10,169.48 L458.45,169.19 L458.80,168.36 L459.15,166.76 L459.50,163.35 L459.85,158.48 L460.20,153.81 L460.55,153.45 L460.90,158.01 L461.25,163.04 L461.60,166.54 L461.95,168.23 L462.30,169.05 L462.65,169.50 L463.00,169.71 L463.35,169.78 L463.70,169.80 L464.05,170.00 L464.40,170.03 L464.75,170.16 L465.10,170.08 L465.45,170.17 L465.80,170.23 L466.15,170.29 L466.50,170.16 L466.85,170.16 L467.20,170.10 L467.55,170.20 L467.90,170.19 L468.25,170.30 L468.60,170.25 L468.95,170.30 L469.30,170.35 L469.65,170.26 L470.00,170.27 L470.35,170.36 L470.70,170.32 L471.05,170.27 L471.40,170.23 L471.75,170.30 L472.10,170.23 L472.45,170.27 L472.80,170.28 L473.15,170.29 L473.50,170.21 L473.85,170.27 L474.20,170.36 L474.55,170.29 L474.90,170.25 L475.25,170.34 L475.60,170.33 L475.95,170.26 L476.30,170.17 L476.65,170.27 L477.00,170.24 L477.35,170.25 L477.70,170.21 L478.05,170.26 L478.40,170.30 L478.75,170.24 L479.10,170.16 L479.45,170.29 L479.80,170.34 L480.15,170.19 L480.50,170.21 L480.85,170.23 L481.20,170.18 L481.55,170.19 L481.90,170.21 L482.25,170.07 L482.60,169.78 L482.95,169.28 L483.30,168.63 L483.65,168.06 L484.00,168.09 L484.35,168.66 L484.70,169.35 L485.05,169.73 L485.40,169.96 L485.75,170.07 L486.10,170.09 L486.45,169.94 L486.80,170.00 L487.15,169.85 L487.50,169.86 L487.85,169.83 L488.20,169.72 L488.55,169.52 L488.90,169.23 L489.25,168.90 L489.60,168.53 L489.95,167.64 L490.30,165.87 L490.65,162.17 L491.00,155.83 L491.35,147.54 L491.70,141.28 L492.05,142.76 L492.40,150.43 L492.75,158.31 L493.10,163.73 L493.45,166.68 L493.80,168.08 L494.15,168.86 L494.50,169.25 L494.85,169.41 L495.20,169.55 L495.55,169.64 L495.90,169.76 L496.25,169.78 L496.60,169.95 L496.95,170.03 L497.30,170.05 L497.65,170.17 L498.00,170.14 L498.35,170.18 L498.70,170.28 L499.05,170.27 L499.40,170.28 L499.75,170.24 L500.10,170.35 L500.45,170.36 L500.80,170.29 L501.15,170.26 L501.50,170.30 L501.85,170.30 L502.20,170.31 L502.55,170.25 L502.90,170.30 L503.25,170.35 L503.60,170.39 L503.95,170.36 L504.30,170.34 L504.65,170.34 L505.00,170.35 L505.35,170.34 L505.70,170.25 L506.05,170.25 L506.40,170.39 L506.75,170.44 L507.10,170.40 L507.45,170.43 L507.80,170.35 L508.15,170.31 L508.50,170.34 L508.85,170.39 L509.20,170.29 L509.55,170.32 L509.90,170.43 L510.25,170.43 L510.60,170.50 L510.95,170.37 L511.30,170.46 L511.65,170.49 L512.00,170.35 L512.35,170.37 L512.70,170.43 L513.05,170.36 L513.40,170.40 L513.75,170.47 L514.10,170.49 L514.45,170.43 L514.80,170.33 L515.15,170.37 L515.50,170.32 L515.85,170.36 L516.20,170.33 L516.55,170.33 L516.90,170.37 L517.25,170.45 L517.60,170.52 L517.95,170.45 L518.30,170.33 L518.65,170.41 L519.00,170.38 L519.35,170.44 L519.70,170.49 L520.05,170.36 L520.40,170.43 L520.75,170.38 L521.10,170.36 L521.45,170.35 L521.80,170.38 L522.15,170.34 L522.50,170.37 L522.85,170.35 L523.20,170.30 L523.55,170.30 L523.90,170.38 L524.25,170.36 L524.60,170.32 L524.95,170.33 L525.30,170.31 L525.65,170.45 L526.00,170.49 L526.35,170.38 L526.70,170.35 L527.05,170.36 L527.40,170.39 L527.75,170.37 L528.10,170.39 L528.45,170.44 L528.80,170.35 L529.15,170.38 L529.50,170.32 L529.85,170.36 L530.20,170.33 L530.55,170.41 L530.90,170.46 L531.25,170.51 L531.60,170.42 L531.95,170.41 L532.30,170.31 L532.65,170.35 L533.00,170.38 L533.35,170.32 L533.70,170.26 L534.05,170.29 L534.40,170.29 L534.75,170.27 L535.10,170.12 L535.45,169.97 L535.80,169.78 L536.15,169.48 L536.50,168.96 L536.85,168.21 L537.20,167.23 L537.55,165.99 L537.90,164.90 L538.25,164.26 L538.60,164.59 L538.95,165.81 L539.30,166.99 L539.65,168.09 L540.00,168.99 L540.35,169.47 L540.70,169.89 L541.05,170.08 L541.40,170.11 L541.75,170.25 L542.10,170.34 L542.45,170.33 L542.80,170.25 L543.15,170.21 L543.50,170.34 L543.85,170.42 L544.20,170.43 L544.55,170.46 L544.90,170.48 L545.25,170.39 L545.60,170.34 L545.95,170.44 L546.30,170.49 L546.65,170.44 L547.00,170.38 L547.35,170.31 L547.70,170.34 L548.05,170.45 L548.40,170.38 L548.75,170.36 L549.10,170.29 L549.45,170.36 L549.80,170.30 L550.15,170.38 L550.50,170.39 L550.85,170.38 L551.20,170.34 L551.55,170.32 L551.90,170.43 L552.25,170.49 L552.60,170.48 L552.95,170.36 L553.30,170.29 L553.65,170.27 L554.00,170.34 L554.35,170.38 L554.70,170.23 L555.05,170.19 L555.40,170.05 L555.75,169.86 L556.10,169.49 L556.45,169.05 L556.80,168.34 L557.15,167.43 L557.50,166.35 L557.85,165.60 L558.20,165.64 L558.55,166.29 L558.90,167.42 L559.25,168.41 L559.60,169.07 L559.95,169.56 L560.30,169.88 L560.65,170.13 L561.00,170.24 L561.35,170.23 L561.70,170.36 L562.05,170.44 L562.40,170.48 L562.75,170.43 L563.10,170.41 L563.45,170.39 L563.80,170.49 L564.15,170.45 L564.50,170.53 L564.85,170.42 L565.20,170.33 L565.55,170.37 L565.90,170.34 L566.25,170.34 L566.60,170.29 L566.95,170.28 L567.30,170.34 L567.65,170.30 L568.00,170.31 L568.35,170.38 L568.70,170.35 L569.05,170.34 L569.40,170.34 L569.75,170.31 L570.10,170.35 L570.45,170.40 L570.80,170.28 L571.15,170.29 L571.50,170.28 L571.85,170.33 L572.20,170.27 L572.55,170.10 L572.90,169.97 L573.25,169.78 L573.60,169.38 L573.95,168.66 L574.30,167.52 L574.65,166.28 L575.00,165.12 L575.35,164.49 L575.70,164.91 L576.05,165.96 L576.40,167.30 L576.75,168.24 L577.10,169.11 L577.45,169.54 L577.80,169.88 L578.15,170.00 L578.50,170.12 L578.85,170.24 L579.20,170.39 L579.55,170.30 L579.90,170.33 L580.25,170.29 L580.60,170.41 L580.95,170.36 L581.30,170.34 L581.65,170.46 L582.00,170.38 L582.35,170.50 L582.70,170.45 L583.05,170.57 L583.40,170.46 L583.75,170.40 L584.10,170.45 L584.45,170.44 L584.80,170.50 L585.15,170.47 L585.50,170.46 L585.85,170.40 L586.20,170.38 L586.55,170.35 L586.90,170.42 L587.25,170.55 L587.60,170.55 L587.95,170.51 L588.30,170.52 L588.65,170.58 L589.00,170.63 L589.35,170.52 L589.70,170.56 L590.05,170.51 L590.40,170.61 L590.75,170.63 L591.10,170.61 L591.45,170.62 L591.80,170.64 L592.15,170.52 L592.50,170.50 L592.85,170.44 L593.20,170.42 L593.55,170.57 L593.90,170.58 L594.25,170.51 L594.60,170.49 L594.95,170.51 L595.30,170.45 L595.65,170.56 L596.00,170.54 L596.35,170.46 L596.70,170.51 L597.05,170.52 L597.40,170.59 L597.75,170.53 L598.10,170.49 L598.45,170.52 L598.80,170.52 L599.15,170.47 L599.50,170.55 L599.85,170.63 L600.20,170.66 L600.55,170.64 L600.90,170.60 L601.25,170.63 L601.60,170.54 L601.95,170.46 L602.30,170.44 L602.65,170.48 L603.00,170.45 L603.35,170.46 L603.70,170.54 L604.05,170.54 L604.40,170.45 L604.75,170.37 L605.10,170.28 L605.45,170.20 L605.80,170.14 L606.15,170.10 L606.50,169.94 L606.85,169.58 L607.20,169.08 L607.55,168.69 L607.90,168.46 L608.25,168.25 L608.60,168.53 L608.95,169.03 L609.30,169.39 L609.65,169.78 L610.00,170.11 L610.35,170.29 L610.70,170.32 L611.05,170.46 L611.40,170.50 L611.75,170.54 L612.10,170.55 L612.45,170.61 L612.80,170.60 L613.15,170.66 L613.50,170.54 L613.85,170.46 L614.20,170.44 L614.55,170.50 L614.90,170.58 L615.25,170.66 L615.60,170.53 L615.95,170.46 L616.30,170.49 L616.65,170.56 L617.00,170.55 L617.35,170.52 L617.70,170.49 L618.05,170.57 L618.40,170.60 L618.75,170.67 L619.10,170.59 L619.45,170.58 L619.80,170.66 L620.15,170.64 L620.50,170.54 L620.85,170.57 L621.20,170.50 L621.55,170.36 L621.90,170.23 L622.25,170.16 L622.60,169.99 L622.95,169.79 L623.30,169.68 L623.65,169.50 L624.00,169.50 L624.35,169.62 L624.70,169.71 L625.05,170.01 L625.40,170.14 L625.75,170.23 L626.10,170.37 L626.45,170.40 L626.80,170.39 L627.15,170.40 L627.50,170.40 L627.85,170.46 L628.20,170.49 L628.55,170.48 L628.90,170.47 L629.25,170.60 L629.60,170.62 L629.95,170.64 L630.30,170.53 L630.65,170.65 L631.00,170.54 L631.35,170.63 L631.70,170.65 L632.05,170.61 L632.40,170.58 L632.75,170.60 L633.10,170.62 L633.45,170.67 L633.80,170.55 L634.15,170.48 L634.50,170.54 L634.85,170.50 L635.20,170.51 L635.55,170.45 L635.90,170.31 L636.25,170.34 L636.60,170.16 L636.95,170.01 L637.30,169.94 L637.65,169.87 L638.00,169.80 L638.35,169.81 L638.70,169.78 L639.05,169.84 L639.40,169.99 L639.75,170.22 L640.10,170.35 L640.45,170.45 L640.80,170.54 L641.15,170.51 L641.50,170.57 L641.85,170.58 L642.20,170.67 L642.55,170.62 L642.90,170.63 L643.25,170.66 L643.60,170.70 L643.95,170.73 L644.30,170.74 L644.65,170.63 L645.00,170.74 L645.35,170.61 L645.70,170.68 L646.05,170.64 L646.40,170.57 L646.75,170.59 L647.10,170.55 L647.45,170.55 L647.80,170.70 L648.15,170.75 L648.50,170.69 L648.85,170.69 L649.20,170.70 L649.55,170.66 L649.90,170.60 L650.25,170.63 L650.60,170.72 L650.95,170.79 L651.30,170.77 L651.65,170.79 L652.00,170.73 L652.35,170.77 L652.70,170.79" fill="none" stroke="#ebbd66" stroke-width="0.60" stroke-linejoin="round"/>
<path d="M453.20,207.06 L453.45,207.16 L453.70,207.09 L453.95,207.04 L454.20,206.96 L454.45,207.21 L454.70,207.00 L454.95,206.81 L455.20,206.76 L455.45,206.74 L455.70,206.75 L455.95,206.73 L456.20,206.64 L456.45,206.69 L456.70,206.71 L456.95,206.84 L457.20,206.73 L457.45,206.60 L457.70,206.58 L457.95,206.73 L458.20,206.72 L458.45,206.87 L458.70,206.96 L458.95,206.79 L459.20,206.50 L459.45,206.58 L459.70,206.53 L459.95,206.11 L460.20,205.27 L460.45,201.50 L460.70,191.44 L460.95,178.08 L461.20,179.48 L461.45,193.44 L461.70,202.42 L461.95,205.45 L462.20,206.29 L462.45,206.65 L462.70,206.65 L462.95,206.55 L463.20,206.74 L463.45,206.61 L463.70,206.83 L463.95,206.63 L464.20,206.74 L464.45,206.82 L464.70,206.69 L464.95,206.80 L465.20,206.87 L465.45,206.85 L465.70,207.10 L465.95,207.22 L466.20,207.30 L466.45,207.03 L466.70,206.78 L466.95,206.81 L467.20,206.71 L467.45,206.93 L467.70,206.85 L467.95,206.73 L468.20,206.75 L468.45,206.81 L468.70,207.01 L468.95,206.99 L469.20,206.90 L469.45,207.03 L469.70,206.80 L469.95,206.75 L470.20,206.96 L470.45,207.10 L470.70,206.86 L470.95,206.72 L471.20,206.85 L471.45,207.00 L471.70,206.77 L471.95,206.84 L472.20,206.81 L472.45,206.69 L472.70,206.67 L472.95,206.72 L473.20,206.83 L473.45,206.72 L473.70,206.90 L473.95,207.13 L474.20,207.16 L474.45,206.87 L474.70,207.00 L474.95,207.06 L475.20,206.78 L475.45,206.81 L475.70,206.96 L475.95,207.18 L476.20,207.29 L476.45,207.17 L476.70,207.10 L476.95,207.24 L477.20,206.95 L477.45,206.92 L477.70,206.67 L477.95,206.86 L478.20,206.88 L478.45,206.64 L478.70,206.45 L478.95,206.42 L479.20,206.37 L479.45,205.62 L479.70,203.69 L479.95,198.20 L480.20,188.41 L480.45,182.53 L480.70,188.71 L480.95,198.50 L481.20,203.88 L481.45,205.53 L481.70,205.10 L481.95,203.04 L482.20,199.11 L482.45,196.55 L482.70,198.86 L482.95,203.23 L483.20,205.43 L483.45,206.30 L483.70,206.81 L483.95,206.85 L484.20,207.05 L484.45,206.88 L484.70,206.89 L484.95,206.86 L485.20,206.82 L485.45,206.83 L485.70,206.88 L485.95,207.10 L486.20,207.28 L486.45,206.96 L486.70,207.07 L486.95,207.06 L487.20,207.00 L487.45,206.79 L487.70,206.83 L487.95,206.83 L488.20,206.86 L488.45,206.99 L488.70,206.95 L488.95,206.89 L489.20,206.85 L489.45,207.17 L489.70,207.06 L489.95,207.29 L490.20,207.02 L490.45,207.11 L490.70,207.11 L490.95,207.19 L491.20,207.14 L491.45,207.28 L491.70,207.23 L491.95,206.93 L492.20,207.08 L492.45,207.13 L492.70,206.97 L492.95,207.13 L493.20,207.26 L493.45,207.07 L493.70,206.90 L493.95,206.87 L494.20,207.00 L494.45,207.01 L494.70,206.83 L494.95,206.91 L495.20,207.01 L495.45,207.07 L495.70,207.00 L495.95,207.17 L496.20,207.21 L496.45,207.03 L496.70,206.98 L496.95,207.23 L497.20,207.02 L497.45,207.02 L497.70,206.95 L497.95,207.05 L498.20,207.20 L498.45,206.96 L498.70,206.86 L498.95,206.75 L499.20,206.71 L499.45,206.89 L499.70,206.97 L499.95,207.23 L500.20,207.14 L500.45,207.12 L500.70,206.87 L500.95,206.83 L501.20,206.85 L501.45,206.83 L501.70,207.08 L501.95,207.04 L502.20,206.88 L502.45,206.98 L502.70,206.85 L502.95,206.80 L503.20,206.97 L503.45,206.81 L503.70,207.05 L503.95,207.02 L504.20,206.82 L504.45,207.00 L504.70,207.24 L504.95,207.26 L505.20,207.31 L505.45,207.38 L505.70,207.08 L505.95,207.00 L506.20,207.06 L506.45,206.88 L506.70,206.97 L506.95,206.49 L507.20,205.02 L507.45,201.90 L507.70,197.88 L507.95,196.83 L508.20,200.66 L508.45,204.47 L508.70,206.00 L508.95,205.85 L509.20,204.33 L509.45,202.94 L509.70,203.11 L509.95,204.91 L510.20,205.88 L510.45,206.36 L510.70,206.79 L510.95,207.12 L511.20,207.10 L511.45,206.86 L511.70,206.72 L511.95,207.03 L512.20,207.14 L512.45,207.02 L512.70,207.28 L512.95,207.09 L513.20,206.92 L513.45,207.22 L513.70,206.95 L513.95,206.95 L514.20,206.86 L514.45,207.04 L514.70,207.06 L514.95,206.96 L515.20,207.09 L515.45,206.91 L515.70,207.23 L515.95,207.32 L516.20,207.08 L516.45,207.14 L516.70,207.02 L516.95,207.10 L517.20,207.02 L517.45,206.92 L517.70,207.01 L517.95,206.85 L518.20,207.21 L518.45,207.31 L518.70,207.09 L518.95,207.15 L519.20,206.98 L519.45,206.89 L519.70,206.94 L519.95,207.13 L520.20,206.92 L520.45,207.22 L520.70,207.06 L520.95,206.93 L521.20,207.01 L521.45,207.26 L521.70,207.16 L521.95,207.17 L522.20,207.39 L522.45,207.29 L522.70,207.14 L522.95,206.99 L523.20,207.06 L523.45,207.16 L523.70,207.19 L523.95,207.02 L524.20,206.83 L524.45,207.20 L524.70,207.26 L524.95,207.37 L525.20,207.43 L525.45,207.27 L525.70,207.06 L525.95,207.32 L526.20,207.43 L526.45,207.09 L526.70,207.18 L526.95,207.16 L527.20,206.92 L527.45,207.05 L527.70,207.17 L527.95,207.13 L528.20,207.02 L528.45,207.26 L528.70,207.29 L528.95,207.12 L529.20,207.27 L529.45,207.41 L529.70,207.24 L529.95,207.23 L530.20,207.00 L530.45,206.89 L530.70,207.17 L530.95,207.38 L531.20,207.49 L531.45,207.16 L531.70,207.25 L531.95,207.15 L532.20,207.01 L532.45,207.27 L532.70,207.02 L532.95,206.87 L533.20,206.92 L533.45,206.85 L533.70,206.93 L533.95,207.09 L534.20,207.12 L534.45,207.34 L534.70,207.24 L534.95,207.02 L535.20,207.10 L535.45,206.89 L535.70,207.08 L535.95,206.94 L536.20,207.02 L536.45,207.03 L536.70,207.28 L536.95,207.02 L537.20,206.95 L537.45,206.93 L537.70,207.00 L537.95,206.96 L538.20,207.21 L538.45,207.29 L538.70,207.27 L538.95,206.89 L539.20,206.12 L539.45,204.37 L539.70,201.92 L539.95,200.49 L540.20,201.53 L540.45,203.99 L540.70,205.79 L540.95,206.38 L541.20,206.67 L541.45,206.67 L541.70,206.87 L541.95,206.90 L542.20,206.99 L542.45,206.99 L542.70,207.01 L542.95,207.04 L543.20,207.23 L543.45,206.98 L543.70,207.18 L543.95,207.21 L544.20,207.33 L544.45,207.09 L544.70,207.02 L544.95,207.28 L545.20,207.45 L545.45,207.21 L545.70,207.13 L545.95,207.07 L546.20,207.03 L546.45,207.31 L546.70,207.25 L546.95,207.18 L547.20,207.37 L547.45,207.35 L547.70,207.49 L547.95,207.42 L548.20,207.28 L548.45,207.03 L548.70,207.10 L548.95,207.14 L549.20,207.22 L549.45,207.37 L549.70,207.22 L549.95,207.22 L550.20,207.36 L550.45,207.49 L550.70,207.51 L550.95,207.24 L551.20,207.36 L551.45,207.36 L551.70,207.18 L551.95,207.19 L552.20,207.30 L552.45,207.36 L552.70,207.09 L552.95,206.97 L553.20,206.78 L553.45,206.07 L553.70,205.55 L553.95,205.19 L554.20,205.36 L554.45,206.19 L554.70,206.59 L554.95,206.83 L555.20,207.25 L555.45,207.28 L555.70,206.99 L555.95,207.04 L556.20,207.01 L556.45,207.25 L556.70,207.45 L556.95,207.16 L557.20,207.26 L557.45,207.40 L557.70,207.12 L557.95,207.13 L558.20,206.93 L558.45,206.98 L558.70,207.12 L558.95,207.26 L559.20,207.12 L559.45,207.24 L559.70,207.25 L559.95,207.16 L560.20,207.19 L560.45,207.34 L560.70,207.42 L560.95,207.29 L561.20,207.39 L561.45,207.28 L561.70,207.24 L561.95,207.09 L562.20,207.14 L562.45,206.96 L562.70,207.24 L562.95,207.16 L563.20,207.12 L563.45,207.33 L563.70,207.37 L563.95,207.28 L564.20,207.42 L564.45,207.38 L564.70,207.48 L564.95,207.24 L565.20,207.37 L565.45,207.51 L565.70,207.33 L565.95,207.40 L566.20,207.54 L566.45,207.44 L566.70,207.46 L566.95,207.15 L567.20,206.98 L567.45,207.23 L567.70,207.34 L567.95,207.10 L568.20,207.27 L568.45,207.04 L568.70,207.25 L568.95,207.38 L569.20,207.21 L569.45,206.84 L569.70,206.45 L569.95,205.61 L570.20,204.23 L570.45,203.92 L570.70,204.84 L570.95,206.04 L571.20,206.43 L571.45,206.87 L571.70,206.75 L571.95,206.42 L572.20,205.60 L572.45,205.43 L572.70,205.96 L572.95,206.73 L573.20,206.98 L573.45,207.34 L573.70,207.30 L573.95,207.46 L574.20,207.58 L574.45,207.21 L574.70,207.07 L574.95,207.05 L575.20,207.14 L575.45,207.28 L575.70,207.30 L575.95,207.19 L576.20,207.05 L576.45,207.10 L576.70,207.40 L576.95,207.18 L577.20,207.05 L577.45,207.15 L577.70,207.03 L577.95,207.27 L578.20,207.24 L578.45,207.04 L578.70,207.11 L578.95,207.27 L579.20,207.29 L579.45,207.13 L579.70,207.39 L579.95,207.13 L580.20,206.94 L580.45,206.94 L580.70,207.23 L580.95,207.19 L581.20,207.16 L581.45,206.87 L581.70,206.54 L581.95,206.32 L582.20,206.19 L582.45,206.54 L582.70,206.73 L582.95,207.21 L583.20,207.38 L583.45,207.18 L583.70,207.42 L583.95,207.16 L584.20,207.41 L584.45,207.31 L584.70,207.45 L584.95,207.37 L585.20,207.28 L585.45,207.20 L585.70,207.26 L585.95,207.27 L586.20,207.08 L586.45,207.15 L586.70,207.19 L586.95,207.39 L587.20,207.17 L587.45,207.06 L587.70,206.95 L587.95,207.04 L588.20,207.10 L588.45,207.11 L588.70,206.98 L588.95,207.32 L589.20,207.08 L589.45,207.25 L589.70,207.12 L589.95,207.18 L590.20,207.17 L590.45,207.22 L590.70,207.05 L590.95,207.01 L591.20,206.93 L591.45,207.19 L591.70,206.99 L591.95,207.20 L592.20,207.13 L592.45,207.00 L592.70,207.29 L592.95,207.40 L593.20,207.17 L593.45,207.10 L593.70,207.30 L593.95,207.20 L594.20,207.35 L594.45,207.35 L594.70,207.34 L594.95,207.21 L595.20,207.26 L595.45,207.45 L595.70,207.17 L595.95,207.21 L596.20,207.24 L596.45,207.02 L596.70,207.03 L596.95,206.99 L597.20,207.20 L597.45,207.32 L597.70,207.35 L597.95,207.24 L598.20,207.33 L598.45,207.31 L598.70,207.13 L598.95,206.65 L599.20,206.50 L599.45,206.86 L599.70,206.88 L599.95,207.12 L600.20,207.41 L600.45,207.27 L600.70,207.25 L600.95,207.21 L601.20,207.27 L601.45,207.21 L601.70,207.10 L601.95,207.41 L602.20,207.30 L602.45,207.51 L602.70,207.38 L602.95,207.17 L603.20,207.09 L603.45,207.14 L603.70,207.45 L603.95,207.35 L604.20,207.14 L604.45,207.15 L604.70,207.17 L604.95,207.27 L605.20,207.11 L605.45,207.10 L605.70,207.01 L605.95,207.06 L606.20,207.17 L606.45,207.37 L606.70,207.16 L606.95,207.05 L607.20,206.98 L607.45,207.08 L607.70,207.38 L607.95,207.58 L608.20,207.45 L608.45,207.58 L608.70,207.37 L608.95,207.28 L609.20,207.16 L609.45,207.24 L609.70,207.14 L609.95,207.39 L610.20,207.49 L610.45,207.51 L610.70,207.49 L610.95,207.33 L611.20,207.24 L611.45,207.34 L611.70,207.27 L611.95,207.33 L612.20,207.18 L612.45,207.28 L612.70,207.47 L612.95,207.47 L613.20,207.31 L613.45,207.21 L613.70,207.17 L613.95,207.16 L614.20,207.39 L614.45,207.16 L614.70,207.28 L614.95,207.16 L615.20,207.25 L615.45,207.39 L615.70,207.33 L615.95,207.18 L616.20,207.29 L616.45,207.22 L616.70,207.30 L616.95,207.42 L617.20,207.29 L617.45,207.33 L617.70,207.36 L617.95,207.35 L618.20,207.24 L618.45,207.14 L618.70,207.40 L618.95,207.20 L619.20,207.08 L619.45,206.95 L619.70,207.33 L619.95,207.20 L620.20,207.35 L620.45,207.26 L620.70,207.35 L620.95,207.37 L621.20,207.24 L621.45,207.21 L621.70,207.45 L621.95,207.46 L622.20,207.17 L622.45,207.30 L622.70,207.06 L622.95,206.55 L623.20,206.37 L623.45,206.37 L623.70,206.40 L623.95,206.50 L624.20,206.86 L624.45,206.88 L624.70,206.90 L624.95,206.89 L625.20,207.11 L625.45,207.23 L625.70,207.23 L625.95,207.34 L626.20,207.20 L626.45,207.50 L626.70,207.27 L626.95,207.26 L627.20,207.36 L627.45,207.16 L627.70,207.48 L627.95,207.21 L628.20,207.38 L628.45,207.16 L628.70,207.23 L628.95,207.48 L629.20,207.48 L629.45,207.28 L629.70,207.52 L629.95,207.29 L630.20,207.16 L630.45,207.25 L630.70,207.37 L630.95,207.30 L631.20,207.34 L631.45,207.37 L631.70,207.22 L631.95,207.25 L632.20,207.16 L632.45,207.45 L632.70,207.48 L632.95,207.25 L633.20,207.27 L633.45,207.20 L633.70,207.37 L633.95,207.61 L634.20,207.39 L634.45,207.46 L634.70,207.31 L634.95,207.30 L635.20,207.34 L635.45,207.35 L635.70,207.36 L635.95,207.39 L636.20,207.40 L636.45,207.55 L636.70,207.66 L636.95,207.39 L637.20,207.40 L637.45,207.53 L637.70,207.67 L637.95,207.49 L638.20,207.31 L638.45,207.44 L638.70,207.62 L638.95,207.35 L639.20,207.26 L639.45,207.40 L639.70,207.21 L639.95,207.17 L640.20,207.19 L640.45,207.18 L640.70,207.28 L640.95,207.30 L641.20,207.18 L641.45,207.38 L641.70,207.38 L641.95,207.51 L642.20,207.25 L642.45,207.51 L642.70,207.42 L642.95,207.50 L643.20,207.46 L643.45,207.65 L643.70,207.76 L643.95,207.60 L644.20,207.45 L644.45,207.18 L644.70,207.07 L644.95,207.06 L645.20,207.34 L645.45,207.26 L645.70,207.14 L645.95,207.34 L646.20,207.17 L646.45,207.10 L646.70,207.19 L646.95,207.50 L647.20,207.36 L647.45,207.39 L647.70,207.41 L647.95,207.16 L648.20,207.16 L648.45,207.10 L648.70,207.11 L648.95,207.14 L649.20,207.21 L649.45,207.27 L649.70,207.30 L649.95,207.18 L650.20,207.11 L650.45,207.01 L650.70,207.35 L650.95,207.38 L651.20,207.25 L651.45,207.28 L651.70,207.10 L651.95,207.41 L652.20,207.58 L652.45,207.48 L652.70,207.38" fill="none" stroke="#333333" stroke-width="0.60" stroke-linejoin="round"/>
<rect x="452.70" y="0.50" width="200.60" height="215.80" fill="none" stroke="#1a1a1a" stroke-width="1"/>
<line x1="486.13" y1="216.30" x2="486.13" y2="212.80" stroke="#1a1a1a" stroke-width="0.90"/>
<line x1="486.13" y1="0.50" x2="486.13" y2="4.00" stroke="#1a1a1a" stroke-width="0.90"/>
<line x1="519.57" y1="216.30" x2="519.57" y2="212.80" stroke="#1a1a1a" stroke-width="0.90"/>
<line x1="519.57" y1="0.50" x2="519.57" y2="4.00" stroke="#1a1a1a" stroke-width="0.90"/>
<line x1="553.00" y1="216.30" x2="553.00" y2="212.80" stroke="#1a1a1a" stroke-width="0.90"/>
<line x1="553.00" y1="0.50" x2="553.00" y2="4.00" stroke="#1a1a1a" stroke-width="0.90"/>
<line x1="586.43" y1="216.30" x2="586.43" y2="212.80" stroke="#1a1a1a" stroke-width="0.90"/>
<line x1="586.43" y1="0.50" x2="586.43" y2="4.00" stroke="#1a1a1a" stroke-width="0.90"/>
<line x1="619.87" y1="216.30" x2="619.87" y2="212.80" stroke="#1a1a1a" stroke-width="0.90"/>
<line x1="619.87" y1="0.50" x2="619.87" y2="4.00" stroke="#1a1a1a" stroke-width="0.90"/>
<line x1="463.84" y1="216.30" x2="463.84" y2="214.30" stroke="#1a1a1a" stroke-width="0.90"/>
<line x1="463.84" y1="0.50" x2="463.84" y2="2.50" stroke="#1a1a1a" stroke-width="0.90"/>
<line x1="474.99" y1="216.30" x2="474.99" y2="214.30" stroke="#1a1a1a" stroke-width="0.90"/>
<line x1="474.99" y1="0.50" x2="474.99" y2="2.50" stroke="#1a1a1a" stroke-width="0.90"/>
<line x1="497.28" y1="216.30" x2="497.28" y2="214.30" stroke="#1a1a1a" stroke-width="0.90"/>
<line x1="497.28" y1="0.50" x2="497.28" y2="2.50" stroke="#1a1a1a" stroke-width="0.90"/>
<line x1="508.42" y1="216.30" x2="508.42" y2="214.30" stroke="#1a1a1a" stroke-width="0.90"/>
<line x1="508.42" y1="0.50" x2="508.42" y2="2.50" stroke="#1a1a1a" stroke-width="0.90"/>
<line x1="530.71" y1="216.30" x2="530.71" y2="214.30" stroke="#1a1a1a" stroke-width="0.90"/>
<line x1="530.71" y1="0.50" x2="530.71" y2="2.50" stroke="#1a1a1a" stroke-width="0.90"/>
<line x1="541.86" y1="216.30" x2="541.86" y2="214.30" stroke="#1a1a1a" stroke-width="0.90"/>
<line x1="541.86" y1="0.50" x2="541.86" y2="2.50" stroke="#1a1a1a" stroke-width="0.90"/>
<line x1="564.14" y1="216.30" x2="564.14" y2="214.30" stroke="#1a1a1a" stroke-width="0.90"/>
<line x1="564.14" y1="0.50" x2="564.14" y2="2.50" stroke="#1a1a1a" stroke-width="0.90"/>
<line x1="575.29" y1="216.30" x2="575.29" y2="214.30" stroke="#1a1a1a" stroke-width="0.90"/>
<line x1="575.29" y1="0.50" x2="575.29" y2="2.50" stroke="#1a1a1a" stroke-width="0.90"/>
<line x1="597.58" y1="216.30" x2="597.58" y2="214.30" stroke="#1a1a1a" stroke-width="0.90"/>
<line x1="597.58" y1="0.50" x2="597.58" y2="2.50" stroke="#1a1a1a" stroke-width="0.90"/>
<line x1="608.72" y1="216.30" x2="608.72" y2="214.30" stroke="#1a1a1a" stroke-width="0.90"/>
<line x1="608.72" y1="0.50" x2="608.72" y2="2.50" stroke="#1a1a1a" stroke-width="0.90"/>
<line x1="631.01" y1="216.30" x2="631.01" y2="214.30" stroke="#1a1a1a" stroke-width="0.90"/>
<line x1="631.01" y1="0.50" x2="631.01" y2="2.50" stroke="#1a1a1a" stroke-width="0.90"/>
<line x1="642.16" y1="216.30" x2="642.16" y2="214.30" stroke="#1a1a1a" stroke-width="0.90"/>
<line x1="642.16" y1="0.50" x2="642.16" y2="2.50" stroke="#1a1a1a" stroke-width="0.90"/>
<line x1="452.70" y1="8.40" x2="456.20" y2="8.40" stroke="#1a1a1a" stroke-width="0.90"/>
<line x1="653.30" y1="8.40" x2="649.80" y2="8.40" stroke="#1a1a1a" stroke-width="0.90"/>
<line x1="452.70" y1="48.40" x2="456.20" y2="48.40" stroke="#1a1a1a" stroke-width="0.90"/>
<line x1="653.30" y1="48.40" x2="649.80" y2="48.40" stroke="#1a1a1a" stroke-width="0.90"/>
<line x1="452.70" y1="88.40" x2="456.20" y2="88.40" stroke="#1a1a1a" stroke-width="0.90"/>
<line x1="653.30" y1="88.40" x2="649.80" y2="88.40" stroke="#1a1a1a" stroke-width="0.90"/>
<line x1="452.70" y1="128.40" x2="456.20" y2="128.40" stroke="#1a1a1a" stroke-width="0.90"/>
<line x1="653.30" y1="128.40" x2="649.80" y2="128.40" stroke="#1a1a1a" stroke-width="0.90"/>
<line x1="452.70" y1="168.40" x2="456.20" y2="168.40" stroke="#1a1a1a" stroke-width="0.90"/>
<line x1="653.30" y1="168.40" x2="649.80" y2="168.40" stroke="#1a1a1a" stroke-width="0.90"/>
<line x1="452.70" y1="208.40" x2="456.20" y2="208.40" stroke="#1a1a1a" stroke-width="0.90"/>
<line x1="653.30" y1="208.40" x2="649.80" y2="208.40" stroke="#1a1a1a" stroke-width="0.90"/>
<line x1="452.70" y1="28.40" x2="454.70" y2="28.40" stroke="#1a1a1a" stroke-width="0.90"/>
<line x1="653.30" y1="28.40" x2="651.30" y2="28.40" stroke="#1a1a1a" stroke-width="0.90"/>
<line x1="452.70" y1="68.40" x2="454.70" y2="68.40" stroke="#1a1a1a" stroke-width="0.90"/>
<line x1="653.30" y1="68.40" x2="651.30" y2="68.40" stroke="#1a1a1a" stroke-width="0.90"/>
<line x1="452.70" y1="108.40" x2="454.70" y2="108.40" stroke="#1a1a1a" stroke-width="0.90"/>
<line x1="653.30" y1="108.40" x2="651.30" y2="108.40" stroke="#1a1a1a" stroke-width="0.90"/>
<line x1="452.70" y1="148.40" x2="454.70" y2="148.40" stroke="#1a1a1a" stroke-width="0.90"/>
<line x1="653.30" y1="148.40" x2="651.30" y2="148.40" stroke="#1a1a1a" stroke-width="0.90"/>
<line x1="452.70" y1="188.40" x2="454.70" y2="188.40" stroke="#1a1a1a" stroke-width="0.90"/>
<line x1="653.30" y1="188.40" x2="651.30" y2="188.40" stroke="#1a1a1a" stroke-width="0.90"/>
<text x="0.00" y="0.00" font-size="8.60" fill="#222" stroke="#222" stroke-width="0.22" text-anchor="middle" font-weight="normal" transform="translate(452.70,228.5) scale(1,1.17)">20</text>
<text x="0.00" y="0.00" font-size="8.60" fill="#222" stroke="#222" stroke-width="0.22" text-anchor="middle" font-weight="normal" transform="translate(486.13,228.5) scale(1,1.17)">30</text>
<text x="0.00" y="0.00" font-size="8.60" fill="#222" stroke="#222" stroke-width="0.22" text-anchor="middle" font-weight="normal" transform="translate(519.57,228.5) scale(1,1.17)">40</text>
<text x="0.00" y="0.00" font-size="8.60" fill="#222" stroke="#222" stroke-width="0.22" text-anchor="middle" font-weight="normal" transform="translate(553.00,228.5) scale(1,1.17)">50</text>
<text x="0.00" y="0.00" font-size="8.60" fill="#222" stroke="#222" stroke-width="0.22" text-anchor="middle" font-weight="normal" transform="translate(586.43,228.5) scale(1,1.17)">60</text>
<text x="0.00" y="0.00" font-size="8.60" fill="#222" stroke="#222" stroke-width="0.22" text-anchor="middle" font-weight="normal" transform="translate(619.87,228.5) scale(1,1.17)">70</text>
<text x="0.00" y="0.00" font-size="8.60" fill="#222" stroke="#222" stroke-width="0.22" text-anchor="middle" font-weight="normal" transform="translate(653.30,228.5) scale(1,1.17)">80</text>
<text x="577.60" y="22.30" font-size="8.90" fill="#d4c84c" stroke="#d4c84c" stroke-width="0.22" text-anchor="start" font-weight="normal" >after 3rd mill.</text>
<text x="544.60" y="57.60" font-size="10.90" fill="#000" stroke="#000" stroke-width="0.10" text-anchor="start" font-weight="bold" >KNN</text>
<text x="568.40" y="61.20" font-size="7.00" fill="#000" stroke="#000" stroke-width="0.10" text-anchor="start" font-weight="bold" >ex</text>
<text x="577.50" y="77.30" font-size="8.90" fill="#3aa884" stroke="#3aa884" stroke-width="0.22" text-anchor="start" font-weight="normal" >after 2nd calc.</text>
<text x="578.70" y="122.20" font-size="8.90" fill="#62aee0" stroke="#62aee0" stroke-width="0.22" text-anchor="start" font-weight="normal" >after 2nd mill.</text>
<text x="579.10" y="156.50" font-size="8.90" fill="#e5b04c" stroke="#e5b04c" stroke-width="0.22" text-anchor="start" font-weight="normal" >after 1st calc.</text>
<text x="579.50" y="193.70" font-size="8.90" fill="#222" stroke="#222" stroke-width="0.22" text-anchor="start" font-weight="normal" >after 1st mill.</text>
<text x="553.00" y="246.20" font-size="10.60" fill="#222" stroke="#222" stroke-width="0.22" text-anchor="middle" font-weight="normal" >2θ / °</text>
<text x="0.00" y="0.00" font-size="11.05" fill="#111" stroke="#111" stroke-width="0.22" text-anchor="middle" font-weight="normal" transform="translate(440.3,108.8) rotate(-90)">Intensity / a.u.</text>
<text y="18.1" fill="#111" stroke="#111" stroke-width="0.35"><tspan x="396.6" font-size="17.8">(</tspan><tspan x="402.7" font-size="16.5">b</tspan><tspan x="413.75" font-size="17.8">)</tspan></text></svg>
</body></html>
